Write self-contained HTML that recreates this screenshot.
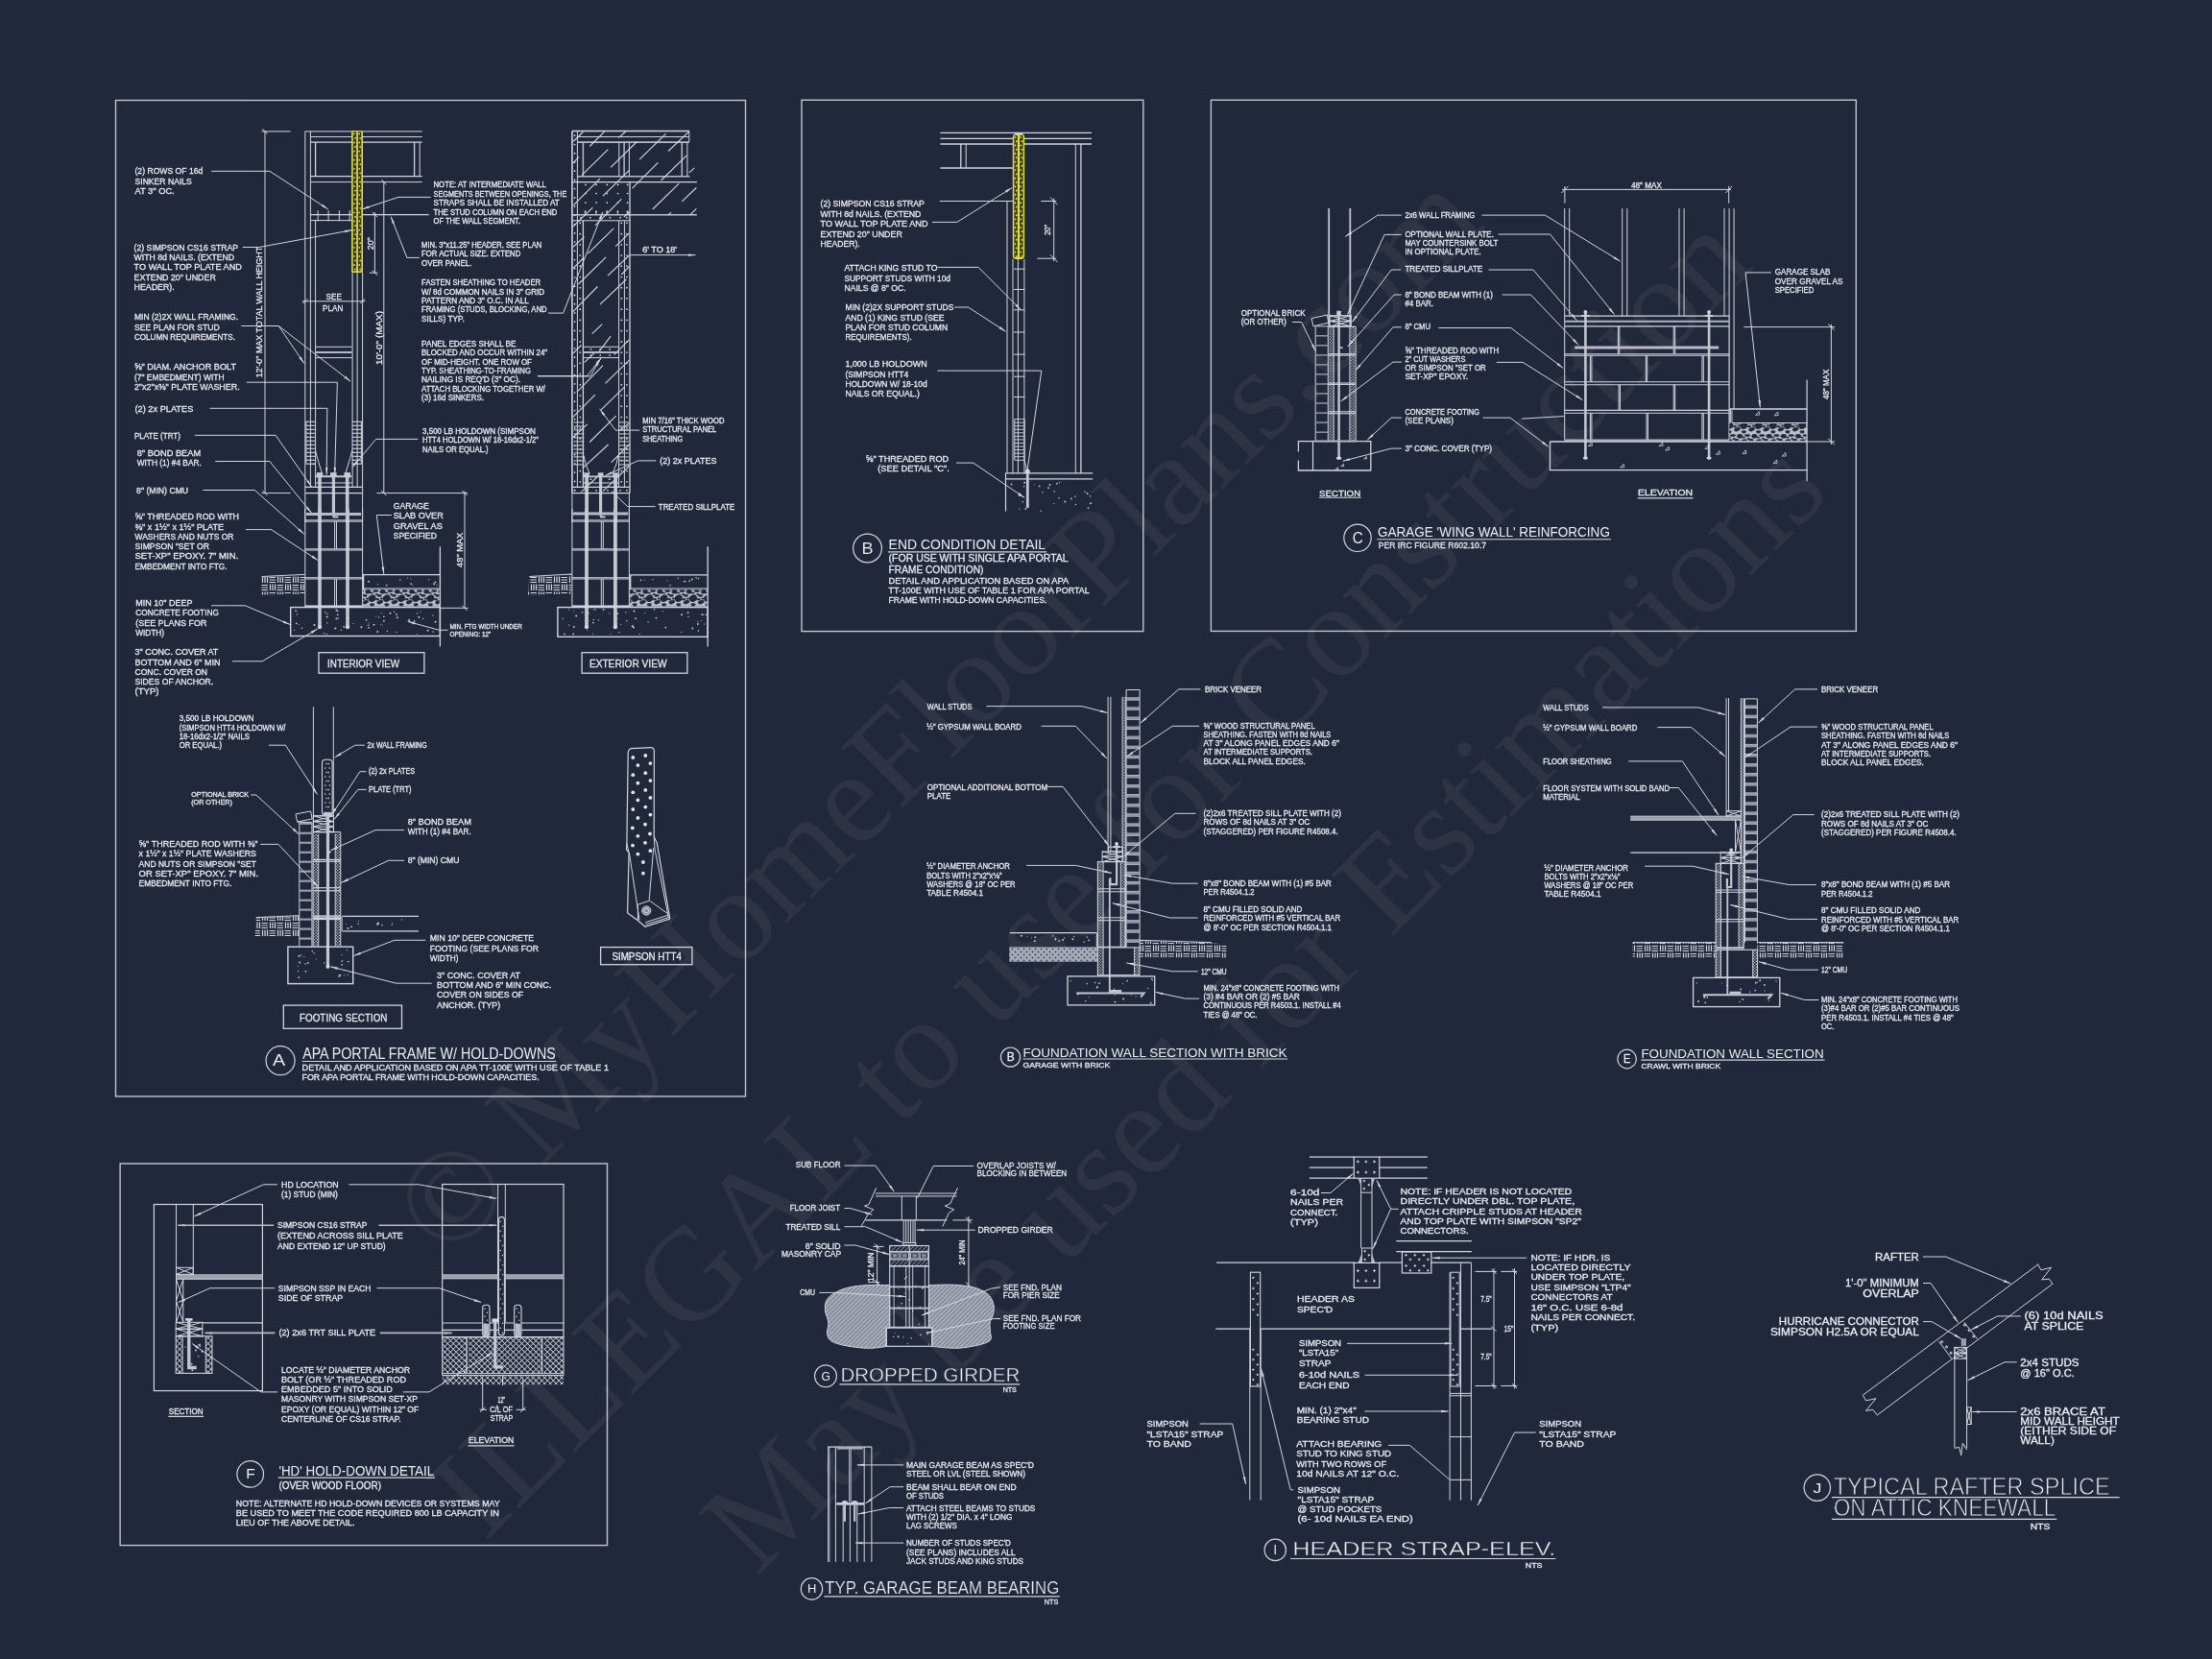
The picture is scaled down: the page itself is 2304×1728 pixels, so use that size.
<!DOCTYPE html>
<html><head><meta charset="utf-8"><title>Details</title>
<style>
html,body{margin:0;padding:0;background:#23293c;}
body{width:2304px;height:1728px;overflow:hidden;}
svg{display:block;position:absolute;left:0;top:0;opacity:0.999;will-change:transform;}
text{font-family:"Liberation Sans",sans-serif;stroke:#eceef4;stroke-width:0.28px;}
.wm text{stroke:none;}
.wm text{font-family:"Liberation Serif",serif;}
</style></head><body>
<svg width="2304" height="1728" viewBox="0 0 2304 1728">
<defs>
<pattern id="earth" width="3.2" height="3.2" patternUnits="userSpaceOnUse" patternTransform="rotate(45)"><line x1="0" y1="0" x2="0" y2="3.2" stroke="#d4d7e0" stroke-width="1.2"/></pattern>
<pattern id="xh" width="4.2" height="4.2" patternUnits="userSpaceOnUse" patternTransform="rotate(45)"><path d="M0 0H4.2M0 0V4.2" stroke="#d0d3dc" stroke-width="1.5"/></pattern>
<pattern id="cmu" width="3" height="3" patternUnits="userSpaceOnUse"><circle cx="0.8" cy="0.8" r="0.7" fill="#d0d3dc"/><circle cx="2.3" cy="2.3" r="0.7" fill="#d0d3dc"/></pattern>
<pattern id="gravel" width="15.2" height="18" patternUnits="userSpaceOnUse"><rect width="15.2" height="18" fill="#bcc0ca"/><g fill="#23283d"><ellipse cx="7.6" cy="11.2" rx="4.2" ry="3.6" transform="rotate(-25 7.6 11.2)"/><ellipse cx="3.4" cy="4.2" rx="3.0" ry="2.3"/><ellipse cx="11.3" cy="3.6" rx="3.0" ry="1.3"/><ellipse cx="0" cy="8.4" rx="2.6" ry="1.4"/><ellipse cx="15.2" cy="8.4" rx="2.6" ry="1.4"/><ellipse cx="0.6" cy="15.2" rx="3.4" ry="2.0" transform="rotate(-20 0.6 15.2)"/><ellipse cx="15.8" cy="15.2" rx="3.4" ry="2.0" transform="rotate(-20 15.8 15.2)"/><ellipse cx="13.4" cy="12.2" rx="1.7" ry="1.2"/><ellipse cx="2.2" cy="11.6" rx="1.5" ry="1.1"/><ellipse cx="12.4" cy="7.0" rx="1.6" ry="0.9"/><ellipse cx="7.6" cy="0.6" rx="2.2" ry="0.9"/><ellipse cx="7.6" cy="17.2" rx="2.6" ry="1.0"/><ellipse cx="7.4" cy="5.6" rx="1.8" ry="0.9"/></g></pattern>
<pattern id="gdots" width="6" height="6" patternUnits="userSpaceOnUse"><circle cx="1.5" cy="1.5" r="0.9" fill="#3a3f55"/><circle cx="4.5" cy="4.5" r="0.9" fill="#3a3f55"/></pattern>
<pattern id="bw" width="16" height="16" patternUnits="userSpaceOnUse"><path d="M0.5 1.5H7M0.5 4H7M0.5 6.5H7M9.5 0.5V7M12 0.5V7M14.5 0.5V7M1.5 8.5V15M4 8.5V15M6.5 8.5V15M8.5 9.5H15M8.5 12H15M8.5 14.5H15" stroke="#d6d9e2" stroke-width="1.2" fill="none"/></pattern>
</defs>
<rect width="2304" height="1728" fill="#23293c"/>
<g opacity="0.999">
<rect x="120.5" y="104.5" width="656" height="1037.5" stroke="#c3c6d0" stroke-width="1.4" fill="none"/>
<rect x="835" y="104.2" width="355.8" height="553.4" stroke="#c3c6d0" stroke-width="1.4" fill="none"/>
<rect x="1261.4" y="104.2" width="671.9" height="553.2" stroke="#c3c6d0" stroke-width="1.4" fill="none"/>
<rect x="125.1" y="1212" width="507.4" height="397.6" stroke="#c3c6d0" stroke-width="1.4" fill="none"/>
<g class="wm"><text x="465.6" y="1314.4" font-size="137.2" fill="rgba(255,255,255,0.054)" transform="rotate(-44.9 465.6 1314.4)">© MyHomeFloorPlans.com</text></g>
<g class="wm"><text x="505" y="1607.1" font-size="137.7" fill="rgba(255,255,255,0.054)" transform="rotate(-45.1 505 1607.1)">ILLEGAL to use for Construction</text></g>
<g class="wm"><text x="788.4" y="1642.4" font-size="138.2" fill="rgba(255,255,255,0.054)" transform="rotate(-45.2 788.4 1642.4)">May be used for Estimations</text></g>
<text x="140.5" y="181.4" font-size="9.4" fill="#eceef4" textLength="70.8" lengthAdjust="spacingAndGlyphs">(2) ROWS OF 16d</text>
<text x="140.5" y="191.8" font-size="9.4" fill="#eceef4" textLength="59.3" lengthAdjust="spacingAndGlyphs">SINKER NAILS</text>
<text x="140.5" y="202.3" font-size="9.4" fill="#eceef4" textLength="41.2" lengthAdjust="spacingAndGlyphs">AT 3" OC.</text>
<path d="M220.1 178.3 L280.9 178.3 L341.7 217.9" stroke="#d4d7e0" stroke-width="1" fill="none"/>
<path d="M341.7 217.9 L334.8 214.8 L336.1 212.7 Z" fill="#d4d7e0" stroke="none"/>
<text x="139.6" y="260.6" font-size="9.4" fill="#eceef4" textLength="108.5" lengthAdjust="spacingAndGlyphs">(2) SIMPSON CS16 STRAP</text>
<text x="139.6" y="271" font-size="9.4" fill="#eceef4" textLength="104.5" lengthAdjust="spacingAndGlyphs">WITH 8d NAILS. (EXTEND</text>
<text x="139.6" y="281.4" font-size="9.4" fill="#eceef4" textLength="112.3" lengthAdjust="spacingAndGlyphs">TO WALL TOP PLATE AND</text>
<text x="139.6" y="291.8" font-size="9.4" fill="#eceef4" textLength="85.2" lengthAdjust="spacingAndGlyphs">EXTEND 20" UNDER</text>
<text x="139.6" y="302.2" font-size="9.4" fill="#eceef4" textLength="42.1" lengthAdjust="spacingAndGlyphs">HEADER).</text>
<path d="M252.8 257.5 L270 257.5 L366.7 239.7" stroke="#d4d7e0" stroke-width="1" fill="none"/>
<path d="M366.7 239.7 L359.5 242.3 L359.1 239.8 Z" fill="#d4d7e0" stroke="none"/>
<text x="139.9" y="333.3" font-size="9.4" fill="#eceef4" textLength="108.2" lengthAdjust="spacingAndGlyphs">MIN (2)2X WALL FRAMING.</text>
<text x="139.9" y="343.7" font-size="9.4" fill="#eceef4" textLength="88.9" lengthAdjust="spacingAndGlyphs">SEE PLAN FOR STUD</text>
<text x="139.9" y="354.1" font-size="9.4" fill="#eceef4" textLength="105.1" lengthAdjust="spacingAndGlyphs">COLUMN REQUIREMENTS.</text>
<path d="M251.3 339.5 L290.3 339.5" stroke="#d4d7e0" stroke-width="1" fill="none"/>
<path d="M290.3 339.5 L316.8 378.5" stroke="#d4d7e0" stroke-width="1" fill="none"/>
<path d="M316.8 378.5 L311.5 373 L313.6 371.6 Z" fill="#d4d7e0" stroke="none"/>
<path d="M290.3 339.5 L365.1 397.2" stroke="#d4d7e0" stroke-width="1" fill="none"/>
<path d="M365.1 397.2 L358.4 393.6 L360 391.7 Z" fill="#d4d7e0" stroke="none"/>
<text x="139.9" y="385.4" font-size="9.4" fill="#eceef4" textLength="106.1" lengthAdjust="spacingAndGlyphs">⅝" DIAM. ANCHOR BOLT</text>
<text x="139.9" y="395.7" font-size="9.4" fill="#eceef4" textLength="93.6" lengthAdjust="spacingAndGlyphs">(7" EMBEDMENT) WITH</text>
<text x="139.9" y="406" font-size="9.4" fill="#eceef4" textLength="109.8" lengthAdjust="spacingAndGlyphs">2"x2"x⅜" PLATE WASHER.</text>
<path d="M256.9 398.2 L351.4 398.2 L348.6 494.6" stroke="#d4d7e0" stroke-width="1" fill="none"/>
<path d="M348.6 494.6 L347.6 487 L350.1 487.1 Z" fill="#d4d7e0" stroke="none"/>
<text x="140.5" y="429.1" font-size="9.4" fill="#eceef4" textLength="60.8" lengthAdjust="spacingAndGlyphs">(2) 2x PLATES</text>
<path d="M218.5 425.3 L340.8 425.3 L340.2 494.6" stroke="#d4d7e0" stroke-width="1" fill="none"/>
<path d="M340.2 494.6 L339 487 L341.5 487.1 Z" fill="#d4d7e0" stroke="none"/>
<text x="139.9" y="456.5" font-size="9.4" fill="#eceef4" textLength="48" lengthAdjust="spacingAndGlyphs">PLATE (TRT)</text>
<path d="M202.9 453.4 L287.1 453.4 L324.6 507" stroke="#d4d7e0" stroke-width="1" fill="none"/>
<path d="M324.6 507 L319.3 501.6 L321.3 500.2 Z" fill="#d4d7e0" stroke="none"/>
<text x="142.7" y="474.6" font-size="9.4" fill="#eceef4" textLength="66.4" lengthAdjust="spacingAndGlyphs">8" BOND BEAM</text>
<text x="142.7" y="485.2" font-size="9.4" fill="#eceef4" textLength="67.1" lengthAdjust="spacingAndGlyphs">WITH (1) #4 BAR.</text>
<path d="M224.1 480.5 L280.9 480.5 L324.6 534.5" stroke="#d4d7e0" stroke-width="1" fill="none"/>
<path d="M324.6 534.5 L318.9 529.4 L320.8 527.9 Z" fill="#d4d7e0" stroke="none"/>
<text x="142.1" y="514.2" font-size="9.4" fill="#eceef4" textLength="54" lengthAdjust="spacingAndGlyphs">8" (MIN) CMU</text>
<path d="M211.4 510.5 L265.3 510.5 L316.8 556.3" stroke="#d4d7e0" stroke-width="1" fill="none"/>
<path d="M316.8 556.3 L310.3 552.3 L312 550.4 Z" fill="#d4d7e0" stroke="none"/>
<text x="140.5" y="541.3" font-size="9.4" fill="#eceef4" textLength="108.5" lengthAdjust="spacingAndGlyphs">⅝" THREADED ROD WITH</text>
<text x="140.5" y="551.6" font-size="9.4" fill="#eceef4" textLength="92.6" lengthAdjust="spacingAndGlyphs">⅜" x 1½" x 1½" PLATE</text>
<text x="140.5" y="561.8" font-size="9.4" fill="#eceef4" textLength="102.9" lengthAdjust="spacingAndGlyphs">WASHERS AND NUTS OR</text>
<text x="140.5" y="572" font-size="9.4" fill="#eceef4" textLength="77.4" lengthAdjust="spacingAndGlyphs">SIMPSON "SET OR</text>
<text x="140.5" y="582.3" font-size="9.4" fill="#eceef4" textLength="107.6" lengthAdjust="spacingAndGlyphs">SET-XP" EPOXY.  7" MIN.</text>
<text x="140.5" y="592.5" font-size="9.4" fill="#eceef4" textLength="96.1" lengthAdjust="spacingAndGlyphs">EMBEDMENT INTO FTG.</text>
<path d="M256 551.6 L282.5 551.6 L331.4 583.8" stroke="#d4d7e0" stroke-width="1" fill="none"/>
<path d="M331.4 583.8 L324.5 580.7 L325.9 578.6 Z" fill="#d4d7e0" stroke="none"/>
<text x="141.2" y="630.8" font-size="9.4" fill="#eceef4" textLength="59.3" lengthAdjust="spacingAndGlyphs">MIN 10" DEEP</text>
<text x="141.2" y="641.2" font-size="9.4" fill="#eceef4" textLength="86.7" lengthAdjust="spacingAndGlyphs">CONCRETE FOOTING</text>
<text x="141.2" y="651.6" font-size="9.4" fill="#eceef4" textLength="74.2" lengthAdjust="spacingAndGlyphs">(SEE PLANS FOR</text>
<text x="141.2" y="662" font-size="9.4" fill="#eceef4" textLength="29.9" lengthAdjust="spacingAndGlyphs">WIDTH)</text>
<path d="M220.1 630.8 L255.3 630.8 L302.1 650.5" stroke="#d4d7e0" stroke-width="1" fill="none"/>
<path d="M302.1 650.5 L294.7 648.7 L295.7 646.4 Z" fill="#d4d7e0" stroke="none"/>
<text x="140.5" y="682.3" font-size="9.4" fill="#eceef4" textLength="86.7" lengthAdjust="spacingAndGlyphs">3" CONC. COVER AT</text>
<text x="140.5" y="692.6" font-size="9.4" fill="#eceef4" textLength="88.9" lengthAdjust="spacingAndGlyphs">BOTTOM AND 6" MIN</text>
<text x="140.5" y="702.9" font-size="9.4" fill="#eceef4" textLength="75.5" lengthAdjust="spacingAndGlyphs">CONC. COVER ON</text>
<text x="140.5" y="713.2" font-size="9.4" fill="#eceef4" textLength="81.7" lengthAdjust="spacingAndGlyphs">SIDES OF ANCHOR.</text>
<text x="140.5" y="723.4" font-size="9.4" fill="#eceef4" textLength="25" lengthAdjust="spacingAndGlyphs">(TYP)</text>
<path d="M241.9 688.8 L273.1 688.8 L330.8 655.1" stroke="#d4d7e0" stroke-width="1" fill="none"/>
<path d="M330.8 655.1 L325 660 L323.7 657.8 Z" fill="#d4d7e0" stroke="none"/>
<text x="272.8" y="393.2" font-size="9.8" fill="#eceef4" textLength="136.3" lengthAdjust="spacingAndGlyphs" transform="rotate(-90 272.8 393.2)">12'-0" MAX TOTAL WALL HEIGHT</text>
<text x="398.2" y="380.1" font-size="9.8" fill="#eceef4" textLength="56.1" lengthAdjust="spacingAndGlyphs" transform="rotate(-90 398.2 380.1)">10'-0" (MAX)</text>
<text x="388.8" y="260.3" font-size="9.4" fill="#eceef4" textLength="13.1" lengthAdjust="spacingAndGlyphs" transform="rotate(-90 388.8 260.3)">20"</text>
<text x="482.4" y="590.9" font-size="9.8" fill="#eceef4" textLength="36.2" lengthAdjust="spacingAndGlyphs" transform="rotate(-90 482.4 590.9)">48" MAX</text>
<text x="339.6" y="311.5" font-size="9.6" fill="#eceef4" textLength="16.2" lengthAdjust="spacingAndGlyphs">SEE</text>
<text x="336.1" y="323.9" font-size="9.6" fill="#eceef4" textLength="21.2" lengthAdjust="spacingAndGlyphs">PLAN</text>
<text x="451.5" y="195.4" font-size="8.2" fill="#eceef4" textLength="117.3" lengthAdjust="spacingAndGlyphs">NOTE: AT INTERMEDIATE WALL</text>
<text x="451.5" y="204.8" font-size="8.2" fill="#eceef4" textLength="138.8" lengthAdjust="spacingAndGlyphs">SEGMENTS BETWEEN OPENINGS, THE</text>
<text x="451.5" y="214.1" font-size="8.2" fill="#eceef4" textLength="131.3" lengthAdjust="spacingAndGlyphs">STRAPS SHALL BE INSTALLED AT</text>
<text x="451.5" y="223.5" font-size="8.2" fill="#eceef4" textLength="128.8" lengthAdjust="spacingAndGlyphs">THE STUD COLUMN ON EACH END</text>
<text x="451.5" y="232.9" font-size="8.2" fill="#eceef4" textLength="90.5" lengthAdjust="spacingAndGlyphs">OF THE WALL SEGMENT.</text>
<path d="M448.7 205.4 L415 205.4 L377 217.9" stroke="#d4d7e0" stroke-width="1" fill="none"/>
<path d="M377 217.9 L383.7 214.4 L384.5 216.7 Z" fill="#d4d7e0" stroke="none"/>
<text x="439.1" y="257.8" font-size="8.2" fill="#eceef4" textLength="125.1" lengthAdjust="spacingAndGlyphs">MIN. 3"x11.25" HEADER. SEE PLAN</text>
<text x="439.1" y="267.2" font-size="8.2" fill="#eceef4" textLength="103.2" lengthAdjust="spacingAndGlyphs">FOR ACTUAL SIZE. EXTEND</text>
<text x="439.1" y="276.5" font-size="8.2" fill="#eceef4" textLength="52.4" lengthAdjust="spacingAndGlyphs">OVER PANEL.</text>
<path d="M436.9 268.4 L423.8 268.4 L407.2 225.7" stroke="#d4d7e0" stroke-width="1" fill="none"/>
<path d="M407.2 225.7 L411.1 232.2 L408.8 233.1 Z" fill="#d4d7e0" stroke="none"/>
<text x="439.1" y="297.1" font-size="8.2" fill="#eceef4" textLength="124.1" lengthAdjust="spacingAndGlyphs">FASTEN SHEATHING TO HEADER</text>
<text x="439.1" y="306.5" font-size="8.2" fill="#eceef4" textLength="127.9" lengthAdjust="spacingAndGlyphs">W/ 8d COMMON NAILS IN 3" GRID</text>
<text x="439.1" y="315.8" font-size="8.2" fill="#eceef4" textLength="111.7" lengthAdjust="spacingAndGlyphs">PATTERN AND 3" O.C. IN ALL</text>
<text x="439.1" y="325.2" font-size="8.2" fill="#eceef4" textLength="130.4" lengthAdjust="spacingAndGlyphs">FRAMING (STUDS, BLOCKING, AND</text>
<text x="439.1" y="334.5" font-size="8.2" fill="#eceef4" textLength="44.6" lengthAdjust="spacingAndGlyphs">SILLS) TYP.</text>
<path d="M571 326.1 L586.6 326.1 L627.8 221" stroke="#d4d7e0" stroke-width="1" fill="none"/>
<path d="M627.8 221 L626.2 228.4 L623.9 227.5 Z" fill="#d4d7e0" stroke="none"/>
<text x="439.1" y="360.7" font-size="8.2" fill="#eceef4" textLength="98.3" lengthAdjust="spacingAndGlyphs">PANEL EDGES SHALL BE</text>
<text x="439.1" y="370.1" font-size="8.2" fill="#eceef4" textLength="131" lengthAdjust="spacingAndGlyphs">BLOCKED AND OCCUR WITHIN 24"</text>
<text x="439.1" y="379.5" font-size="8.2" fill="#eceef4" textLength="114.8" lengthAdjust="spacingAndGlyphs">OF MID-HEIGHT.  ONE ROW OF</text>
<text x="439.1" y="388.8" font-size="8.2" fill="#eceef4" textLength="113.8" lengthAdjust="spacingAndGlyphs">TYP. SHEATHING-TO-FRAMING</text>
<text x="439.1" y="398.2" font-size="8.2" fill="#eceef4" textLength="102.9" lengthAdjust="spacingAndGlyphs">NAILING IS REQ'D (3" OC).</text>
<text x="439.1" y="407.5" font-size="8.2" fill="#eceef4" textLength="128.8" lengthAdjust="spacingAndGlyphs">ATTACH BLOCKING TOGETHER W/</text>
<text x="439.1" y="416.9" font-size="8.2" fill="#eceef4" textLength="64.9" lengthAdjust="spacingAndGlyphs">(3) 16d SINKERS.</text>
<path d="M560.1 391.6 L611.5 391.6 L626.5 372.3" stroke="#d4d7e0" stroke-width="1" fill="none"/>
<path d="M626.5 372.3 L622.9 379 L620.9 377.4 Z" fill="#d4d7e0" stroke="none"/>
<text x="440" y="451.8" font-size="8.2" fill="#eceef4" textLength="117.9" lengthAdjust="spacingAndGlyphs">3,500 LB HOLDOWN (SIMPSON</text>
<text x="440" y="461.2" font-size="8.2" fill="#eceef4" textLength="121" lengthAdjust="spacingAndGlyphs">HTT4 HOLDOWN W/ 18-16dx2-1/2"</text>
<text x="440" y="470.5" font-size="8.2" fill="#eceef4" textLength="68.6" lengthAdjust="spacingAndGlyphs">NAILS OR EQUAL.)</text>
<path d="M435.3 457.4 L391.6 457.4 L367 486.8" stroke="#d4d7e0" stroke-width="1" fill="none"/>
<path d="M367 486.8 L370.9 480.2 L372.8 481.8 Z" fill="#d4d7e0" stroke="none"/>
<text x="409.7" y="529.8" font-size="9.4" fill="#eceef4" textLength="37.1" lengthAdjust="spacingAndGlyphs">GARAGE</text>
<text x="409.7" y="540.2" font-size="9.4" fill="#eceef4" textLength="52.1" lengthAdjust="spacingAndGlyphs">SLAB OVER</text>
<text x="409.7" y="550.6" font-size="9.4" fill="#eceef4" textLength="51.2" lengthAdjust="spacingAndGlyphs">GRAVEL AS</text>
<text x="409.7" y="561" font-size="9.4" fill="#eceef4" textLength="45.2" lengthAdjust="spacingAndGlyphs">SPECIFIED</text>
<text x="669.2" y="263.1" font-size="8.2" fill="#eceef4" textLength="35.9" lengthAdjust="spacingAndGlyphs">6' TO 18'</text>
<path d="M655.8 265.6 L724.5 265.6" stroke="#d4d7e0" stroke-width="1" fill="none"/>
<path d="M724.5 265.6 L717 266.9 L717 264.4 Z" fill="#d4d7e0" stroke="none"/>
<text x="669.2" y="440.9" font-size="8.2" fill="#eceef4" textLength="85.2" lengthAdjust="spacingAndGlyphs">MIN 7/16" THICK WOOD</text>
<text x="669.2" y="450.3" font-size="8.2" fill="#eceef4" textLength="77" lengthAdjust="spacingAndGlyphs">STRUCTURAL PANEL</text>
<text x="669.2" y="459.6" font-size="8.2" fill="#eceef4" textLength="42.1" lengthAdjust="spacingAndGlyphs">SHEATHING</text>
<path d="M666.1 448.1 L641.2 448.1 L624.6 425.9" stroke="#d4d7e0" stroke-width="1" fill="none"/>
<path d="M624.6 425.9 L630.1 431.2 L628.1 432.7 Z" fill="#d4d7e0" stroke="none"/>
<text x="687.3" y="483" font-size="9.4" fill="#eceef4" textLength="59.3" lengthAdjust="spacingAndGlyphs">(2) 2x PLATES</text>
<path d="M683.3 479.9 L664.6 479.9 L630.3 495.5" stroke="#d4d7e0" stroke-width="1" fill="none"/>
<path d="M630.3 495.5 L636.6 491.2 L637.6 493.5 Z" fill="#d4d7e0" stroke="none"/>
<text x="685.8" y="531.4" font-size="8.2" fill="#eceef4" textLength="79.5" lengthAdjust="spacingAndGlyphs">TREATED SILLPLATE</text>
<path d="M682.7 527.6 L653.6 527.6 L637.1 511.7" stroke="#d4d7e0" stroke-width="1" fill="none"/>
<path d="M637.1 511.7 L643.4 516 L641.7 517.8 Z" fill="#d4d7e0" stroke="none"/>
<path d="M317.8 136.9 L439.7 136.9" stroke="#d4d7e0" stroke-width="1" fill="none"/>
<path d="M323.4 142.5 L439.7 142.5" stroke="#d4d7e0" stroke-width="1" fill="none"/>
<path d="M323.4 148.1 L439.7 148.1" stroke="#d4d7e0" stroke-width="1.3" fill="none"/>
<path d="M323.4 183.7 L439.7 183.7" stroke="#d4d7e0" stroke-width="1.3" fill="none"/>
<path d="M323.4 189.6 L439.7 189.6" stroke="#d4d7e0" stroke-width="1" fill="none"/>
<path d="M328.6 148.1 L328.6 183.7" stroke="#d4d7e0" stroke-width="1.3" fill="none"/>
<path d="M431.6 148.1 L431.6 183.7" stroke="#d4d7e0" stroke-width="1.3" fill="none"/>
<path d="M437.2 148.1 L437.2 183.7" stroke="#d4d7e0" stroke-width="1" fill="none"/>
<path d="M317.8 136.9 L317.8 513.6" stroke="#d4d7e0" stroke-width="1" fill="none"/>
<path d="M323.4 136.9 L323.4 507.3" stroke="#d4d7e0" stroke-width="1" fill="none"/>
<path d="M328.6 229.6 L328.6 507.3" stroke="#d4d7e0" stroke-width="1" fill="none"/>
<path d="M367.1 284.1 L367.1 507.3" stroke="#d4d7e0" stroke-width="1" fill="none"/>
<path d="M372.1 284.1 L372.1 507.3" stroke="#d4d7e0" stroke-width="1" fill="none"/>
<path d="M377.6 284.1 L377.6 513.6" stroke="#d4d7e0" stroke-width="1" fill="none"/>
<path d="M323.4 223.6 L446.6 223.6" stroke="#d4d7e0" stroke-width="1.3" fill="none"/>
<path d="M323.4 229.6 L366.1 229.6" stroke="#d4d7e0" stroke-width="1" fill="none"/>
<path d="M331.1 219.2 L331.1 230.4" stroke="#d4d7e0" stroke-width="1" fill="none"/>
<path d="M342.1 219.2 L342.1 230.4" stroke="#d4d7e0" stroke-width="1" fill="none"/>
<path d="M353.4 219.2 L353.4 230.4" stroke="#d4d7e0" stroke-width="1" fill="none"/>
<path d="M364.2 219.2 L364.2 230.4" stroke="#d4d7e0" stroke-width="1" fill="none"/>
<rect x="366.1" y="136.2" width="11.9" height="147.9" rx="1.5" fill="#e4e448"/>
<rect x="367.7" y="137.2" width="3.5" height="145.2" fill="#26280f" opacity="0.9"/>
<rect x="372.9" y="137.2" width="3.5" height="145.2" fill="#26280f" opacity="0.9"/>
<g fill="#e4e448"><circle cx="369" cy="139.4" r="0.9"/><circle cx="374.2" cy="139.4" r="0.9"/><circle cx="370" cy="143.9" r="0.9"/><circle cx="375.2" cy="143.9" r="0.9"/><circle cx="369" cy="148.5" r="0.9"/><circle cx="374.2" cy="148.5" r="0.9"/><circle cx="370" cy="153" r="0.9"/><circle cx="375.2" cy="153" r="0.9"/><circle cx="369" cy="157.6" r="0.9"/><circle cx="374.2" cy="157.6" r="0.9"/><circle cx="370" cy="162.1" r="0.9"/><circle cx="375.2" cy="162.1" r="0.9"/><circle cx="369" cy="166.7" r="0.9"/><circle cx="374.2" cy="166.7" r="0.9"/><circle cx="370" cy="171.2" r="0.9"/><circle cx="375.2" cy="171.2" r="0.9"/><circle cx="369" cy="175.8" r="0.9"/><circle cx="374.2" cy="175.8" r="0.9"/><circle cx="370" cy="180.3" r="0.9"/><circle cx="375.2" cy="180.3" r="0.9"/><circle cx="369" cy="184.9" r="0.9"/><circle cx="374.2" cy="184.9" r="0.9"/><circle cx="370" cy="189.5" r="0.9"/><circle cx="375.2" cy="189.5" r="0.9"/><circle cx="369" cy="194" r="0.9"/><circle cx="374.2" cy="194" r="0.9"/><circle cx="370" cy="198.6" r="0.9"/><circle cx="375.2" cy="198.6" r="0.9"/><circle cx="369" cy="203.1" r="0.9"/><circle cx="374.2" cy="203.1" r="0.9"/><circle cx="370" cy="207.7" r="0.9"/><circle cx="375.2" cy="207.7" r="0.9"/><circle cx="369" cy="212.2" r="0.9"/><circle cx="374.2" cy="212.2" r="0.9"/><circle cx="370" cy="216.8" r="0.9"/><circle cx="375.2" cy="216.8" r="0.9"/><circle cx="369" cy="221.3" r="0.9"/><circle cx="374.2" cy="221.3" r="0.9"/><circle cx="370" cy="225.9" r="0.9"/><circle cx="375.2" cy="225.9" r="0.9"/><circle cx="369" cy="230.4" r="0.9"/><circle cx="374.2" cy="230.4" r="0.9"/><circle cx="370" cy="235" r="0.9"/><circle cx="375.2" cy="235" r="0.9"/><circle cx="369" cy="239.6" r="0.9"/><circle cx="374.2" cy="239.6" r="0.9"/><circle cx="370" cy="244.1" r="0.9"/><circle cx="375.2" cy="244.1" r="0.9"/><circle cx="369" cy="248.7" r="0.9"/><circle cx="374.2" cy="248.7" r="0.9"/><circle cx="370" cy="253.2" r="0.9"/><circle cx="375.2" cy="253.2" r="0.9"/><circle cx="369" cy="257.8" r="0.9"/><circle cx="374.2" cy="257.8" r="0.9"/><circle cx="370" cy="262.3" r="0.9"/><circle cx="375.2" cy="262.3" r="0.9"/><circle cx="369" cy="266.9" r="0.9"/><circle cx="374.2" cy="266.9" r="0.9"/><circle cx="370" cy="271.4" r="0.9"/><circle cx="375.2" cy="271.4" r="0.9"/><circle cx="369" cy="276" r="0.9"/><circle cx="374.2" cy="276" r="0.9"/><circle cx="370" cy="280.5" r="0.9"/><circle cx="375.2" cy="280.5" r="0.9"/></g>
<path d="M276 136.2 L276 513.6" stroke="#d4d7e0" stroke-width="1" fill="none"/>
<path d="M272.5 136.9 L302.7 136.9" stroke="#d4d7e0" stroke-width="1" fill="none"/>
<path d="M273.3 134.2 L278.6 139.5" stroke="#d4d7e0" stroke-width="1" fill="none"/>
<path d="M272.5 513.6 L302.7 513.6" stroke="#d4d7e0" stroke-width="1" fill="none"/>
<path d="M273.3 510.9 L278.6 516.2" stroke="#d4d7e0" stroke-width="1" fill="none"/>
<path d="M390.4 221.1 L390.4 284.7" stroke="#d4d7e0" stroke-width="1" fill="none"/>
<path d="M387.8 220.9 L393.1 226.2" stroke="#d4d7e0" stroke-width="1" fill="none"/>
<path d="M387.8 281.5 L393.1 286.8" stroke="#d4d7e0" stroke-width="1" fill="none"/>
<path d="M384.8 284.1 L393.5 284.1" stroke="#d4d7e0" stroke-width="1" fill="none"/>
<path d="M399.8 188.6 L399.8 513.6" stroke="#d4d7e0" stroke-width="1" fill="none"/>
<path d="M397.1 187 L402.4 192.3" stroke="#d4d7e0" stroke-width="1" fill="none"/>
<path d="M392.3 513.6 L487.1 513.6" stroke="#d4d7e0" stroke-width="1" fill="none"/>
<path d="M397.1 510.9 L402.4 516.2" stroke="#d4d7e0" stroke-width="1" fill="none"/>
<path d="M481.4 510.9 L486.6 516.2" stroke="#d4d7e0" stroke-width="1" fill="none"/>
<path d="M484 511.7 L484 633.6" stroke="#d4d7e0" stroke-width="1" fill="none"/>
<path d="M458.4 633.3 L487.7 633.3" stroke="#d4d7e0" stroke-width="1" fill="none"/>
<path d="M481.4 630.7 L486.6 636" stroke="#d4d7e0" stroke-width="1" fill="none"/>
<path d="M314.9 313.8 L380.4 313.8" stroke="#d4d7e0" stroke-width="1" fill="none"/>
<path d="M315.3 316.3 L320.3 311.3" stroke="#d4d7e0" stroke-width="1" fill="none"/>
<path d="M375.1 316.3 L380 311.3" stroke="#d4d7e0" stroke-width="1" fill="none"/>
<path d="M328.6 361.3 L366.7 361.3" stroke="#d4d7e0" stroke-width="1" fill="none"/>
<path d="M328.6 366.9 L366.7 366.9" stroke="#b9bcc8" stroke-width="2" fill="none"/>
<path d="M328.6 372.6 L366.7 372.6" stroke="#d4d7e0" stroke-width="1" fill="none"/>
<path d="M318.9 439.3 L328.6 439.3" stroke="#d4d7e0" stroke-width="1.1" fill="none"/>
<path d="M318.9 443.3 L328.6 443.3" stroke="#d4d7e0" stroke-width="1.1" fill="none"/>
<path d="M318.9 447.3 L328.6 447.3" stroke="#d4d7e0" stroke-width="1.1" fill="none"/>
<path d="M318.9 451.3 L328.6 451.3" stroke="#d4d7e0" stroke-width="1.1" fill="none"/>
<path d="M318.9 455.3 L328.6 455.3" stroke="#d4d7e0" stroke-width="1.1" fill="none"/>
<path d="M318.9 459.3 L328.6 459.3" stroke="#d4d7e0" stroke-width="1.1" fill="none"/>
<path d="M318.9 463.3 L328.6 463.3" stroke="#d4d7e0" stroke-width="1.1" fill="none"/>
<path d="M318.9 467.3 L328.6 467.3" stroke="#d4d7e0" stroke-width="1.1" fill="none"/>
<path d="M318.9 471.3 L328.6 471.3" stroke="#d4d7e0" stroke-width="1.1" fill="none"/>
<path d="M318.9 475.3 L328.6 475.3" stroke="#d4d7e0" stroke-width="1.1" fill="none"/>
<path d="M318.9 479.3 L328.6 479.3" stroke="#d4d7e0" stroke-width="1.1" fill="none"/>
<path d="M318.9 483.2 L328.6 483.2" stroke="#d4d7e0" stroke-width="1.1" fill="none"/>
<path d="M366.7 439.3 L376.4 439.3" stroke="#d4d7e0" stroke-width="1.1" fill="none"/>
<path d="M366.7 443.3 L376.4 443.3" stroke="#d4d7e0" stroke-width="1.1" fill="none"/>
<path d="M366.7 447.3 L376.4 447.3" stroke="#d4d7e0" stroke-width="1.1" fill="none"/>
<path d="M366.7 451.3 L376.4 451.3" stroke="#d4d7e0" stroke-width="1.1" fill="none"/>
<path d="M366.7 455.3 L376.4 455.3" stroke="#d4d7e0" stroke-width="1.1" fill="none"/>
<path d="M366.7 459.3 L376.4 459.3" stroke="#d4d7e0" stroke-width="1.1" fill="none"/>
<path d="M366.7 463.3 L376.4 463.3" stroke="#d4d7e0" stroke-width="1.1" fill="none"/>
<path d="M366.7 467.3 L376.4 467.3" stroke="#d4d7e0" stroke-width="1.1" fill="none"/>
<path d="M366.7 471.3 L376.4 471.3" stroke="#d4d7e0" stroke-width="1.1" fill="none"/>
<path d="M366.7 475.3 L376.4 475.3" stroke="#d4d7e0" stroke-width="1.1" fill="none"/>
<path d="M366.7 479.3 L376.4 479.3" stroke="#d4d7e0" stroke-width="1.1" fill="none"/>
<path d="M366.7 483.2 L376.4 483.2" stroke="#d4d7e0" stroke-width="1.1" fill="none"/>
<path d="M318.9 438.7 L318.9 483.2" stroke="#d4d7e0" stroke-width="1" fill="none"/>
<path d="M376.4 438.7 L376.4 483.2" stroke="#d4d7e0" stroke-width="1" fill="none"/>
<path d="M328.6 469.3 L330.5 476.8 L335.5 493.6" stroke="#d4d7e0" stroke-width="1" fill="none"/>
<path d="M366.7 469.3 L364.8 476.8 L359.8 493.6" stroke="#d4d7e0" stroke-width="1" fill="none"/>
<path d="M324.9 483.2 L328.6 483.2" stroke="#d4d7e0" stroke-width="1" fill="none"/>
<path d="M366.7 483.2 L370.4 483.2" stroke="#d4d7e0" stroke-width="1" fill="none"/>
<path d="M333 494.5 L333 544.1" stroke="#c4c7d1" stroke-width="3.6" fill="none"/>
<path d="M361.7 494.5 L361.7 544.1" stroke="#c4c7d1" stroke-width="3.6" fill="none"/>
<path d="M347.4 494.5 L347.4 536.7" stroke="#c4c7d1" stroke-width="3.2" fill="none"/>
<path d="M347.4 536.7 L347.6 538.5 L352.4 538.5" stroke="#c4c7d1" stroke-width="2.2" fill="none"/>
<path d="M328.6 496.3 L366.1 496.3" stroke="#c9ccd6" stroke-width="2" fill="none"/>
<rect x="330.3" y="492.7" width="5.5" height="3.4" stroke="#c9ccd6" stroke-width="1" fill="#c9ccd6"/>
<rect x="344.6" y="492.7" width="5.5" height="3.4" stroke="#c9ccd6" stroke-width="1" fill="#c9ccd6"/>
<rect x="359" y="492.7" width="5.5" height="3.4" stroke="#c9ccd6" stroke-width="1" fill="#c9ccd6"/>
<path d="M328.6 503 L366.7 503" stroke="#d4d7e0" stroke-width="1" fill="none"/>
<path d="M317.8 507.3 L377.6 507.3" stroke="#d4d7e0" stroke-width="1.2" fill="none"/>
<path d="M317.8 513.6 L377.6 513.6" stroke="#d4d7e0" stroke-width="1.2" fill="none"/>
<path d="M317.8 513.6 L317.8 544.1" stroke="#d4d7e0" stroke-width="1" fill="none"/>
<path d="M377.6 513.6 L377.6 544.1" stroke="#d4d7e0" stroke-width="1" fill="none"/>
<path d="M319 535.4 L376.1 535.4" stroke="#b9bcc8" stroke-width="3" fill="none"/>
<path d="M317.8 530 L317.8 631.7" stroke="#d4d7e0" stroke-width="1" fill="none"/>
<path d="M377.6 530 L377.6 631.7" stroke="#d4d7e0" stroke-width="1" fill="none"/>
<path d="M333 530 L333 652.9" stroke="#c4c7d1" stroke-width="3.6" fill="none"/>
<circle cx="333" cy="653.2" r="2.1" stroke="#d4d7e0" stroke-width="0" fill="#d6d8e0"/>
<path d="M362 530 L362 652.9" stroke="#c4c7d1" stroke-width="3.6" fill="none"/>
<circle cx="362" cy="653.2" r="2.1" stroke="#d4d7e0" stroke-width="0" fill="#d6d8e0"/>
<path d="M317.8 541.9 L377.6 541.9" stroke="#d4d7e0" stroke-width="1" fill="none"/>
<path d="M317.8 543.1 L377.6 543.1" stroke="#d4d7e0" stroke-width="1" fill="none"/>
<path d="M317.8 571.8 L377.6 571.8" stroke="#d4d7e0" stroke-width="1" fill="none"/>
<path d="M317.8 573 L377.6 573" stroke="#d4d7e0" stroke-width="1" fill="none"/>
<path d="M317.8 601.7 L377.6 601.7" stroke="#d4d7e0" stroke-width="1" fill="none"/>
<path d="M317.8 603 L377.6 603" stroke="#d4d7e0" stroke-width="1" fill="none"/>
<path d="M317.8 631.3 L377.6 631.3" stroke="#d4d7e0" stroke-width="1.6" fill="none"/>
<path d="M348.6 543.1 L348.6 571.8" stroke="#d4d7e0" stroke-width="1" fill="none"/>
<path d="M350.5 543.1 L350.5 571.8" stroke="#d4d7e0" stroke-width="1" fill="none"/>
<path d="M348.6 603 L348.6 631.1" stroke="#d4d7e0" stroke-width="1" fill="none"/>
<path d="M350.5 603 L350.5 631.1" stroke="#d4d7e0" stroke-width="1" fill="none"/>
<rect x="302.7" y="632.6" width="155.7" height="29.9" stroke="#d4d7e0" stroke-width="1.4" fill="none"/>
<g fill="#d4d7e0" opacity="0.9"><circle cx="340.8" cy="648.7" r="0.7"/><circle cx="396.3" cy="650.8" r="0.5"/><circle cx="306.7" cy="656.3" r="0.6"/><circle cx="340.2" cy="660.4" r="0.7"/><circle cx="431.6" cy="646.9" r="0.8"/><circle cx="327.5" cy="651" r="1"/><circle cx="384.1" cy="653.8" r="0.9"/><circle cx="314.4" cy="654.2" r="0.8"/><circle cx="350.4" cy="635.4" r="1"/><circle cx="376.4" cy="653.2" r="1"/><circle cx="413" cy="658.5" r="0.7"/><circle cx="426.2" cy="646.1" r="1"/><circle cx="438" cy="637.1" r="0.6"/><circle cx="337.6" cy="659.6" r="0.7"/><circle cx="399.8" cy="642.4" r="0.8"/><circle cx="363.2" cy="643.7" r="0.8"/><circle cx="393.3" cy="658" r="0.9"/><circle cx="445.6" cy="656.8" r="1"/><circle cx="406.5" cy="638.8" r="1"/><circle cx="451.1" cy="658" r="0.8"/><circle cx="413" cy="640" r="0.9"/><circle cx="391.7" cy="642" r="0.5"/><circle cx="434.3" cy="660.3" r="0.5"/><circle cx="426.2" cy="645.2" r="0.6"/><circle cx="349.3" cy="654.5" r="1"/><circle cx="311.4" cy="650.5" r="0.5"/><circle cx="413.7" cy="643.2" r="1"/><circle cx="453.5" cy="647.7" r="1"/><circle cx="351.7" cy="636.6" r="0.8"/><circle cx="309.5" cy="639.7" r="0.7"/><circle cx="397.3" cy="638.6" r="0.5"/><circle cx="436.4" cy="642.7" r="1"/><circle cx="440.7" cy="644.4" r="0.7"/><circle cx="383.6" cy="651.3" r="0.8"/><circle cx="389.5" cy="650.7" r="1"/><circle cx="381.6" cy="645.8" r="0.9"/><circle cx="340.7" cy="642.4" r="1"/><circle cx="383.8" cy="648.8" r="0.5"/><circle cx="367.7" cy="649.6" r="0.5"/><circle cx="398.1" cy="651" r="0.5"/><circle cx="399.9" cy="646.7" r="0.9"/><circle cx="358.2" cy="652.9" r="0.9"/><circle cx="308.1" cy="636.1" r="0.9"/><circle cx="450.9" cy="641.1" r="0.7"/><circle cx="394.6" cy="642.9" r="0.7"/><circle cx="352.1" cy="644.1" r="0.8"/><circle cx="350.3" cy="644.4" r="0.9"/><circle cx="308.8" cy="649.3" r="0.9"/><circle cx="351.7" cy="640.3" r="0.9"/><circle cx="340.9" cy="639.4" r="0.7"/><circle cx="410.6" cy="637.2" r="0.7"/><circle cx="355.3" cy="656.2" r="0.7"/><circle cx="434.5" cy="639" r="0.7"/><circle cx="403.4" cy="657.5" r="0.7"/><circle cx="338.8" cy="637.7" r="0.8"/></g>
<path d="M378.6 631.7 L378.6 598.6 L458.4 598.6" stroke="#d4d7e0" stroke-width="1.3" fill="none"/>
<path d="M378.6 613 L458.4 613" stroke="#d4d7e0" stroke-width="1" fill="none"/>
<g fill="#d4d7e0" opacity="0.9"><circle cx="428.3" cy="608.2" r="0.9"/><circle cx="452.1" cy="608.2" r="1"/><circle cx="384" cy="605.8" r="1"/><circle cx="430.2" cy="609.5" r="0.5"/><circle cx="416.8" cy="604" r="0.8"/><circle cx="424.6" cy="602" r="0.6"/><circle cx="402.7" cy="609.6" r="0.9"/><circle cx="393.7" cy="608.6" r="0.6"/><circle cx="427.9" cy="603" r="0.5"/><circle cx="446.8" cy="603.7" r="0.6"/><circle cx="455.1" cy="609.3" r="0.6"/><circle cx="453.5" cy="606.4" r="0.9"/></g>
<rect x="378.1" y="613.9" width="80.4" height="17.8" fill="url(#gravel)"/>
<path d="M458.4 569.3 L458.4 673.5" stroke="#d4d7e0" stroke-width="1.3" fill="none"/>
<path d="M272.5 600.5 L317.4 598.4 L317.4 618.8 L271.2 619.6 Z" fill="url(#bw)"/>
<path d="M272.5 600.5 L317.4 598.4" stroke="#d4d7e0" stroke-width="1" fill="none"/>
<rect x="332" y="679.7" width="109.9" height="21.5" stroke="#d4d7e0" stroke-width="1.3" fill="none"/>
<text x="341.1" y="694.7" font-size="11.6" fill="#eceef4" textLength="74.9" lengthAdjust="spacingAndGlyphs">INTERIOR VIEW</text>
<path d="M407.9 536.5 L392.3 536.5 L399.8 598" stroke="#d4d7e0" stroke-width="1" fill="none"/>
<path d="M399.8 598 L397.6 590.7 L400.1 590.4 Z" fill="#d4d7e0" stroke="none"/>
<text x="468.4" y="654.8" font-size="7.2" fill="#eceef4" textLength="75.5" lengthAdjust="spacingAndGlyphs">MIN. FTG WIDTH UNDER</text>
<text x="468.4" y="662.9" font-size="7.2" fill="#eceef4" textLength="43" lengthAdjust="spacingAndGlyphs">OPENING: 12"</text>
<path d="M466.5 656.3 L457.2 656.3 L424.7 647.3" stroke="#d4d7e0" stroke-width="1" fill="none"/>
<path d="M424.7 647.3 L432.3 648.1 L431.6 650.5 Z" fill="#d4d7e0" stroke="none"/>
<path d="M595.9 136.5 L717.8 136.5" stroke="#d4d7e0" stroke-width="1.3" fill="none"/>
<path d="M601.8 142.5 L717.8 142.5" stroke="#d4d7e0" stroke-width="1" fill="none"/>
<path d="M601.8 148.1 L717.8 148.1" stroke="#b9bcc8" stroke-width="1.6" fill="none"/>
<path d="M601.8 183.7 L718.4 183.7" stroke="#b9bcc8" stroke-width="1.6" fill="none"/>
<path d="M595.9 189.6 L725.9 189.6" stroke="#d4d7e0" stroke-width="1.2" fill="none"/>
<path d="M607.4 148.1 L607.4 183.7" stroke="#b9bcc8" stroke-width="1.5" fill="none"/>
<path d="M644.8 148.1 L644.8 183.7" stroke="#d4d7e0" stroke-width="1" fill="none"/>
<path d="M650.1 148.1 L650.1 183.7" stroke="#b9bcc8" stroke-width="1.5" fill="none"/>
<path d="M655.4 148.1 L655.4 183.7" stroke="#d4d7e0" stroke-width="1" fill="none"/>
<path d="M710.3 148.1 L710.3 183.7" stroke="#b9bcc8" stroke-width="1.5" fill="none"/>
<path d="M715.9 148.1 L715.9 183.7" stroke="#d4d7e0" stroke-width="1" fill="none"/>
<path d="M717.8 136.5 L717.8 148.1" stroke="#d4d7e0" stroke-width="1" fill="none"/>
<path d="M595.9 223.8 L725.9 223.8" stroke="#c0c3ce" stroke-width="1.6" fill="none"/>
<path d="M595.9 229.8 L656 229.8" stroke="#d4d7e0" stroke-width="1" fill="none"/>
<path d="M656 189.6 L656 513.6" stroke="#d4d7e0" stroke-width="1.3" fill="none"/>
<path d="M595.9 136.5 L595.9 513.6" stroke="#d4d7e0" stroke-width="1.6" fill="none"/>
<path d="M601.4 136.5 L601.4 507.3" stroke="#d4d7e0" stroke-width="1" fill="none"/>
<path d="M607.4 229.8 L607.4 507.3" stroke="#d4d7e0" stroke-width="1.3" fill="none"/>
<path d="M644.6 229.8 L644.6 507.3" stroke="#d4d7e0" stroke-width="1" fill="none"/>
<path d="M650.4 229.8 L650.4 507.3" stroke="#d4d7e0" stroke-width="1" fill="none"/>
<g fill="#e4e6ec"><circle cx="598.6" cy="141.2" r="0.85"/><circle cx="598.6" cy="150.5" r="0.85"/><circle cx="598.6" cy="159.7" r="0.85"/><circle cx="598.6" cy="168.9" r="0.85"/><circle cx="598.6" cy="178.2" r="0.85"/><circle cx="598.6" cy="187.4" r="0.85"/><circle cx="598.6" cy="196.6" r="0.85"/><circle cx="598.6" cy="205.9" r="0.85"/><circle cx="598.6" cy="215.1" r="0.85"/><circle cx="598.6" cy="224.3" r="0.85"/><circle cx="598.6" cy="233.6" r="0.85"/><circle cx="598.6" cy="242.8" r="0.85"/><circle cx="598.6" cy="252" r="0.85"/><circle cx="598.6" cy="261.3" r="0.85"/><circle cx="598.6" cy="270.5" r="0.85"/><circle cx="598.6" cy="279.7" r="0.85"/><circle cx="598.6" cy="289" r="0.85"/><circle cx="598.6" cy="298.2" r="0.85"/><circle cx="598.6" cy="307.4" r="0.85"/><circle cx="598.6" cy="316.7" r="0.85"/><circle cx="598.6" cy="325.9" r="0.85"/><circle cx="598.6" cy="335.1" r="0.85"/><circle cx="598.6" cy="344.4" r="0.85"/><circle cx="598.6" cy="353.6" r="0.85"/><circle cx="598.6" cy="362.8" r="0.85"/><circle cx="598.6" cy="372.1" r="0.85"/><circle cx="598.6" cy="381.3" r="0.85"/><circle cx="598.6" cy="390.5" r="0.85"/><circle cx="598.6" cy="399.8" r="0.85"/><circle cx="598.6" cy="409" r="0.85"/><circle cx="598.6" cy="418.2" r="0.85"/><circle cx="598.6" cy="427.5" r="0.85"/><circle cx="598.6" cy="436.7" r="0.85"/><circle cx="598.6" cy="445.9" r="0.85"/><circle cx="598.6" cy="455.2" r="0.85"/><circle cx="598.6" cy="464.4" r="0.85"/><circle cx="598.6" cy="473.6" r="0.85"/><circle cx="598.6" cy="482.9" r="0.85"/><circle cx="598.6" cy="492.1" r="0.85"/><circle cx="598.6" cy="501.4" r="0.85"/><circle cx="598.6" cy="510.6" r="0.85"/><circle cx="604.3" cy="232.3" r="0.85"/><circle cx="647.3" cy="232.3" r="0.85"/><circle cx="652.9" cy="232.3" r="0.85"/><circle cx="604.3" cy="243.6" r="0.85"/><circle cx="647.3" cy="243.6" r="0.85"/><circle cx="652.9" cy="243.6" r="0.85"/><circle cx="604.3" cy="254.8" r="0.85"/><circle cx="647.3" cy="254.8" r="0.85"/><circle cx="652.9" cy="254.8" r="0.85"/><circle cx="604.3" cy="266" r="0.85"/><circle cx="647.3" cy="266" r="0.85"/><circle cx="652.9" cy="266" r="0.85"/><circle cx="604.3" cy="277.2" r="0.85"/><circle cx="647.3" cy="277.2" r="0.85"/><circle cx="652.9" cy="277.2" r="0.85"/><circle cx="604.3" cy="288.5" r="0.85"/><circle cx="647.3" cy="288.5" r="0.85"/><circle cx="652.9" cy="288.5" r="0.85"/><circle cx="604.3" cy="299.7" r="0.85"/><circle cx="647.3" cy="299.7" r="0.85"/><circle cx="652.9" cy="299.7" r="0.85"/><circle cx="604.3" cy="310.9" r="0.85"/><circle cx="647.3" cy="310.9" r="0.85"/><circle cx="652.9" cy="310.9" r="0.85"/><circle cx="604.3" cy="322.2" r="0.85"/><circle cx="647.3" cy="322.2" r="0.85"/><circle cx="652.9" cy="322.2" r="0.85"/><circle cx="604.3" cy="333.4" r="0.85"/><circle cx="647.3" cy="333.4" r="0.85"/><circle cx="652.9" cy="333.4" r="0.85"/><circle cx="604.3" cy="344.6" r="0.85"/><circle cx="647.3" cy="344.6" r="0.85"/><circle cx="652.9" cy="344.6" r="0.85"/><circle cx="604.3" cy="355.9" r="0.85"/><circle cx="647.3" cy="355.9" r="0.85"/><circle cx="652.9" cy="355.9" r="0.85"/><circle cx="604.3" cy="367.1" r="0.85"/><circle cx="647.3" cy="367.1" r="0.85"/><circle cx="652.9" cy="367.1" r="0.85"/><circle cx="604.3" cy="378.3" r="0.85"/><circle cx="647.3" cy="378.3" r="0.85"/><circle cx="652.9" cy="378.3" r="0.85"/><circle cx="604.3" cy="389.5" r="0.85"/><circle cx="647.3" cy="389.5" r="0.85"/><circle cx="652.9" cy="389.5" r="0.85"/><circle cx="604.3" cy="400.8" r="0.85"/><circle cx="647.3" cy="400.8" r="0.85"/><circle cx="652.9" cy="400.8" r="0.85"/><circle cx="604.3" cy="412" r="0.85"/><circle cx="647.3" cy="412" r="0.85"/><circle cx="652.9" cy="412" r="0.85"/><circle cx="604.3" cy="423.2" r="0.85"/><circle cx="647.3" cy="423.2" r="0.85"/><circle cx="652.9" cy="423.2" r="0.85"/><circle cx="604.3" cy="434.5" r="0.85"/><circle cx="647.3" cy="434.5" r="0.85"/><circle cx="652.9" cy="434.5" r="0.85"/><circle cx="604.3" cy="445.7" r="0.85"/><circle cx="647.3" cy="445.7" r="0.85"/><circle cx="652.9" cy="445.7" r="0.85"/><circle cx="604.3" cy="456.9" r="0.85"/><circle cx="647.3" cy="456.9" r="0.85"/><circle cx="652.9" cy="456.9" r="0.85"/><circle cx="604.3" cy="468.2" r="0.85"/><circle cx="647.3" cy="468.2" r="0.85"/><circle cx="652.9" cy="468.2" r="0.85"/><circle cx="604.3" cy="479.4" r="0.85"/><circle cx="647.3" cy="479.4" r="0.85"/><circle cx="652.9" cy="479.4" r="0.85"/><circle cx="604.3" cy="490.6" r="0.85"/><circle cx="647.3" cy="490.6" r="0.85"/><circle cx="652.9" cy="490.6" r="0.85"/><circle cx="604.3" cy="501.8" r="0.85"/><circle cx="647.3" cy="501.8" r="0.85"/><circle cx="652.9" cy="501.8" r="0.85"/><circle cx="609.9" cy="192.4" r="0.85"/><circle cx="621.1" cy="192.4" r="0.85"/><circle cx="632.3" cy="192.4" r="0.85"/><circle cx="643.6" cy="192.4" r="0.85"/><circle cx="653.6" cy="192.4" r="0.85"/><circle cx="609.9" cy="201.5" r="0.85"/><circle cx="621.1" cy="201.5" r="0.85"/><circle cx="632.3" cy="201.5" r="0.85"/><circle cx="643.6" cy="201.5" r="0.85"/><circle cx="653.6" cy="201.5" r="0.85"/><circle cx="609.9" cy="211.1" r="0.85"/><circle cx="621.1" cy="211.1" r="0.85"/><circle cx="632.3" cy="211.1" r="0.85"/><circle cx="643.6" cy="211.1" r="0.85"/><circle cx="653.6" cy="211.1" r="0.85"/><circle cx="609.9" cy="220.5" r="0.85"/><circle cx="621.1" cy="220.5" r="0.85"/><circle cx="632.3" cy="220.5" r="0.85"/><circle cx="643.6" cy="220.5" r="0.85"/><circle cx="653.6" cy="220.5" r="0.85"/><circle cx="604.9" cy="226.7" r="0.85"/><circle cx="614.9" cy="226.7" r="0.85"/><circle cx="625.5" cy="226.7" r="0.85"/><circle cx="635.5" cy="226.7" r="0.85"/><circle cx="646.1" cy="226.7" r="0.85"/><circle cx="652.9" cy="226.7" r="0.85"/><circle cx="615.5" cy="363.8" r="0.85"/><circle cx="615.5" cy="370.1" r="0.85"/><circle cx="625.2" cy="363.8" r="0.85"/><circle cx="625.2" cy="370.1" r="0.85"/><circle cx="635.1" cy="363.8" r="0.85"/><circle cx="635.1" cy="370.1" r="0.85"/><circle cx="598.6" cy="510.8" r="0.85"/><circle cx="609.9" cy="510.8" r="0.85"/><circle cx="621.1" cy="510.8" r="0.85"/><circle cx="633" cy="510.8" r="0.85"/><circle cx="646.1" cy="510.8" r="0.85"/><circle cx="652.9" cy="510.8" r="0.85"/><circle cx="615.5" cy="499.2" r="0.85"/><circle cx="634.8" cy="499.2" r="0.85"/></g>
<path d="M609.3 219.2 L609.3 223" stroke="#d4d7e0" stroke-width="1" fill="none"/>
<path d="M620.9 219.2 L620.9 223" stroke="#d4d7e0" stroke-width="1" fill="none"/>
<path d="M632.1 219.2 L632.1 223" stroke="#d4d7e0" stroke-width="1" fill="none"/>
<path d="M643.3 219.2 L643.3 223" stroke="#d4d7e0" stroke-width="1" fill="none"/>
<path d="M653.3 219.2 L653.3 223" stroke="#d4d7e0" stroke-width="1" fill="none"/>
<path d="M614.2 152.5 L629.8 136.9" stroke="#d4d7e0" stroke-width="1.1" fill="none"/>
<path d="M606.1 182.4 L633.3 155.6" stroke="#d4d7e0" stroke-width="1.1" fill="none"/>
<path d="M636.1 174.3 L663.5 147.5" stroke="#d4d7e0" stroke-width="1.1" fill="none"/>
<path d="M644.2 143.7 L652.3 136.5" stroke="#d4d7e0" stroke-width="1.1" fill="none"/>
<path d="M666 166.2 L693.5 139.4" stroke="#d4d7e0" stroke-width="1.1" fill="none"/>
<path d="M696 157.5 L717.8 136.9" stroke="#d4d7e0" stroke-width="1.1" fill="none"/>
<path d="M688.5 188 L715.3 161.8" stroke="#d4d7e0" stroke-width="1.1" fill="none"/>
<path d="M717.8 179.9 L723.4 174.9" stroke="#d4d7e0" stroke-width="1.1" fill="none"/>
<path d="M658.5 196.1 L685.4 169.3" stroke="#d4d7e0" stroke-width="1.1" fill="none"/>
<path d="M597.4 213.6 L624.9 186.2" stroke="#d4d7e0" stroke-width="1.1" fill="none"/>
<path d="M628 204.2 L655.4 177.4" stroke="#d4d7e0" stroke-width="1.1" fill="none"/>
<path d="M679.8 218 L707.2 191.1" stroke="#d4d7e0" stroke-width="1.1" fill="none"/>
<path d="M710.3 209.9 L725.3 195.5" stroke="#d4d7e0" stroke-width="1.1" fill="none"/>
<path d="M719.1 223.6 L725.3 217.3" stroke="#d4d7e0" stroke-width="1.1" fill="none"/>
<path d="M596.8 257.3 L608.6 246.7" stroke="#d4d7e0" stroke-width="1.1" fill="none"/>
<path d="M612.4 264.1 L639.2 237.9" stroke="#d4d7e0" stroke-width="1.1" fill="none"/>
<path d="M641.1 256.7 L655.4 242.9" stroke="#d4d7e0" stroke-width="1.1" fill="none"/>
<path d="M633 287.2 L655.4 266" stroke="#d4d7e0" stroke-width="1.1" fill="none"/>
<path d="M602.4 296 L631.1 267.9" stroke="#d4d7e0" stroke-width="1.1" fill="none"/>
<path d="M624.9 317.2 L652.3 291" stroke="#d4d7e0" stroke-width="1.1" fill="none"/>
<path d="M596.8 324.7 L622.4 298.5" stroke="#d4d7e0" stroke-width="1.1" fill="none"/>
<path d="M596.8 169.9 L603 163.4" stroke="#d4d7e0" stroke-width="1.1" fill="none"/>
<path d="M596.8 147.5 L607.4 137.5" stroke="#d4d7e0" stroke-width="1.1" fill="none"/>
<path d="M596.8 236.1 L617.4 216.1" stroke="#d4d7e0" stroke-width="1.1" fill="none"/>
<path d="M619.9 234.8 L647.3 207.4" stroke="#d4d7e0" stroke-width="1.1" fill="none"/>
<path d="M649.8 226.1 L656 220.5" stroke="#d4d7e0" stroke-width="1.1" fill="none"/>
<path d="M696 223.6 L699.1 221.1" stroke="#d4d7e0" stroke-width="1.1" fill="none"/>
<path d="M596.8 279.7 L608 268.5" stroke="#d4d7e0" stroke-width="1.1" fill="none"/>
<path d="M647.3 286 L656 277.2" stroke="#d4d7e0" stroke-width="1.1" fill="none"/>
<path d="M616.7 347.6 L627.3 337.6" stroke="#d4d7e0" stroke-width="1.1" fill="none"/>
<path d="M623 367.6 L636.1 350.1" stroke="#d4d7e0" stroke-width="1.1" fill="none"/>
<path d="M596.8 368.2 L605.5 359.5" stroke="#d4d7e0" stroke-width="1.1" fill="none"/>
<path d="M639.8 369.4 L655.4 353.8" stroke="#d4d7e0" stroke-width="1.1" fill="none"/>
<path d="M608.6 377.6 L619.9 366.9" stroke="#d4d7e0" stroke-width="1.1" fill="none"/>
<path d="M630.5 399.4 L655.4 375.1" stroke="#d4d7e0" stroke-width="1.1" fill="none"/>
<path d="M601.1 408.1 L628 380.7" stroke="#d4d7e0" stroke-width="1.1" fill="none"/>
<path d="M596.8 434.3 L619.9 411.2" stroke="#d4d7e0" stroke-width="1.1" fill="none"/>
<path d="M626.1 426.8 L650.4 403.1" stroke="#d4d7e0" stroke-width="1.1" fill="none"/>
<path d="M614.2 460.5 L641.7 433.1" stroke="#d4d7e0" stroke-width="1.1" fill="none"/>
<path d="M608 486.7 L633.6 463" stroke="#d4d7e0" stroke-width="1.1" fill="none"/>
<path d="M636.7 481.7 L655.4 463" stroke="#d4d7e0" stroke-width="1.1" fill="none"/>
<path d="M605.5 512.3 L626.1 493" stroke="#d4d7e0" stroke-width="1.1" fill="none"/>
<path d="M628 511.7 L655.4 485.5" stroke="#d4d7e0" stroke-width="1.1" fill="none"/>
<path d="M596.8 455.5 L611.7 441.8" stroke="#d4d7e0" stroke-width="1.1" fill="none"/>
<path d="M646.1 448.1 L655.4 440.6" stroke="#d4d7e0" stroke-width="1.1" fill="none"/>
<path d="M607.4 361.3 L644.6 361.3" stroke="#d4d7e0" stroke-width="1" fill="none"/>
<path d="M607.4 366.9 L644.6 366.9" stroke="#b9bcc8" stroke-width="2" fill="none"/>
<path d="M607.4 372.6 L644.6 372.6" stroke="#d4d7e0" stroke-width="1" fill="none"/>
<path d="M597.6 439.9 L608.4 439.9" stroke="#c4c7d1" stroke-width="1.1" fill="none"/>
<path d="M597.6 443.9 L608.4 443.9" stroke="#c4c7d1" stroke-width="1.1" fill="none"/>
<path d="M597.6 447.9 L608.4 447.9" stroke="#c4c7d1" stroke-width="1.1" fill="none"/>
<path d="M597.6 451.9 L608.4 451.9" stroke="#c4c7d1" stroke-width="1.1" fill="none"/>
<path d="M597.6 455.9 L608.4 455.9" stroke="#c4c7d1" stroke-width="1.1" fill="none"/>
<path d="M597.6 459.9 L608.4 459.9" stroke="#c4c7d1" stroke-width="1.1" fill="none"/>
<path d="M597.6 463.9 L608.4 463.9" stroke="#c4c7d1" stroke-width="1.1" fill="none"/>
<path d="M597.6 467.9 L608.4 467.9" stroke="#c4c7d1" stroke-width="1.1" fill="none"/>
<path d="M597.6 471.9 L608.4 471.9" stroke="#c4c7d1" stroke-width="1.1" fill="none"/>
<path d="M597.6 475.9 L608.4 475.9" stroke="#c4c7d1" stroke-width="1.1" fill="none"/>
<path d="M597.6 479.9 L608.4 479.9" stroke="#c4c7d1" stroke-width="1.1" fill="none"/>
<path d="M597.6 483.9 L608.4 483.9" stroke="#c4c7d1" stroke-width="1.1" fill="none"/>
<path d="M644.6 439.9 L654.8 439.9" stroke="#c4c7d1" stroke-width="1.1" fill="none"/>
<path d="M644.6 443.9 L654.8 443.9" stroke="#c4c7d1" stroke-width="1.1" fill="none"/>
<path d="M644.6 447.9 L654.8 447.9" stroke="#c4c7d1" stroke-width="1.1" fill="none"/>
<path d="M644.6 451.9 L654.8 451.9" stroke="#c4c7d1" stroke-width="1.1" fill="none"/>
<path d="M644.6 455.9 L654.8 455.9" stroke="#c4c7d1" stroke-width="1.1" fill="none"/>
<path d="M644.6 459.9 L654.8 459.9" stroke="#c4c7d1" stroke-width="1.1" fill="none"/>
<path d="M644.6 463.9 L654.8 463.9" stroke="#c4c7d1" stroke-width="1.1" fill="none"/>
<path d="M644.6 467.9 L654.8 467.9" stroke="#c4c7d1" stroke-width="1.1" fill="none"/>
<path d="M644.6 471.9 L654.8 471.9" stroke="#c4c7d1" stroke-width="1.1" fill="none"/>
<path d="M644.6 475.9 L654.8 475.9" stroke="#c4c7d1" stroke-width="1.1" fill="none"/>
<path d="M644.6 479.9 L654.8 479.9" stroke="#c4c7d1" stroke-width="1.1" fill="none"/>
<path d="M644.6 483.9 L654.8 483.9" stroke="#c4c7d1" stroke-width="1.1" fill="none"/>
<path d="M608 474.3 L609.9 483 L614.2 493.6" stroke="#d4d7e0" stroke-width="1" fill="none"/>
<path d="M643.8 474.3 L642.1 483 L638 493.6" stroke="#d4d7e0" stroke-width="1" fill="none"/>
<path d="M611.1 493.6 L611.1 544.1" stroke="#c4c7d1" stroke-width="3.8" fill="none"/>
<path d="M641.1 493.6 L641.1 544.1" stroke="#c4c7d1" stroke-width="3.8" fill="none"/>
<path d="M625.6 493.6 L625.6 536.7" stroke="#c4c7d1" stroke-width="3.2" fill="none"/>
<path d="M625.6 536.7 L626.1 538.5 L630.5 538.5" stroke="#c4c7d1" stroke-width="2.2" fill="none"/>
<rect x="608.6" y="492.7" width="5" height="3.4" stroke="#c9ccd6" stroke-width="0.5" fill="#c9ccd6"/>
<rect x="623.1" y="492.7" width="5" height="3.4" stroke="#c9ccd6" stroke-width="0.5" fill="#c9ccd6"/>
<rect x="638.6" y="492.7" width="5" height="3.4" stroke="#c9ccd6" stroke-width="0.5" fill="#c9ccd6"/>
<path d="M607.4 496.3 L644.6 496.3" stroke="#c9ccd6" stroke-width="1.8" fill="none"/>
<path d="M607.4 503 L644.6 503" stroke="#d4d7e0" stroke-width="1" fill="none"/>
<path d="M595.9 507.3 L656 507.3" stroke="#d4d7e0" stroke-width="1.2" fill="none"/>
<path d="M595.9 513.6 L656 513.6" stroke="#d4d7e0" stroke-width="1.2" fill="none"/>
<path d="M595.9 513.6 L595.9 544.1" stroke="#d4d7e0" stroke-width="1" fill="none"/>
<path d="M655.4 513.6 L655.4 544.1" stroke="#d4d7e0" stroke-width="1" fill="none"/>
<path d="M596.8 535 L654.2 535" stroke="#b9bcc8" stroke-width="3" fill="none"/>
<path d="M560 391.9 L614.9 391.9 L625.1 374.2" stroke="#d4d7e0" stroke-width="1" fill="none"/>
<path d="M625.1 374.2 L622.4 381.3 L620.3 380.1 Z" fill="#d4d7e0" stroke="none"/>
<path d="M595.9 530 L595.9 631.7" stroke="#d4d7e0" stroke-width="1" fill="none"/>
<path d="M655.4 530 L655.4 631.7" stroke="#d4d7e0" stroke-width="1" fill="none"/>
<path d="M611 530 L611 652.9" stroke="#c4c7d1" stroke-width="3.8" fill="none"/>
<circle cx="611" cy="653.2" r="2.1" stroke="#d4d7e0" stroke-width="0" fill="#d6d8e0"/>
<path d="M640.9 530 L640.9 652.9" stroke="#c4c7d1" stroke-width="3.8" fill="none"/>
<circle cx="640.9" cy="653.2" r="2.1" stroke="#d4d7e0" stroke-width="0" fill="#d6d8e0"/>
<path d="M595.9 541.9 L655.4 541.9" stroke="#d4d7e0" stroke-width="1" fill="none"/>
<path d="M595.9 543.1 L655.4 543.1" stroke="#d4d7e0" stroke-width="1" fill="none"/>
<path d="M595.9 571.8 L655.4 571.8" stroke="#d4d7e0" stroke-width="1" fill="none"/>
<path d="M595.9 573 L655.4 573" stroke="#d4d7e0" stroke-width="1" fill="none"/>
<path d="M595.9 601.7 L655.4 601.7" stroke="#d4d7e0" stroke-width="1" fill="none"/>
<path d="M595.9 603 L655.4 603" stroke="#d4d7e0" stroke-width="1" fill="none"/>
<path d="M595.9 631.3 L655.4 631.3" stroke="#d4d7e0" stroke-width="1.6" fill="none"/>
<path d="M626.3 543.1 L626.3 571.8" stroke="#d4d7e0" stroke-width="1" fill="none"/>
<path d="M628.3 543.1 L628.3 571.8" stroke="#d4d7e0" stroke-width="1" fill="none"/>
<path d="M626.3 603 L626.3 631.1" stroke="#d4d7e0" stroke-width="1" fill="none"/>
<path d="M628.3 603 L628.3 631.1" stroke="#d4d7e0" stroke-width="1" fill="none"/>
<rect x="580.9" y="632.6" width="156.2" height="30.7" stroke="#d4d7e0" stroke-width="1.4" fill="none"/>
<g fill="#d4d7e0" opacity="0.9"><circle cx="617.4" cy="660.3" r="0.6"/><circle cx="690.2" cy="636.8" r="0.6"/><circle cx="735" cy="640.2" r="0.8"/><circle cx="652.8" cy="646.7" r="0.8"/><circle cx="612.2" cy="656.7" r="0.5"/><circle cx="618.6" cy="635.1" r="0.6"/><circle cx="645" cy="658.7" r="0.7"/><circle cx="600.2" cy="641.5" r="1"/><circle cx="592.5" cy="651.1" r="0.7"/><circle cx="683.5" cy="643.6" r="0.9"/><circle cx="658.7" cy="651.9" r="1"/><circle cx="671.5" cy="638.4" r="0.5"/><circle cx="726.9" cy="647.6" r="0.6"/><circle cx="726.9" cy="650" r="0.9"/><circle cx="717" cy="642.2" r="0.7"/><circle cx="716.6" cy="638.2" r="0.9"/><circle cx="597.8" cy="653" r="0.9"/><circle cx="727.5" cy="657.1" r="0.8"/><circle cx="613" cy="638.6" r="0.8"/><circle cx="660.5" cy="636.5" r="1"/><circle cx="660.2" cy="653.3" r="0.6"/><circle cx="620.1" cy="634.9" r="0.7"/><circle cx="623.5" cy="645.9" r="0.7"/><circle cx="709.9" cy="658.4" r="0.6"/><circle cx="643.3" cy="639" r="0.9"/><circle cx="731.3" cy="640" r="0.9"/><circle cx="628.6" cy="634.9" r="0.9"/><circle cx="635" cy="639.1" r="0.7"/><circle cx="618.2" cy="645.5" r="0.7"/><circle cx="646.6" cy="650.3" r="0.6"/><circle cx="597.4" cy="636.8" r="0.5"/><circle cx="662.2" cy="644.2" r="0.9"/><circle cx="659.8" cy="653.5" r="1"/><circle cx="592.5" cy="635" r="0.6"/><circle cx="641.7" cy="649.9" r="0.9"/><circle cx="636.4" cy="660.3" r="0.5"/><circle cx="710.1" cy="640.2" r="1"/><circle cx="588" cy="660.3" r="0.9"/><circle cx="733.7" cy="650.1" r="0.6"/><circle cx="730.6" cy="646.4" r="0.5"/><circle cx="675.1" cy="647.8" r="0.7"/><circle cx="606.5" cy="637.8" r="0.8"/><circle cx="651.8" cy="637.9" r="0.7"/><circle cx="693.4" cy="653.7" r="0.7"/><circle cx="642.9" cy="644.2" r="0.6"/><circle cx="613" cy="646.5" r="0.5"/><circle cx="693.3" cy="653.5" r="0.8"/><circle cx="586.4" cy="644.3" r="0.7"/><circle cx="597.1" cy="660.4" r="0.9"/><circle cx="659.4" cy="653.4" r="0.6"/><circle cx="617.9" cy="648.6" r="0.9"/><circle cx="681.5" cy="634.7" r="0.8"/><circle cx="721.3" cy="654.4" r="1"/><circle cx="732.4" cy="640.5" r="0.6"/><circle cx="666.2" cy="660.6" r="0.7"/></g>
<path d="M656.7 631.7 L656.7 598.9 L737.2 598.9" stroke="#d4d7e0" stroke-width="1.3" fill="none"/>
<path d="M656.7 613 L737.2 613" stroke="#d4d7e0" stroke-width="1" fill="none"/>
<g fill="#d4d7e0" opacity="0.9"><circle cx="694.8" cy="605" r="0.6"/><circle cx="725.1" cy="601.9" r="0.8"/><circle cx="727.5" cy="602.6" r="0.8"/><circle cx="706.3" cy="602.2" r="0.7"/><circle cx="712.8" cy="605.7" r="0.9"/><circle cx="671.7" cy="603.9" r="0.5"/><circle cx="698" cy="609.7" r="0.8"/><circle cx="718.2" cy="605.1" r="0.9"/><circle cx="667.6" cy="604.3" r="0.9"/><circle cx="714.5" cy="605.5" r="0.5"/><circle cx="680" cy="603.7" r="0.6"/><circle cx="720.8" cy="603.6" r="1"/></g>
<rect x="656" y="614.2" width="81.1" height="17.5" fill="url(#gravel)"/>
<path d="M737.2 569.3 L737.2 673.5" stroke="#d4d7e0" stroke-width="1.3" fill="none"/>
<path d="M551.2 600.5 L595.2 598 L595.2 618.6 L550 619.6 Z" fill="url(#bw)"/>
<path d="M551.2 600.5 L595.2 598" stroke="#d4d7e0" stroke-width="1" fill="none"/>
<rect x="606.1" y="679.7" width="109.8" height="21.5" stroke="#d4d7e0" stroke-width="1.3" fill="none"/>
<text x="613.9" y="694.7" font-size="11.6" fill="#eceef4" textLength="80.6" lengthAdjust="spacingAndGlyphs">EXTERIOR VIEW</text>
<path d="M326.4 736.3 L326.4 866.7" stroke="#d4d7e0" stroke-width="1" fill="none"/>
<path d="M347.3 736.3 L347.3 849.8" stroke="#d4d7e0" stroke-width="1" fill="none"/>
<rect x="335.5" y="791.2" width="10.6" height="58" rx="3.5" fill="none" stroke="#d4d7e0" stroke-width="1.1"/>
<g fill="#e4e6ec"><circle cx="340.1" cy="795.6" r="0.75"/><circle cx="342.3" cy="795.6" r="0.75"/><circle cx="338.8" cy="800.1" r="0.75"/><circle cx="343.3" cy="800.1" r="0.75"/><circle cx="340.1" cy="804.5" r="0.75"/><circle cx="342.3" cy="804.5" r="0.75"/><circle cx="338.8" cy="809" r="0.75"/><circle cx="343.3" cy="809" r="0.75"/><circle cx="340.1" cy="813.5" r="0.75"/><circle cx="342.3" cy="813.5" r="0.75"/><circle cx="338.8" cy="818" r="0.75"/><circle cx="343.3" cy="818" r="0.75"/><circle cx="340.1" cy="822.5" r="0.75"/><circle cx="342.3" cy="822.5" r="0.75"/><circle cx="338.8" cy="827" r="0.75"/><circle cx="343.3" cy="827" r="0.75"/><circle cx="340.1" cy="831.5" r="0.75"/><circle cx="342.3" cy="831.5" r="0.75"/><circle cx="338.8" cy="836" r="0.75"/><circle cx="343.3" cy="836" r="0.75"/><circle cx="340.1" cy="840.5" r="0.75"/><circle cx="342.3" cy="840.5" r="0.75"/></g>
<rect x="326.4" y="849.8" width="21" height="16.8" stroke="#d4d7e0" stroke-width="1.1" fill="none"/>
<path d="M326.4 849.8 L347.3 849.8" stroke="#d4d7e0" stroke-width="1" fill="none"/>
<path d="M326.4 849.8 L347.3 855.5" stroke="#d4d7e0" stroke-width="1" fill="none"/>
<path d="M326.4 855.5 L347.3 849.8" stroke="#d4d7e0" stroke-width="1" fill="none"/>
<path d="M326.4 855.5 L347.3 855.5" stroke="#d4d7e0" stroke-width="1" fill="none"/>
<path d="M326.4 855.5 L347.3 861.1" stroke="#d4d7e0" stroke-width="1" fill="none"/>
<path d="M326.4 861.1 L347.3 855.5" stroke="#d4d7e0" stroke-width="1" fill="none"/>
<path d="M326.4 861.1 L347.3 861.1" stroke="#d4d7e0" stroke-width="1" fill="none"/>
<path d="M326.4 861.1 L347.3 866.7" stroke="#d4d7e0" stroke-width="1" fill="none"/>
<path d="M326.4 866.7 L347.3 861.1" stroke="#d4d7e0" stroke-width="1" fill="none"/>
<rect x="337.3" y="846.1" width="7.5" height="3.7" stroke="#c9ccd6" stroke-width="0.5" fill="#c9ccd6"/>
<path d="M326.1 866.7 L326.1 985.5" stroke="#d4d7e0" stroke-width="1" fill="none"/>
<path d="M331.7 868.6 L331.7 985.5" stroke="#d4d7e0" stroke-width="1" fill="none"/>
<path d="M349.2 868.6 L349.2 985.5" stroke="#d4d7e0" stroke-width="1" fill="none"/>
<path d="M354.8 866.7 L354.8 985.5" stroke="#d4d7e0" stroke-width="1" fill="none"/>
<path d="M326.1 866.7 L354.8 866.7" stroke="#d4d7e0" stroke-width="1.2" fill="none"/>
<rect x="326.4" y="868.6" width="5.2" height="117" fill="url(#cmu)"/>
<rect x="349.5" y="868.6" width="5.2" height="117" fill="url(#cmu)"/>
<path d="M326.4 895.4 L354.8 895.4" stroke="#d4d7e0" stroke-width="1.2" fill="none"/>
<path d="M326.4 897.3 L354.8 897.3" stroke="#d4d7e0" stroke-width="1.2" fill="none"/>
<path d="M326.4 924.7 L354.8 924.7" stroke="#d4d7e0" stroke-width="1.2" fill="none"/>
<path d="M326.4 927.8 L354.8 927.8" stroke="#d4d7e0" stroke-width="1.2" fill="none"/>
<path d="M326.4 954 L354.8 954" stroke="#d4d7e0" stroke-width="1.2" fill="none"/>
<path d="M326.4 956.5 L354.8 956.5" stroke="#d4d7e0" stroke-width="1.2" fill="none"/>
<path d="M326.4 955 L354.8 955" stroke="#d4d7e0" stroke-width="1.2" fill="none"/>
<path d="M326.4 957.5 L354.8 957.5" stroke="#d4d7e0" stroke-width="1.2" fill="none"/>
<path d="M341.5 847.3 L341.5 1006.1" stroke="#c4c7d1" stroke-width="3.2" fill="none"/>
<circle cx="341.5" cy="1006.8" r="2.1" stroke="#d4d7e0" stroke-width="0" fill="#d6d8e0"/>
<circle cx="343.6" cy="887.5" r="1.1" stroke="#d4d7e0" stroke-width="0" fill="#e4e6ec"/>
<path d="M311.8 856.7 L311.8 985.5" stroke="#d4d7e0" stroke-width="1" fill="none"/>
<path d="M324.9 856.7 L324.9 985.5" stroke="#d4d7e0" stroke-width="1" fill="none"/>
<rect x="312" y="856.7" width="12.9" height="2.2" stroke="none" stroke-width="0" fill="#9a9eac"/>
<rect x="312" y="866.7" width="12.9" height="2.2" stroke="none" stroke-width="0" fill="#9a9eac"/>
<rect x="312" y="876.7" width="12.9" height="2.2" stroke="none" stroke-width="0" fill="#9a9eac"/>
<rect x="312" y="886.7" width="12.9" height="2.2" stroke="none" stroke-width="0" fill="#9a9eac"/>
<rect x="312" y="896.6" width="12.9" height="2.2" stroke="none" stroke-width="0" fill="#9a9eac"/>
<rect x="312" y="906.6" width="12.9" height="2.2" stroke="none" stroke-width="0" fill="#9a9eac"/>
<rect x="312" y="916.6" width="12.9" height="2.2" stroke="none" stroke-width="0" fill="#9a9eac"/>
<rect x="312" y="926.6" width="12.9" height="2.2" stroke="none" stroke-width="0" fill="#9a9eac"/>
<rect x="312" y="936.6" width="12.9" height="2.2" stroke="none" stroke-width="0" fill="#9a9eac"/>
<rect x="312" y="946.5" width="12.9" height="2.2" stroke="none" stroke-width="0" fill="#9a9eac"/>
<rect x="312" y="956.5" width="12.9" height="2.2" stroke="none" stroke-width="0" fill="#9a9eac"/>
<rect x="312" y="966.5" width="12.9" height="2.2" stroke="none" stroke-width="0" fill="#9a9eac"/>
<rect x="312" y="976.5" width="12.9" height="2.2" stroke="none" stroke-width="0" fill="#9a9eac"/>
<path d="M308 848 L323.6 844.9 L325.1 853 L309.6 856.1Z" stroke="#d4d7e0" stroke-width="1" fill="none"/>
<path d="M309.6 856.1 L324.9 856.7" stroke="#d4d7e0" stroke-width="1" fill="none"/>
<path d="M356.7 954.3 L435.9 954.3" stroke="#d4d7e0" stroke-width="1.3" fill="none"/>
<path d="M356.7 969.9 L435.9 969.9" stroke="#d4d7e0" stroke-width="1.2" fill="none"/>
<path d="M356.1 954.3 L356.1 969.9" stroke="#d4d7e0" stroke-width="1" fill="none"/>
<g fill="#d4d7e0" opacity="0.9"><circle cx="393.1" cy="962.8" r="1"/><circle cx="394.1" cy="962.2" r="0.8"/><circle cx="373.1" cy="962.3" r="0.8"/><circle cx="418.5" cy="957.9" r="0.6"/><circle cx="366.1" cy="965.4" r="0.9"/><circle cx="362.4" cy="967.1" r="1"/><circle cx="408.1" cy="963.3" r="0.6"/><circle cx="360.4" cy="962.4" r="0.5"/><circle cx="373.5" cy="959.5" r="0.5"/><circle cx="393.9" cy="961.5" r="1"/><circle cx="398" cy="963.6" r="0.8"/><circle cx="408.7" cy="961.7" r="0.6"/></g>
<path d="M266.8 955.6 L311.8 954 L311.8 974.9 L265.6 975.6 Z" fill="url(#bw)"/>
<path d="M266.8 955.6 L287.4 954.7 L311.8 953.7" stroke="#d4d7e0" stroke-width="1" fill="none"/>
<rect x="299.9" y="986.2" width="67.8" height="38.4" stroke="#d4d7e0" stroke-width="1.4" fill="none"/>
<g fill="#d4d7e0" opacity="0.9"><circle cx="318.4" cy="1011.8" r="0.9"/><circle cx="356.1" cy="994.6" r="0.6"/><circle cx="311.3" cy="995.9" r="0.9"/><circle cx="310.2" cy="1006.5" r="0.6"/><circle cx="320.7" cy="1003" r="0.9"/><circle cx="340.7" cy="988.7" r="0.6"/><circle cx="311.3" cy="1018.2" r="0.9"/><circle cx="353.3" cy="1016.6" r="0.9"/><circle cx="362.4" cy="1015.5" r="0.6"/><circle cx="356.1" cy="1004.9" r="0.9"/><circle cx="337.9" cy="1003" r="0.7"/><circle cx="329.3" cy="999" r="0.5"/><circle cx="354.2" cy="1015.7" r="1"/><circle cx="346" cy="1007.3" r="0.9"/><circle cx="310.5" cy="1011.5" r="0.7"/><circle cx="313.2" cy="995.1" r="0.8"/><circle cx="318.1" cy="1004" r="0.8"/><circle cx="327.1" cy="992.7" r="0.8"/><circle cx="316.9" cy="996.3" r="0.6"/><circle cx="325.3" cy="990.7" r="0.8"/><circle cx="362.7" cy="1001.6" r="0.9"/><circle cx="361.4" cy="989.7" r="0.6"/><circle cx="353.3" cy="1017" r="0.8"/><circle cx="312.1" cy="1002.4" r="1"/><circle cx="358.4" cy="1015.8" r="0.6"/><circle cx="356.3" cy="1001.1" r="0.9"/></g>
<text x="382.6" y="778.7" font-size="8.2" fill="#eceef4" textLength="62" lengthAdjust="spacingAndGlyphs">2x WALL FRAMING</text>
<path d="M379.8 776.2 L369.8 776.2 L348.6 788.9" stroke="#d4d7e0" stroke-width="1" fill="none"/>
<path d="M348.6 788.9 L354.4 784 L355.7 786.2 Z" fill="#d4d7e0" stroke="none"/>
<text x="384.1" y="806.2" font-size="8.2" fill="#eceef4" textLength="48" lengthAdjust="spacingAndGlyphs">(2) 2x PLATES</text>
<path d="M381.6 803.7 L374.8 803.7 L345.5 848.8" stroke="#d4d7e0" stroke-width="1" fill="none"/>
<path d="M345.5 848.8 L348.5 841.9 L350.6 843.2 Z" fill="#d4d7e0" stroke="none"/>
<text x="384.1" y="824.9" font-size="8.2" fill="#eceef4" textLength="44.3" lengthAdjust="spacingAndGlyphs">PLATE (TRT)</text>
<path d="M381.6 822.4 L372.9 822.4 L348.2 853.3" stroke="#d4d7e0" stroke-width="1" fill="none"/>
<path d="M348.2 853.3 L351.9 846.7 L353.9 848.3 Z" fill="#d4d7e0" stroke="none"/>
<text x="424.7" y="858.6" font-size="9.4" fill="#eceef4" textLength="66.1" lengthAdjust="spacingAndGlyphs">8" BOND BEAM</text>
<text x="424.7" y="868.8" font-size="9.4" fill="#eceef4" textLength="66.1" lengthAdjust="spacingAndGlyphs">WITH (1) #4 BAR.</text>
<path d="M421 864.6 L391 864.6 L344.5 885.8" stroke="#d4d7e0" stroke-width="1" fill="none"/>
<path d="M344.5 885.8 L350.8 881.5 L351.8 883.8 Z" fill="#d4d7e0" stroke="none"/>
<text x="424.7" y="898.5" font-size="9.4" fill="#eceef4" textLength="53.7" lengthAdjust="spacingAndGlyphs">8" (MIN) CMU</text>
<path d="M421 896.3 L404.7 896.3 L355.4 919.5" stroke="#d4d7e0" stroke-width="1" fill="none"/>
<path d="M355.4 919.5 L361.7 915.1 L362.8 917.4 Z" fill="#d4d7e0" stroke="none"/>
<path d="M279.9 776.2 L297.4 776.2 L330.5 827.4" stroke="#d4d7e0" stroke-width="1" fill="none"/>
<path d="M330.5 827.4 L325.4 821.8 L327.5 820.4 Z" fill="#d4d7e0" stroke="none"/>
<path d="M261.2 828 L266.8 828 L311.1 868.8" stroke="#d4d7e0" stroke-width="1" fill="none"/>
<path d="M311.1 868.8 L304.8 864.6 L306.5 862.8 Z" fill="#d4d7e0" stroke="none"/>
<path d="M271.2 879.4 L289.9 879.4 L331.7 924.1" stroke="#d4d7e0" stroke-width="1" fill="none"/>
<path d="M331.7 924.1 L325.7 919.5 L327.5 917.8 Z" fill="#d4d7e0" stroke="none"/>
<path d="M443.4 979.3 L411 979.3 L368.5 995.5" stroke="#d4d7e0" stroke-width="1" fill="none"/>
<path d="M368.5 995.5 L375.1 991.7 L376 994 Z" fill="#d4d7e0" stroke="none"/>
<path d="M449.7 1024.2 L412.8 1024.2 L344.5 1006.9" stroke="#d4d7e0" stroke-width="1" fill="none"/>
<path d="M344.5 1006.9 L352 1007.5 L351.4 1009.9 Z" fill="#d4d7e0" stroke="none"/>
<text x="186.7" y="751.2" font-size="8.2" fill="#eceef4" textLength="77.7" lengthAdjust="spacingAndGlyphs">3,500 LB HOLDOWN</text>
<text x="186.7" y="760.5" font-size="8.2" fill="#eceef4" textLength="110.7" lengthAdjust="spacingAndGlyphs">(SIMPSON HTT4 HOLDOWN W/</text>
<text x="186.7" y="769.9" font-size="8.2" fill="#eceef4" textLength="73.3" lengthAdjust="spacingAndGlyphs">18-16dx2-1/2" NAILS</text>
<text x="186.7" y="779.3" font-size="8.2" fill="#eceef4" textLength="44.3" lengthAdjust="spacingAndGlyphs">OR EQUAL.)</text>
<text x="199.2" y="829.8" font-size="7.4" fill="#eceef4" textLength="59.9" lengthAdjust="spacingAndGlyphs">OPTIONAL BRICK</text>
<text x="199.2" y="838.2" font-size="7.4" fill="#eceef4" textLength="42.7" lengthAdjust="spacingAndGlyphs">(OR OTHER)</text>
<text x="144.6" y="882.2" font-size="9.4" fill="#eceef4" textLength="123.8" lengthAdjust="spacingAndGlyphs">⅝" THREADED ROD WITH ⅜"</text>
<text x="144.6" y="892.3" font-size="9.4" fill="#eceef4" textLength="122.3" lengthAdjust="spacingAndGlyphs">x 1½" x 1½" PLATE WASHERS</text>
<text x="144.6" y="902.5" font-size="9.4" fill="#eceef4" textLength="122.3" lengthAdjust="spacingAndGlyphs">AND NUTS OR SIMPSON "SET</text>
<text x="144.6" y="912.6" font-size="9.4" fill="#eceef4" textLength="124.5" lengthAdjust="spacingAndGlyphs">OR SET-XP" EPOXY.  7" MIN.</text>
<text x="144.6" y="922.7" font-size="9.4" fill="#eceef4" textLength="96.7" lengthAdjust="spacingAndGlyphs">EMBEDMENT INTO FTG.</text>
<text x="447.8" y="980.4" font-size="9.4" fill="#eceef4" textLength="108.2" lengthAdjust="spacingAndGlyphs">MIN 10" DEEP CONCRETE</text>
<text x="447.8" y="990.7" font-size="9.4" fill="#eceef4" textLength="113.2" lengthAdjust="spacingAndGlyphs">FOOTING (SEE PLANS FOR</text>
<text x="447.8" y="1001" font-size="9.4" fill="#eceef4" textLength="29.6" lengthAdjust="spacingAndGlyphs">WIDTH)</text>
<text x="455" y="1018.5" font-size="9.4" fill="#eceef4" textLength="87" lengthAdjust="spacingAndGlyphs">3" CONC. COVER AT</text>
<text x="455" y="1028.9" font-size="9.4" fill="#eceef4" textLength="119.2" lengthAdjust="spacingAndGlyphs">BOTTOM AND 6" MIN CONC.</text>
<text x="455" y="1039.3" font-size="9.4" fill="#eceef4" textLength="90.1" lengthAdjust="spacingAndGlyphs">COVER ON SIDES OF</text>
<text x="455" y="1049.7" font-size="9.4" fill="#eceef4" textLength="66.1" lengthAdjust="spacingAndGlyphs">ANCHOR. (TYP)</text>
<rect x="295.3" y="1047.1" width="123.2" height="24.2" stroke="#d4d7e0" stroke-width="1.3" fill="none"/>
<text x="312" y="1063.5" font-size="11.6" fill="#eceef4" textLength="91.5" lengthAdjust="spacingAndGlyphs">FOOTING SECTION</text>
<circle cx="292.1" cy="1104.7" r="15" stroke="#d4d7e0" stroke-width="1.2" fill="none"/>
<text x="283.9" y="1110" font-size="16" fill="#eceef4" textLength="13.1" lengthAdjust="spacingAndGlyphs" style="stroke:none">A</text>
<text x="315.2" y="1103" font-size="15.6" fill="#eceef4" textLength="263.6" lengthAdjust="spacingAndGlyphs" style="stroke:none">APA PORTAL FRAME W/ HOLD-DOWNS</text>
<path d="M314.6 1105.5 L579.4 1105.5" stroke="#d4d7e0" stroke-width="1.1" fill="none"/>
<text x="314.6" y="1114.6" font-size="8.8" fill="#eceef4" textLength="319.4" lengthAdjust="spacingAndGlyphs">DETAIL AND APPLICATION BASED ON APA TT-100E WITH USE OF TABLE 1</text>
<text x="314.6" y="1124.9" font-size="8.8" fill="#eceef4" textLength="247" lengthAdjust="spacingAndGlyphs">FOR APA PORTAL FRAME WITH HOLD-DOWN CAPACITIES.</text>
<path d="M654.2 783.6 L655.1 781.1 L657.3 779.7 L678.7 778.6 L680.9 779.9 L681.4 782.8 L681.2 871.4 L684.3 878.1 L697.3 954 L697.6 957.1 L672 965.3 L664.4 958.8 L653.6 951 L655.1 888.2 L652.5 884.9 L652.9 878.1 L654.2 783.6" stroke="#d4d7e0" stroke-width="1.2" fill="none"/>
<path d="M655.4 888.2 L666 958.2" stroke="#d4d7e0" stroke-width="1" fill="none"/>
<path d="M682.1 884.9 L696.4 955.7" stroke="#d4d7e0" stroke-width="1" fill="none"/>
<path d="M680.7 883.2 L676.2 937.5" stroke="#d4d7e0" stroke-width="1" fill="none"/>
<path d="M664.4 942.2 L676.5 938 L696.4 952.3" stroke="#d4d7e0" stroke-width="1" fill="none"/>
<path d="M664.4 942.2 L664.4 958.8" stroke="#d4d7e0" stroke-width="1" fill="none"/>
<path d="M672 960.8 L696.4 953.2" stroke="#d4d7e0" stroke-width="1" fill="none"/>
<path d="M672.5 963 L697.1 955.4" stroke="#d4d7e0" stroke-width="1" fill="none"/>
<path d="M652.9 878.1 L655.1 888.2" stroke="#d4d7e0" stroke-width="1" fill="none"/>
<path d="M681.2 871.4 L682.1 884.9" stroke="#d4d7e0" stroke-width="1" fill="none"/>
<circle cx="673.3" cy="948.6" r="4.6" stroke="#d4d7e0" stroke-width="1" fill="#8a8e9c"/>
<circle cx="673.3" cy="948.6" r="2.4" stroke="#d4d7e0" stroke-width="1" fill="none"/>
<g fill="#e4e6ec"><circle cx="659.3" cy="789" r="1.9"/><circle cx="672.3" cy="787" r="1.9"/><circle cx="664.4" cy="797.1" r="1.9"/><circle cx="677.4" cy="795.1" r="1.9"/><circle cx="659.3" cy="807.2" r="1.9"/><circle cx="672.3" cy="805.2" r="1.9"/><circle cx="664.4" cy="815.7" r="1.9"/><circle cx="677.4" cy="813.1" r="1.9"/><circle cx="659.3" cy="825.3" r="1.9"/><circle cx="672.3" cy="822.9" r="1.9"/><circle cx="664.4" cy="833.4" r="1.9"/><circle cx="677.4" cy="830.9" r="1.9"/><circle cx="659.3" cy="843" r="1.9"/><circle cx="672.3" cy="840.6" r="1.9"/><circle cx="664.4" cy="852" r="1.9"/><circle cx="677.4" cy="848.6" r="1.9"/><circle cx="658.8" cy="862.4" r="1.9"/><circle cx="672" cy="858.7" r="1.9"/><circle cx="664.4" cy="870.8" r="1.9"/><circle cx="677" cy="868.5" r="1.9"/><circle cx="659" cy="880.6" r="1.9"/><circle cx="672" cy="877.8" r="1.9"/><circle cx="664.4" cy="889.6" r="1.9"/><circle cx="677.4" cy="886.2" r="1.9"/><circle cx="669.9" cy="898" r="1.9"/><circle cx="669.9" cy="909.7" r="1.9"/></g>
<rect x="625.6" y="986.6" width="95.3" height="18.1" stroke="#d4d7e0" stroke-width="1.3" fill="none"/>
<text x="637.4" y="999.6" font-size="10.3" fill="#eceef4" textLength="72.5" lengthAdjust="spacingAndGlyphs">SIMPSON HTT4</text>
<path d="M979.4 138.4 L1137 138.4" stroke="#d4d7e0" stroke-width="1.1" fill="none"/>
<path d="M979.4 144.4 L1137 144.4" stroke="#d4d7e0" stroke-width="1.1" fill="none"/>
<path d="M979.4 149.9 L1137 149.9" stroke="#d4d7e0" stroke-width="1.5" fill="none"/>
<path d="M1000.8 149.9 L1000.8 174.7" stroke="#d4d7e0" stroke-width="1.3" fill="none"/>
<path d="M1006.2 149.9 L1006.2 174.7" stroke="#d4d7e0" stroke-width="1" fill="none"/>
<path d="M979.4 174.9 L1055 174.9" stroke="#d4d7e0" stroke-width="1.5" fill="none"/>
<path d="M1120.3 149.9 L1120.3 492.8" stroke="#d4d7e0" stroke-width="1" fill="none"/>
<path d="M1125.9 149.9 L1125.9 492.8" stroke="#d4d7e0" stroke-width="1.3" fill="none"/>
<rect x="1054.8" y="138.9" width="12.3" height="131" rx="4" fill="#e4e448"/>
<rect x="1056.3" y="140.9" width="3.6" height="127" fill="#26280f" opacity="0.88"/>
<rect x="1062" y="140.9" width="3.6" height="127" fill="#26280f" opacity="0.88"/>
<g fill="#e4e448"><circle cx="1057.5" cy="142.9" r="0.95"/><circle cx="1063.2" cy="142.9" r="0.95"/><circle cx="1058.7" cy="147.2" r="0.95"/><circle cx="1064.4" cy="147.2" r="0.95"/><circle cx="1057.5" cy="151.5" r="0.95"/><circle cx="1063.2" cy="151.5" r="0.95"/><circle cx="1058.7" cy="155.7" r="0.95"/><circle cx="1064.4" cy="155.7" r="0.95"/><circle cx="1057.5" cy="160" r="0.95"/><circle cx="1063.2" cy="160" r="0.95"/><circle cx="1058.7" cy="164.3" r="0.95"/><circle cx="1064.4" cy="164.3" r="0.95"/><circle cx="1057.5" cy="168.6" r="0.95"/><circle cx="1063.2" cy="168.6" r="0.95"/><circle cx="1058.7" cy="172.8" r="0.95"/><circle cx="1064.4" cy="172.8" r="0.95"/><circle cx="1057.5" cy="177.1" r="0.95"/><circle cx="1063.2" cy="177.1" r="0.95"/><circle cx="1058.7" cy="181.4" r="0.95"/><circle cx="1064.4" cy="181.4" r="0.95"/><circle cx="1057.5" cy="185.7" r="0.95"/><circle cx="1063.2" cy="185.7" r="0.95"/><circle cx="1058.7" cy="189.9" r="0.95"/><circle cx="1064.4" cy="189.9" r="0.95"/><circle cx="1057.5" cy="194.2" r="0.95"/><circle cx="1063.2" cy="194.2" r="0.95"/><circle cx="1058.7" cy="198.5" r="0.95"/><circle cx="1064.4" cy="198.5" r="0.95"/><circle cx="1057.5" cy="202.8" r="0.95"/><circle cx="1063.2" cy="202.8" r="0.95"/><circle cx="1058.7" cy="207" r="0.95"/><circle cx="1064.4" cy="207" r="0.95"/><circle cx="1057.5" cy="211.3" r="0.95"/><circle cx="1063.2" cy="211.3" r="0.95"/><circle cx="1058.7" cy="215.6" r="0.95"/><circle cx="1064.4" cy="215.6" r="0.95"/><circle cx="1057.5" cy="219.9" r="0.95"/><circle cx="1063.2" cy="219.9" r="0.95"/><circle cx="1058.7" cy="224.2" r="0.95"/><circle cx="1064.4" cy="224.2" r="0.95"/><circle cx="1057.5" cy="228.4" r="0.95"/><circle cx="1063.2" cy="228.4" r="0.95"/><circle cx="1058.7" cy="232.7" r="0.95"/><circle cx="1064.4" cy="232.7" r="0.95"/><circle cx="1057.5" cy="237" r="0.95"/><circle cx="1063.2" cy="237" r="0.95"/><circle cx="1058.7" cy="241.3" r="0.95"/><circle cx="1064.4" cy="241.3" r="0.95"/><circle cx="1057.5" cy="245.5" r="0.95"/><circle cx="1063.2" cy="245.5" r="0.95"/><circle cx="1058.7" cy="249.8" r="0.95"/><circle cx="1064.4" cy="249.8" r="0.95"/><circle cx="1057.5" cy="254.1" r="0.95"/><circle cx="1063.2" cy="254.1" r="0.95"/><circle cx="1058.7" cy="258.4" r="0.95"/><circle cx="1064.4" cy="258.4" r="0.95"/><circle cx="1057.5" cy="262.6" r="0.95"/><circle cx="1063.2" cy="262.6" r="0.95"/><circle cx="1058.7" cy="266.9" r="0.95"/><circle cx="1064.4" cy="266.9" r="0.95"/></g>
<path d="M1055 269.7 L1055 492.8" stroke="#d4d7e0" stroke-width="1" fill="none"/>
<path d="M1060.4 269.7 L1060.4 492.8" stroke="#d4d7e0" stroke-width="1" fill="none"/>
<path d="M1066.9 269.7 L1066.9 492.8" stroke="#d4d7e0" stroke-width="1" fill="none"/>
<path d="M978.9 209.5 L1055 209.5" stroke="#d4d7e0" stroke-width="1" fill="none"/>
<path d="M1049 209.5 L1049 492.8" stroke="#d4d7e0" stroke-width="1" fill="none"/>
<path d="M1056 280.2 L1067.4 280.2" stroke="#d4d7e0" stroke-width="1" fill="none"/>
<path d="M1056 301.5 L1067.4 301.5" stroke="#d4d7e0" stroke-width="1" fill="none"/>
<path d="M1056 322.8 L1067.4 322.8" stroke="#d4d7e0" stroke-width="1" fill="none"/>
<path d="M1056 346 L1067.4 346" stroke="#d4d7e0" stroke-width="1" fill="none"/>
<path d="M1056 369.1 L1067.4 369.1" stroke="#d4d7e0" stroke-width="1" fill="none"/>
<path d="M1056 392.2 L1067.4 392.2" stroke="#d4d7e0" stroke-width="1" fill="none"/>
<path d="M1056 413.5 L1067.4 413.5" stroke="#d4d7e0" stroke-width="1" fill="none"/>
<path d="M1056.8 436.6 L1067.1 436.6" stroke="#d4d7e0" stroke-width="0.9" fill="none"/>
<path d="M1056.8 440.2 L1067.1 440.2" stroke="#d4d7e0" stroke-width="0.9" fill="none"/>
<path d="M1056.8 443.7 L1067.1 443.7" stroke="#d4d7e0" stroke-width="0.9" fill="none"/>
<path d="M1056.8 447.3 L1067.1 447.3" stroke="#d4d7e0" stroke-width="0.9" fill="none"/>
<path d="M1056.8 450.8 L1067.1 450.8" stroke="#d4d7e0" stroke-width="0.9" fill="none"/>
<path d="M1056.8 454.4 L1067.1 454.4" stroke="#d4d7e0" stroke-width="0.9" fill="none"/>
<path d="M1056.8 457.9 L1067.1 457.9" stroke="#d4d7e0" stroke-width="0.9" fill="none"/>
<path d="M1056.8 461.5 L1067.1 461.5" stroke="#d4d7e0" stroke-width="0.9" fill="none"/>
<path d="M1056.8 465 L1067.1 465" stroke="#d4d7e0" stroke-width="0.9" fill="none"/>
<path d="M1056.8 468.6 L1067.1 468.6" stroke="#d4d7e0" stroke-width="0.9" fill="none"/>
<path d="M1056.8 472.2 L1067.1 472.2" stroke="#d4d7e0" stroke-width="0.9" fill="none"/>
<path d="M1056.8 475.7 L1067.1 475.7" stroke="#d4d7e0" stroke-width="0.9" fill="none"/>
<path d="M1056.8 479.3 L1067.1 479.3" stroke="#d4d7e0" stroke-width="0.9" fill="none"/>
<path d="M1056.8 436.6 L1056.8 479.3" stroke="#d4d7e0" stroke-width="1" fill="none"/>
<path d="M1067.1 436.6 L1067.1 479.3" stroke="#d4d7e0" stroke-width="1" fill="none"/>
<path d="M1067.1 479.3 L1069.6 489.9" stroke="#d4d7e0" stroke-width="1" fill="none"/>
<path d="M1097.7 206.6 L1097.7 272.2" stroke="#d4d7e0" stroke-width="1" fill="none"/>
<path d="M1084.3 209.5 L1100.2 209.5" stroke="#d4d7e0" stroke-width="1" fill="none"/>
<path d="M1080.3 269.2 L1100.2 269.2" stroke="#d4d7e0" stroke-width="1" fill="none"/>
<path d="M1093.9 205.7 L1101.6 213.4" stroke="#d4d7e0" stroke-width="1" fill="none"/>
<path d="M1093.9 265.3 L1101.6 273.1" stroke="#d4d7e0" stroke-width="1" fill="none"/>
<text x="1094.5" y="244.8" font-size="8.5" fill="#eceef4" textLength="10.9" lengthAdjust="spacingAndGlyphs" transform="rotate(-90 1094.5 244.8)">20"</text>
<path d="M1047.5 492.8 L1138.2 492.8" stroke="#d4d7e0" stroke-width="1.3" fill="none"/>
<path d="M1047.5 498.8 L1138.2 498.8" stroke="#d4d7e0" stroke-width="1.2" fill="none"/>
<path d="M1047.5 492.8 L1047.5 532.6" stroke="#d4d7e0" stroke-width="1.2" fill="none"/>
<g fill="#d4d7e0" opacity="0.9"><circle cx="1065.3" cy="522.8" r="0.8"/><circle cx="1092" cy="508.2" r="0.9"/><circle cx="1119.9" cy="517.3" r="0.8"/><circle cx="1071.3" cy="501.6" r="0.7"/><circle cx="1101" cy="503.7" r="0.9"/><circle cx="1071" cy="508.7" r="0.5"/><circle cx="1136" cy="524.3" r="1"/><circle cx="1103.6" cy="502.6" r="0.7"/><circle cx="1093.5" cy="505.1" r="1"/><circle cx="1082.6" cy="506.3" r="0.9"/><circle cx="1061.9" cy="530.1" r="0.7"/><circle cx="1098.1" cy="512.1" r="0.8"/><circle cx="1067.2" cy="502.7" r="1"/><circle cx="1071.2" cy="525.6" r="0.6"/><circle cx="1133.5" cy="529.1" r="0.9"/><circle cx="1116" cy="519.4" r="0.9"/><circle cx="1061.7" cy="516.2" r="0.9"/><circle cx="1068.4" cy="530" r="1"/><circle cx="1086.1" cy="512.8" r="0.7"/><circle cx="1084" cy="532.2" r="0.7"/><circle cx="1053.6" cy="504.4" r="0.9"/><circle cx="1135.6" cy="516.8" r="0.8"/><circle cx="1098" cy="524.6" r="0.6"/><circle cx="1103" cy="518.7" r="0.8"/><circle cx="1066.6" cy="506.8" r="0.7"/><circle cx="1130" cy="512.2" r="0.8"/><circle cx="1077.3" cy="504.7" r="0.5"/><circle cx="1120.4" cy="525.5" r="0.7"/><circle cx="1109.3" cy="522.4" r="1"/><circle cx="1132.6" cy="514.1" r="1"/></g>
<path d="M1070.3 491 L1070.3 529" stroke="#c4c7d1" stroke-width="2.8" fill="none"/>
<circle cx="1070.3" cy="491" r="2.5" stroke="#d4d7e0" stroke-width="0" fill="#d6d8e0"/>
<path d="M970.9 231.4 L996.8 231.4 L1054 195.6" stroke="#d4d7e0" stroke-width="1" fill="none"/>
<path d="M1054 195.6 L1048.3 200.7 L1047 198.5 Z" fill="#d4d7e0" stroke="none"/>
<path d="M976.4 278.4 L1019.1 278.4 L1063.5 322.8" stroke="#d4d7e0" stroke-width="1" fill="none"/>
<path d="M1063.5 322.8 L1057.3 318.4 L1059.1 316.7 Z" fill="#d4d7e0" stroke="none"/>
<path d="M994.2 320 L1008.4 320 L1047.5 345.2" stroke="#d4d7e0" stroke-width="1" fill="none"/>
<path d="M1047.5 345.2 L1040.5 342.2 L1041.9 340.1 Z" fill="#d4d7e0" stroke="none"/>
<path d="M976.4 386.1 L1084.8 386.1 L1069.9 491" stroke="#d4d7e0" stroke-width="1" fill="none"/>
<path d="M996 482.1 L1013.7 482.1 L1067.1 518.4" stroke="#d4d7e0" stroke-width="1" fill="none"/>
<path d="M1067.1 518.4 L1060.2 515.2 L1061.6 513.1 Z" fill="#d4d7e0" stroke="none"/>
<text x="854.5" y="215.1" font-size="9.4" fill="#eceef4" textLength="108.4" lengthAdjust="spacingAndGlyphs">(2) SIMPSON CS16 STRAP</text>
<text x="854.5" y="225.6" font-size="9.4" fill="#eceef4" textLength="104.9" lengthAdjust="spacingAndGlyphs">WITH 8d NAILS. (EXTEND</text>
<text x="854.5" y="236.1" font-size="9.4" fill="#eceef4" textLength="112" lengthAdjust="spacingAndGlyphs">TO WALL TOP PLATE AND</text>
<text x="854.5" y="246.6" font-size="9.4" fill="#eceef4" textLength="85.3" lengthAdjust="spacingAndGlyphs">EXTEND 20" UNDER</text>
<text x="854.5" y="257.1" font-size="9.4" fill="#eceef4" textLength="41.2" lengthAdjust="spacingAndGlyphs">HEADER).</text>
<text x="879.4" y="282.3" font-size="9.4" fill="#eceef4" textLength="97" lengthAdjust="spacingAndGlyphs">ATTACH KING STUD TO</text>
<text x="879.4" y="292.6" font-size="9.4" fill="#eceef4" textLength="110.6" lengthAdjust="spacingAndGlyphs">SUPPORT STUDS WITH 10d</text>
<text x="879.4" y="302.9" font-size="9.4" fill="#eceef4" textLength="64.3" lengthAdjust="spacingAndGlyphs">NAILS @ 8" OC.</text>
<text x="880.4" y="323.2" font-size="9.4" fill="#eceef4" textLength="113" lengthAdjust="spacingAndGlyphs">MIN (2)2X SUPPORT STUDS</text>
<text x="880.4" y="333.5" font-size="9.4" fill="#eceef4" textLength="103.1" lengthAdjust="spacingAndGlyphs">AND (1) KING STUD (SEE</text>
<text x="880.4" y="343.8" font-size="9.4" fill="#eceef4" textLength="106.6" lengthAdjust="spacingAndGlyphs">PLAN FOR STUD COLUMN</text>
<text x="880.4" y="354.1" font-size="9.4" fill="#eceef4" textLength="69.3" lengthAdjust="spacingAndGlyphs">REQUIREMENTS).</text>
<text x="880.4" y="382.2" font-size="9.4" fill="#eceef4" textLength="85.3" lengthAdjust="spacingAndGlyphs">1,000 LB HOLDOWN</text>
<text x="880.4" y="392.5" font-size="9.4" fill="#eceef4" textLength="65.8" lengthAdjust="spacingAndGlyphs">(SIMPSON HTT4</text>
<text x="880.4" y="402.8" font-size="9.4" fill="#eceef4" textLength="85.3" lengthAdjust="spacingAndGlyphs">HOLDOWN W/ 18-10d</text>
<text x="880.4" y="413.1" font-size="9.4" fill="#eceef4" textLength="77.5" lengthAdjust="spacingAndGlyphs">NAILS OR EQUAL.)</text>
<text x="901.8" y="481" font-size="9.4" fill="#eceef4" textLength="86.4" lengthAdjust="spacingAndGlyphs">⅝" THREADED ROD</text>
<text x="914.2" y="491" font-size="9.4" fill="#eceef4" textLength="74.7" lengthAdjust="spacingAndGlyphs">(SEE DETAIL "C".</text>
<circle cx="903.5" cy="571" r="14.9" stroke="#d4d7e0" stroke-width="1.2" fill="none"/>
<text x="897.5" y="577" font-size="17" fill="#eceef4" textLength="12.1" lengthAdjust="spacingAndGlyphs" style="stroke:#23293c;stroke-width:0.1px">B</text>
<text x="925.6" y="572.4" font-size="15.5" fill="#eceef4" textLength="163.5" lengthAdjust="spacingAndGlyphs" style="stroke:none">END CONDITION DETAIL</text>
<path d="M924.9 574.9 L1090.2 574.9" stroke="#d4d7e0" stroke-width="1.1" fill="none"/>
<text x="925.6" y="585.2" font-size="11.2" fill="#eceef4" textLength="187" lengthAdjust="spacingAndGlyphs">(FOR USE WITH SINGLE APA PORTAL</text>
<text x="925.6" y="596.9" font-size="11.2" fill="#eceef4" textLength="98.8" lengthAdjust="spacingAndGlyphs">FRAME CONDITION)</text>
<text x="925.6" y="607.6" font-size="9.4" fill="#eceef4" textLength="187.7" lengthAdjust="spacingAndGlyphs">DETAIL AND APPLICATION BASED ON APA</text>
<text x="925.6" y="617.9" font-size="9.4" fill="#eceef4" textLength="209" lengthAdjust="spacingAndGlyphs">TT-100E WITH USE OF TABLE 1 FOR APA PORTAL</text>
<text x="925.6" y="628.2" font-size="9.4" fill="#eceef4" textLength="164.6" lengthAdjust="spacingAndGlyphs">FRAME WITH HOLD-DOWN CAPACITIES.</text>
<path d="M1384.2 217 L1384.2 339.8" stroke="#c4c7d1" stroke-width="1.8" fill="none"/>
<path d="M1406.3 217 L1406.3 339.8" stroke="#c4c7d1" stroke-width="1.8" fill="none"/>
<rect x="1385.1" y="328.9" width="22.2" height="10.8" stroke="#d4d7e0" stroke-width="1" fill="none"/>
<path d="M1385.1 328.9 L1407.3 328.9" stroke="#d4d7e0" stroke-width="1" fill="none"/>
<path d="M1385.1 328.9 L1407.3 334.4" stroke="#d4d7e0" stroke-width="1" fill="none"/>
<path d="M1385.1 334.4 L1407.3 328.9" stroke="#d4d7e0" stroke-width="1" fill="none"/>
<path d="M1385.1 334.4 L1407.3 334.4" stroke="#d4d7e0" stroke-width="1" fill="none"/>
<path d="M1385.1 334.4 L1407.3 339.8" stroke="#d4d7e0" stroke-width="1" fill="none"/>
<path d="M1385.1 339.8 L1407.3 334.4" stroke="#d4d7e0" stroke-width="1" fill="none"/>
<path d="M1394.6 324.4 L1394.6 476.9" stroke="#c4c7d1" stroke-width="2.4" fill="none"/>
<ellipse cx="1394.6" cy="477.3" rx="2.8" ry="1.8" fill="#d6d8e0"/>
<rect x="1392.3" y="323.7" width="4.5" height="5.2" stroke="none" stroke-width="0" fill="#c9ccd6"/>
<path d="M1366.1 331.6 L1382.4 328 L1383.7 336.2 L1367.9 339.8Z" stroke="#d4d7e0" stroke-width="1" fill="none"/>
<path d="M1370.2 339.8 L1370.2 459.2" stroke="#d4d7e0" stroke-width="1" fill="none"/>
<path d="M1383.3 339.8 L1383.3 459.2" stroke="#d4d7e0" stroke-width="1" fill="none"/>
<rect x="1370.4" y="339.1" width="12.9" height="1.4" stroke="none" stroke-width="0" fill="#9a9eac"/>
<rect x="1370.4" y="349.1" width="12.9" height="1.4" stroke="none" stroke-width="0" fill="#9a9eac"/>
<rect x="1370.4" y="359.1" width="12.9" height="1.4" stroke="none" stroke-width="0" fill="#9a9eac"/>
<rect x="1370.4" y="369.2" width="12.9" height="1.4" stroke="none" stroke-width="0" fill="#9a9eac"/>
<rect x="1370.4" y="379.2" width="12.9" height="1.4" stroke="none" stroke-width="0" fill="#9a9eac"/>
<rect x="1370.4" y="389.2" width="12.9" height="1.4" stroke="none" stroke-width="0" fill="#9a9eac"/>
<rect x="1370.4" y="399.3" width="12.9" height="1.4" stroke="none" stroke-width="0" fill="#9a9eac"/>
<rect x="1370.4" y="409.3" width="12.9" height="1.4" stroke="none" stroke-width="0" fill="#9a9eac"/>
<rect x="1370.4" y="419.3" width="12.9" height="1.4" stroke="none" stroke-width="0" fill="#9a9eac"/>
<rect x="1370.4" y="429.4" width="12.9" height="1.4" stroke="none" stroke-width="0" fill="#9a9eac"/>
<rect x="1370.4" y="439.4" width="12.9" height="1.4" stroke="none" stroke-width="0" fill="#9a9eac"/>
<rect x="1370.4" y="449.5" width="12.9" height="1.4" stroke="none" stroke-width="0" fill="#9a9eac"/>
<path d="M1383.3 340.2 L1412.2 340.2" stroke="#d4d7e0" stroke-width="1.2" fill="none"/>
<path d="M1412.2 340.2 L1412.2 459.2" stroke="#d4d7e0" stroke-width="1" fill="none"/>
<path d="M1389.2 340.2 L1389.2 459.2" stroke="#d4d7e0" stroke-width="1" fill="none"/>
<path d="M1405.9 340.2 L1405.9 459.2" stroke="#d4d7e0" stroke-width="1" fill="none"/>
<rect x="1383.7" y="340.7" width="5.1" height="118.5" fill="url(#cmu)"/>
<rect x="1406.5" y="340.7" width="5.1" height="118.5" fill="url(#cmu)"/>
<path d="M1383.7 368.7 L1411.8 368.7" stroke="#d4d7e0" stroke-width="1.1" fill="none"/>
<path d="M1383.7 370.1 L1411.8 370.1" stroke="#d4d7e0" stroke-width="1.1" fill="none"/>
<path d="M1383.7 399 L1411.8 399" stroke="#d4d7e0" stroke-width="1.1" fill="none"/>
<path d="M1383.7 400.4 L1411.8 400.4" stroke="#d4d7e0" stroke-width="1.1" fill="none"/>
<path d="M1383.7 428.8 L1411.8 428.8" stroke="#d4d7e0" stroke-width="1.1" fill="none"/>
<path d="M1383.7 430.7 L1411.8 430.7" stroke="#d4d7e0" stroke-width="1.1" fill="none"/>
<rect x="1395.9" y="361.5" width="2.7" height="1.4" stroke="none" stroke-width="0" fill="#e4e6ec"/>
<path d="M1352.4 470.5 L1352.4 459.7 L1427.8 459.7 L1427.8 490 L1352.4 490 L1352.4 479.6" stroke="#d4d7e0" stroke-width="1.3" fill="none"/>
<path d="M1367.5 459.7 L1367.5 490" stroke="#d4d7e0" stroke-width="1.2" fill="none"/>
<path d="M1370.2 459.4 L1412.2 459.4" stroke="#aeb2be" stroke-width="2" fill="none"/>
<path d="M1420.7 477.9 L1423.6 477.9 L1423.3 475.6Z" stroke="#d4d7e0" stroke-width="0.8" fill="none"/>
<path d="M1396.8 485.6 L1399.7 485.6 L1399.3 483.3Z" stroke="#d4d7e0" stroke-width="0.8" fill="none"/>
<path d="M1390.9 489.2 L1393.8 489.2 L1393.4 486.9Z" stroke="#d4d7e0" stroke-width="0.8" fill="none"/>
<text x="1374" y="516.6" font-size="9.6" fill="#eceef4" textLength="43.2" lengthAdjust="spacingAndGlyphs">SECTION</text>
<path d="M1373.8 518.3 L1417.6 518.3" stroke="#d4d7e0" stroke-width="1.1" fill="none"/>
<path d="M1629.7 217 L1629.7 329.1" stroke="#d4d7e0" stroke-width="1" fill="none"/>
<path d="M1634.7 217 L1634.7 329.1" stroke="#d4d7e0" stroke-width="1" fill="none"/>
<path d="M1689.7 217 L1689.7 329.1" stroke="#d4d7e0" stroke-width="1" fill="none"/>
<path d="M1694.8 217 L1694.8 329.1" stroke="#d4d7e0" stroke-width="1" fill="none"/>
<path d="M1749 217 L1749 329.1" stroke="#d4d7e0" stroke-width="1" fill="none"/>
<path d="M1754.1 217 L1754.1 329.1" stroke="#d4d7e0" stroke-width="1" fill="none"/>
<path d="M1796 217 L1796 329.1" stroke="#d4d7e0" stroke-width="1" fill="none"/>
<path d="M1801.1 217 L1801.1 329.1" stroke="#d4d7e0" stroke-width="1" fill="none"/>
<path d="M1806.1 217 L1806.1 426" stroke="#d4d7e0" stroke-width="1" fill="none"/>
<path d="M1629.7 329.1 L1629.7 458.5" stroke="#d4d7e0" stroke-width="1" fill="none"/>
<path d="M1801.1 329.1 L1801.1 458.5" stroke="#d4d7e0" stroke-width="1.2" fill="none"/>
<path d="M1629.7 329.1 L1801.1 329.1" stroke="#d4d7e0" stroke-width="1.2" fill="none"/>
<path d="M1629.7 334.8 L1801.1 334.8" stroke="#aeb2be" stroke-width="2" fill="none"/>
<path d="M1629.7 339.9 L1801.1 339.9" stroke="#d4d7e0" stroke-width="1.2" fill="none"/>
<path d="M1629.7 368.8 L1801.1 368.8" stroke="#d4d7e0" stroke-width="1.1" fill="none"/>
<path d="M1629.7 370.3 L1801.1 370.3" stroke="#d4d7e0" stroke-width="1.1" fill="none"/>
<path d="M1629.7 397.8 L1801.1 397.8" stroke="#d4d7e0" stroke-width="1.1" fill="none"/>
<path d="M1629.7 400.7 L1801.1 400.7" stroke="#d4d7e0" stroke-width="1.1" fill="none"/>
<path d="M1629.7 427.4 L1801.1 427.4" stroke="#d4d7e0" stroke-width="1.1" fill="none"/>
<path d="M1629.7 430.3 L1801.1 430.3" stroke="#d4d7e0" stroke-width="1.1" fill="none"/>
<path d="M1629.7 458.5 L1801.1 458.5" stroke="#aeb2be" stroke-width="2.2" fill="none"/>
<path d="M1685.4 339.9 L1685.4 368.8" stroke="#d4d7e0" stroke-width="1" fill="none"/>
<path d="M1686.8 339.9 L1686.8 368.8" stroke="#d4d7e0" stroke-width="1" fill="none"/>
<path d="M1743.2 339.9 L1743.2 368.8" stroke="#d4d7e0" stroke-width="1" fill="none"/>
<path d="M1744.7 339.9 L1744.7 368.8" stroke="#d4d7e0" stroke-width="1" fill="none"/>
<path d="M1656.4 370.3 L1656.4 397.8" stroke="#d4d7e0" stroke-width="1" fill="none"/>
<path d="M1657.9 370.3 L1657.9 397.8" stroke="#d4d7e0" stroke-width="1" fill="none"/>
<path d="M1714.3 370.3 L1714.3 397.8" stroke="#d4d7e0" stroke-width="1" fill="none"/>
<path d="M1715.7 370.3 L1715.7 397.8" stroke="#d4d7e0" stroke-width="1" fill="none"/>
<path d="M1772.9 370.3 L1772.9 397.8" stroke="#d4d7e0" stroke-width="1" fill="none"/>
<path d="M1774.3 370.3 L1774.3 397.8" stroke="#d4d7e0" stroke-width="1" fill="none"/>
<path d="M1686.1 400.7 L1686.1 427.4" stroke="#d4d7e0" stroke-width="1" fill="none"/>
<path d="M1687.5 400.7 L1687.5 427.4" stroke="#d4d7e0" stroke-width="1" fill="none"/>
<path d="M1743.2 400.7 L1743.2 427.4" stroke="#d4d7e0" stroke-width="1" fill="none"/>
<path d="M1744.7 400.7 L1744.7 427.4" stroke="#d4d7e0" stroke-width="1" fill="none"/>
<path d="M1656.4 430.3 L1656.4 457.8" stroke="#d4d7e0" stroke-width="1" fill="none"/>
<path d="M1657.9 430.3 L1657.9 457.8" stroke="#d4d7e0" stroke-width="1" fill="none"/>
<path d="M1715 430.3 L1715 457.8" stroke="#d4d7e0" stroke-width="1" fill="none"/>
<path d="M1716.5 430.3 L1716.5 457.8" stroke="#d4d7e0" stroke-width="1" fill="none"/>
<path d="M1772.9 430.3 L1772.9 457.8" stroke="#d4d7e0" stroke-width="1" fill="none"/>
<path d="M1774.3 430.3 L1774.3 457.8" stroke="#d4d7e0" stroke-width="1" fill="none"/>
<path d="M1640.2 361.9 L1790.2 361.9" stroke="#b9bcc8" stroke-width="3" fill="none"/>
<path d="M1651.4 324.7 L1651.4 476.6" stroke="#c4c7d1" stroke-width="2.6" fill="none"/>
<ellipse cx="1651.4" cy="477.1" rx="2.6" ry="1.6" fill="#d6d8e0"/>
<circle cx="1651.4" cy="325" r="1.9" stroke="#d4d7e0" stroke-width="0" fill="#d6d8e0"/>
<path d="M1647 328.8 L1655.7 328.8" stroke="#d6d8e0" stroke-width="1.6" fill="none"/>
<path d="M1780.1 324.7 L1780.1 476.6" stroke="#c4c7d1" stroke-width="2.6" fill="none"/>
<ellipse cx="1780.1" cy="477.1" rx="2.6" ry="1.6" fill="#d6d8e0"/>
<circle cx="1780.1" cy="325" r="1.9" stroke="#d4d7e0" stroke-width="0" fill="#d6d8e0"/>
<path d="M1775.8 328.8 L1784.4 328.8" stroke="#d6d8e0" stroke-width="1.6" fill="none"/>
<path d="M1802.2 440.5 L1802.2 426 L1882.1 426" stroke="#d4d7e0" stroke-width="1.3" fill="none"/>
<path d="M1804 427.4 L1804 440.5 L1882.1 440.5" stroke="#d4d7e0" stroke-width="1" fill="none"/>
<rect x="1801.4" y="441.3" width="80.7" height="17.9" fill="url(#gravel)"/>
<path d="M1614.5 460 L1882.1 460" stroke="#d4d7e0" stroke-width="1.3" fill="none"/>
<path d="M1614.5 460 L1614.5 489.6 L1882.1 489.6" stroke="#d4d7e0" stroke-width="1.3" fill="none"/>
<path d="M1882.1 395.6 L1882.1 501.2" stroke="#d4d7e0" stroke-width="1.2" fill="none"/>
<path d="M1828.7 432.4 L1832.8 432.1 L1832.2 428.6Z" stroke="#d4d7e0" stroke-width="0.8" fill="none"/>
<path d="M1848.2 432.8 L1852.3 432.5 L1851.7 429Z" stroke="#d4d7e0" stroke-width="0.8" fill="none"/>
<path d="M1728.2 464.6 L1732.2 464.3 L1731.6 460.8Z" stroke="#d4d7e0" stroke-width="0.8" fill="none"/>
<path d="M1734.7 469 L1738.7 468.7 L1738.2 465.2Z" stroke="#d4d7e0" stroke-width="0.8" fill="none"/>
<path d="M1787.5 473.3 L1791.5 473 L1791 469.5Z" stroke="#d4d7e0" stroke-width="0.8" fill="none"/>
<path d="M1815 472.6 L1819 472.3 L1818.4 468.8Z" stroke="#d4d7e0" stroke-width="0.8" fill="none"/>
<path d="M1856.2 475.2 L1860.3 474.9 L1859.7 471.4Z" stroke="#d4d7e0" stroke-width="0.8" fill="none"/>
<path d="M1847.1 482.7 L1851.1 482.4 L1850.6 478.9Z" stroke="#d4d7e0" stroke-width="0.8" fill="none"/>
<path d="M1687.7 487 L1691.7 486.7 L1691.1 483.3Z" stroke="#d4d7e0" stroke-width="0.8" fill="none"/>
<path d="M1775.9 467.5 L1780 467.2 L1779.4 463.7Z" stroke="#d4d7e0" stroke-width="0.8" fill="none"/>
<path d="M1654.4 464.6 L1658.4 464.3 L1657.9 460.8Z" stroke="#d4d7e0" stroke-width="0.8" fill="none"/>
<path d="M1907.4 337.7 L1907.4 462.9" stroke="#d4d7e0" stroke-width="1" fill="none"/>
<path d="M1816.3 340.6 L1911 340.6" stroke="#d4d7e0" stroke-width="1" fill="none"/>
<path d="M1882.1 460 L1911 460" stroke="#d4d7e0" stroke-width="1" fill="none"/>
<path d="M1904.1 337.4 L1910.7 343.9" stroke="#d4d7e0" stroke-width="1" fill="none"/>
<path d="M1904.1 456.7 L1910.7 463.3" stroke="#d4d7e0" stroke-width="1" fill="none"/>
<text x="1905.5" y="415.9" font-size="8.6" fill="#eceef4" textLength="31.1" lengthAdjust="spacingAndGlyphs" transform="rotate(-90 1905.5 415.9)">48" MAX</text>
<path d="M1627.1 197.4 L1803.2 197.4" stroke="#d4d7e0" stroke-width="1" fill="none"/>
<path d="M1629.9 193.9 L1629.9 211.7" stroke="#d4d7e0" stroke-width="1" fill="none"/>
<path d="M1800.7 193.9 L1800.7 211.7" stroke="#d4d7e0" stroke-width="1" fill="none"/>
<path d="M1626.4 201 L1633.5 193.9" stroke="#d4d7e0" stroke-width="1" fill="none"/>
<path d="M1797.2 201 L1804.2 193.9" stroke="#d4d7e0" stroke-width="1" fill="none"/>
<text x="1699" y="195.7" font-size="8.6" fill="#eceef4" textLength="32" lengthAdjust="spacingAndGlyphs">48" MAX</text>
<text x="1706" y="516.4" font-size="9.6" fill="#eceef4" textLength="57.1" lengthAdjust="spacingAndGlyphs">ELEVATION</text>
<path d="M1705.8 518.9 L1763.6 518.9" stroke="#d4d7e0" stroke-width="1.1" fill="none"/>
<text x="1463.4" y="226.6" font-size="8.6" fill="#eceef4" textLength="72.9" lengthAdjust="spacingAndGlyphs">2x6 WALL FRAMING</text>
<path d="M1459.9 224.1 L1435 224.1 L1401.2 246.5" stroke="#d4d7e0" stroke-width="1" fill="none"/>
<path d="M1401.2 246.5 L1406.8 241.3 L1408.1 243.4 Z" fill="#d4d7e0" stroke="none"/>
<path d="M1543.5 224.1 L1609.3 224.1 L1687.6 272.1" stroke="#d4d7e0" stroke-width="1" fill="none"/>
<path d="M1687.6 272.1 L1680.5 269.3 L1681.8 267.2 Z" fill="#d4d7e0" stroke="none"/>
<text x="1463.4" y="246.9" font-size="8.6" fill="#eceef4" textLength="92.5" lengthAdjust="spacingAndGlyphs">OPTIONAL WALL PLATE.</text>
<text x="1463.4" y="256.1" font-size="8.6" fill="#eceef4" textLength="96.8" lengthAdjust="spacingAndGlyphs">MAY COUNTERSINK BOLT</text>
<text x="1463.4" y="265.4" font-size="8.6" fill="#eceef4" textLength="79.3" lengthAdjust="spacingAndGlyphs">IN OPTIONAL PLATE.</text>
<path d="M1459.9 244.4 L1442.1 244.4 L1403.7 327.6" stroke="#d4d7e0" stroke-width="1" fill="none"/>
<path d="M1403.7 327.6 L1405.7 320.3 L1408 321.4 Z" fill="#d4d7e0" stroke="none"/>
<path d="M1560.6 244 L1614.6 244 L1681.5 327.6" stroke="#d4d7e0" stroke-width="1" fill="none"/>
<path d="M1681.5 327.6 L1675.9 322.6 L1677.8 321 Z" fill="#d4d7e0" stroke="none"/>
<text x="1463.4" y="283.2" font-size="8.6" fill="#eceef4" textLength="80.8" lengthAdjust="spacingAndGlyphs">TREATED SILLPLATE</text>
<path d="M1459.2 281 L1449.2 281 L1408.3 335.5" stroke="#d4d7e0" stroke-width="1" fill="none"/>
<path d="M1408.3 335.5 L1411.8 328.7 L1413.8 330.2 Z" fill="#d4d7e0" stroke="none"/>
<path d="M1550.6 281 L1596.9 281 L1642.4 333.7" stroke="#d4d7e0" stroke-width="1" fill="none"/>
<path d="M1642.4 333.7 L1636.5 328.8 L1638.4 327.2 Z" fill="#d4d7e0" stroke="none"/>
<text x="1463.4" y="309.9" font-size="8.6" fill="#eceef4" textLength="91.4" lengthAdjust="spacingAndGlyphs">8" BOND BEAM WITH (1)</text>
<text x="1463.4" y="319.1" font-size="8.6" fill="#eceef4" textLength="29.5" lengthAdjust="spacingAndGlyphs">#4 BAR.</text>
<path d="M1459.9 307 L1452.1 307 L1403.7 361.1" stroke="#d4d7e0" stroke-width="1" fill="none"/>
<path d="M1403.7 361.1 L1407.8 354.7 L1409.6 356.3 Z" fill="#d4d7e0" stroke="none"/>
<path d="M1564.8 307 L1594.4 307 L1644.2 359.3" stroke="#d4d7e0" stroke-width="1" fill="none"/>
<path d="M1644.2 359.3 L1638.1 354.7 L1639.9 353 Z" fill="#d4d7e0" stroke="none"/>
<text x="1463.4" y="343.3" font-size="8.6" fill="#eceef4" textLength="26.7" lengthAdjust="spacingAndGlyphs">8" CMU</text>
<path d="M1459.9 340.8 L1451 340.8 L1411.9 386" stroke="#d4d7e0" stroke-width="1" fill="none"/>
<path d="M1411.9 386 L1415.8 379.5 L1417.7 381.1 Z" fill="#d4d7e0" stroke="none"/>
<path d="M1498.3 341.5 L1573.7 341.5 L1628.2 383.5" stroke="#d4d7e0" stroke-width="1" fill="none"/>
<path d="M1628.2 383.5 L1621.5 379.9 L1623 377.9 Z" fill="#d4d7e0" stroke="none"/>
<text x="1463.4" y="367.5" font-size="8.6" fill="#eceef4" textLength="97.8" lengthAdjust="spacingAndGlyphs">⅝" THREADED ROD WITH</text>
<text x="1463.4" y="376.6" font-size="8.6" fill="#eceef4" textLength="63" lengthAdjust="spacingAndGlyphs">2" CUT WASHERS</text>
<text x="1463.4" y="385.8" font-size="8.6" fill="#eceef4" textLength="84.3" lengthAdjust="spacingAndGlyphs">OR SIMPSON "SET OR</text>
<text x="1463.4" y="394.9" font-size="8.6" fill="#eceef4" textLength="65.8" lengthAdjust="spacingAndGlyphs">SET-XP" EPOXY.</text>
<path d="M1459.9 377.1 L1451 377.1 L1396.6 418" stroke="#d4d7e0" stroke-width="1" fill="none"/>
<path d="M1396.6 418 L1401.8 412.5 L1403.3 414.5 Z" fill="#d4d7e0" stroke="none"/>
<path d="M1558.8 377.4 L1586.2 377.4 L1648.4 416.6" stroke="#d4d7e0" stroke-width="1" fill="none"/>
<path d="M1648.4 416.6 L1641.4 413.6 L1642.8 411.5 Z" fill="#d4d7e0" stroke="none"/>
<text x="1463.4" y="431.5" font-size="8.6" fill="#eceef4" textLength="77.6" lengthAdjust="spacingAndGlyphs">CONCRETE FOOTING</text>
<text x="1463.4" y="440.8" font-size="8.6" fill="#eceef4" textLength="50.5" lengthAdjust="spacingAndGlyphs">(SEE PLANS)</text>
<path d="M1459.9 435.1 L1449.2 435.1 L1424.3 458.2" stroke="#d4d7e0" stroke-width="1" fill="none"/>
<path d="M1424.3 458.2 L1429 452.2 L1430.7 454 Z" fill="#d4d7e0" stroke="none"/>
<path d="M1544.6 435.1 L1573 435.1 L1612.9 465.3" stroke="#d4d7e0" stroke-width="1" fill="none"/>
<path d="M1612.9 465.3 L1606.1 461.8 L1607.6 459.8 Z" fill="#d4d7e0" stroke="none"/>
<path d="M1585.1 436.1 L1628.9 433.6" stroke="#d4d7e0" stroke-width="1" fill="none"/>
<text x="1463.4" y="469.6" font-size="8.6" fill="#eceef4" textLength="90.7" lengthAdjust="spacingAndGlyphs">3" CONC. COVER (TYP)</text>
<path d="M1459.9 467.1 L1449.2 467.1 L1398.7 480.3" stroke="#d4d7e0" stroke-width="1" fill="none"/>
<path d="M1398.7 480.3 L1405.6 477.2 L1406.3 479.6 Z" fill="#d4d7e0" stroke="none"/>
<text x="1292.7" y="329.1" font-size="8.6" fill="#eceef4" textLength="66.9" lengthAdjust="spacingAndGlyphs">OPTIONAL BRICK</text>
<text x="1292.7" y="338.3" font-size="8.6" fill="#eceef4" textLength="47.3" lengthAdjust="spacingAndGlyphs">(OR OTHER)</text>
<path d="M1346.1 335.5 L1355.7 335.5 L1370.2 365.7" stroke="#d4d7e0" stroke-width="1" fill="none"/>
<path d="M1370.2 365.7 L1365.9 359.5 L1368.1 358.4 Z" fill="#d4d7e0" stroke="none"/>
<text x="1848.7" y="286.4" font-size="8.6" fill="#eceef4" textLength="57.6" lengthAdjust="spacingAndGlyphs">GARAGE SLAB</text>
<text x="1848.7" y="295.6" font-size="8.6" fill="#eceef4" textLength="70.8" lengthAdjust="spacingAndGlyphs">OVER GRAVEL AS</text>
<text x="1848.7" y="304.9" font-size="8.6" fill="#eceef4" textLength="40.6" lengthAdjust="spacingAndGlyphs">SPECIFIED</text>
<path d="M1844.8 283.9 L1818.1 283.9 L1833.4 424.4" stroke="#d4d7e0" stroke-width="1" fill="none"/>
<path d="M1833.4 424.4 L1831.4 417.1 L1833.9 416.8 Z" fill="#d4d7e0" stroke="none"/>
<circle cx="1414" cy="560.3" r="14.2" stroke="#d4d7e0" stroke-width="1.2" fill="none"/>
<text x="1408.7" y="565.6" font-size="16" fill="#eceef4" textLength="11" lengthAdjust="spacingAndGlyphs" style="stroke:none">C</text>
<text x="1435" y="558.9" font-size="14.6" fill="#eceef4" textLength="241.9" lengthAdjust="spacingAndGlyphs" style="stroke:none">GARAGE 'WING WALL' REINFORCING</text>
<path d="M1434.3 561.7 L1678 561.7" stroke="#d4d7e0" stroke-width="1.1" fill="none"/>
<text x="1435.7" y="571" font-size="9.8" fill="#eceef4" textLength="112.4" lengthAdjust="spacingAndGlyphs">PER IRC FIGURE R602.10.7</text>
<path d="M1154.1 725.8 L1154.1 887" stroke="#d4d7e0" stroke-width="1" fill="none"/>
<path d="M1156.9 725.8 L1156.9 887" stroke="#d4d7e0" stroke-width="1" fill="none"/>
<path d="M1169.1 725.8 L1169.1 897.6" stroke="#d4d7e0" stroke-width="1" fill="none"/>
<path d="M1172.2 725.8 L1172.2 986.4" stroke="#d4d7e0" stroke-width="1" fill="none"/>
<rect x="1169.3" y="726.2" width="2.7" height="171.4" fill="url(#cmu)" opacity="0.8"/>
<path d="M1173.1 718.5 L1173.1 986.4" stroke="#d4d7e0" stroke-width="1" fill="none"/>
<path d="M1187.1 718.5 L1187.1 986.4" stroke="#d4d7e0" stroke-width="1" fill="none"/>
<path d="M1173.1 718.5 L1187.1 718.5" stroke="#d4d7e0" stroke-width="1" fill="none"/>
<rect x="1173.5" y="727.1" width="13.3" height="1.8" stroke="none" stroke-width="0" fill="#9095a4"/>
<path d="M1173.1 726.8 L1187.1 726.8" stroke="#d4d7e0" stroke-width="0.8" fill="none"/>
<path d="M1173.1 729.2 L1187.1 729.2" stroke="#d4d7e0" stroke-width="0.8" fill="none"/>
<rect x="1173.5" y="737.2" width="13.3" height="1.8" stroke="none" stroke-width="0" fill="#9095a4"/>
<path d="M1173.1 736.9 L1187.1 736.9" stroke="#d4d7e0" stroke-width="0.8" fill="none"/>
<path d="M1173.1 739.3 L1187.1 739.3" stroke="#d4d7e0" stroke-width="0.8" fill="none"/>
<rect x="1173.5" y="747.3" width="13.3" height="1.8" stroke="none" stroke-width="0" fill="#9095a4"/>
<path d="M1173.1 747 L1187.1 747" stroke="#d4d7e0" stroke-width="0.8" fill="none"/>
<path d="M1173.1 749.4 L1187.1 749.4" stroke="#d4d7e0" stroke-width="0.8" fill="none"/>
<rect x="1173.5" y="757.4" width="13.3" height="1.8" stroke="none" stroke-width="0" fill="#9095a4"/>
<path d="M1173.1 757.1 L1187.1 757.1" stroke="#d4d7e0" stroke-width="0.8" fill="none"/>
<path d="M1173.1 759.5 L1187.1 759.5" stroke="#d4d7e0" stroke-width="0.8" fill="none"/>
<rect x="1173.5" y="767.4" width="13.3" height="1.8" stroke="none" stroke-width="0" fill="#9095a4"/>
<path d="M1173.1 767.1 L1187.1 767.1" stroke="#d4d7e0" stroke-width="0.8" fill="none"/>
<path d="M1173.1 769.6 L1187.1 769.6" stroke="#d4d7e0" stroke-width="0.8" fill="none"/>
<rect x="1173.5" y="777.5" width="13.3" height="1.8" stroke="none" stroke-width="0" fill="#9095a4"/>
<path d="M1173.1 777.2 L1187.1 777.2" stroke="#d4d7e0" stroke-width="0.8" fill="none"/>
<path d="M1173.1 779.6 L1187.1 779.6" stroke="#d4d7e0" stroke-width="0.8" fill="none"/>
<rect x="1173.5" y="787.6" width="13.3" height="1.8" stroke="none" stroke-width="0" fill="#9095a4"/>
<path d="M1173.1 787.3 L1187.1 787.3" stroke="#d4d7e0" stroke-width="0.8" fill="none"/>
<path d="M1173.1 789.7 L1187.1 789.7" stroke="#d4d7e0" stroke-width="0.8" fill="none"/>
<rect x="1173.5" y="797.7" width="13.3" height="1.8" stroke="none" stroke-width="0" fill="#9095a4"/>
<path d="M1173.1 797.4 L1187.1 797.4" stroke="#d4d7e0" stroke-width="0.8" fill="none"/>
<path d="M1173.1 799.8 L1187.1 799.8" stroke="#d4d7e0" stroke-width="0.8" fill="none"/>
<rect x="1173.5" y="807.8" width="13.3" height="1.8" stroke="none" stroke-width="0" fill="#9095a4"/>
<path d="M1173.1 807.5 L1187.1 807.5" stroke="#d4d7e0" stroke-width="0.8" fill="none"/>
<path d="M1173.1 809.9 L1187.1 809.9" stroke="#d4d7e0" stroke-width="0.8" fill="none"/>
<rect x="1173.5" y="817.9" width="13.3" height="1.8" stroke="none" stroke-width="0" fill="#9095a4"/>
<path d="M1173.1 817.6 L1187.1 817.6" stroke="#d4d7e0" stroke-width="0.8" fill="none"/>
<path d="M1173.1 820 L1187.1 820" stroke="#d4d7e0" stroke-width="0.8" fill="none"/>
<rect x="1173.5" y="827.9" width="13.3" height="1.8" stroke="none" stroke-width="0" fill="#9095a4"/>
<path d="M1173.1 827.6 L1187.1 827.6" stroke="#d4d7e0" stroke-width="0.8" fill="none"/>
<path d="M1173.1 830.1 L1187.1 830.1" stroke="#d4d7e0" stroke-width="0.8" fill="none"/>
<rect x="1173.5" y="838" width="13.3" height="1.8" stroke="none" stroke-width="0" fill="#9095a4"/>
<path d="M1173.1 837.7 L1187.1 837.7" stroke="#d4d7e0" stroke-width="0.8" fill="none"/>
<path d="M1173.1 840.1 L1187.1 840.1" stroke="#d4d7e0" stroke-width="0.8" fill="none"/>
<rect x="1173.5" y="848.1" width="13.3" height="1.8" stroke="none" stroke-width="0" fill="#9095a4"/>
<path d="M1173.1 847.8 L1187.1 847.8" stroke="#d4d7e0" stroke-width="0.8" fill="none"/>
<path d="M1173.1 850.2 L1187.1 850.2" stroke="#d4d7e0" stroke-width="0.8" fill="none"/>
<rect x="1173.5" y="858.2" width="13.3" height="1.8" stroke="none" stroke-width="0" fill="#9095a4"/>
<path d="M1173.1 857.9 L1187.1 857.9" stroke="#d4d7e0" stroke-width="0.8" fill="none"/>
<path d="M1173.1 860.3 L1187.1 860.3" stroke="#d4d7e0" stroke-width="0.8" fill="none"/>
<rect x="1173.5" y="868.3" width="13.3" height="1.8" stroke="none" stroke-width="0" fill="#9095a4"/>
<path d="M1173.1 868 L1187.1 868" stroke="#d4d7e0" stroke-width="0.8" fill="none"/>
<path d="M1173.1 870.4 L1187.1 870.4" stroke="#d4d7e0" stroke-width="0.8" fill="none"/>
<rect x="1173.5" y="878.3" width="13.3" height="1.8" stroke="none" stroke-width="0" fill="#9095a4"/>
<path d="M1173.1 878 L1187.1 878" stroke="#d4d7e0" stroke-width="0.8" fill="none"/>
<path d="M1173.1 880.5 L1187.1 880.5" stroke="#d4d7e0" stroke-width="0.8" fill="none"/>
<rect x="1173.5" y="888.4" width="13.3" height="1.8" stroke="none" stroke-width="0" fill="#9095a4"/>
<path d="M1173.1 888.1 L1187.1 888.1" stroke="#d4d7e0" stroke-width="0.8" fill="none"/>
<path d="M1173.1 890.5 L1187.1 890.5" stroke="#d4d7e0" stroke-width="0.8" fill="none"/>
<rect x="1173.5" y="898.5" width="13.3" height="1.8" stroke="none" stroke-width="0" fill="#9095a4"/>
<path d="M1173.1 898.2 L1187.1 898.2" stroke="#d4d7e0" stroke-width="0.8" fill="none"/>
<path d="M1173.1 900.6 L1187.1 900.6" stroke="#d4d7e0" stroke-width="0.8" fill="none"/>
<rect x="1173.5" y="908.6" width="13.3" height="1.8" stroke="none" stroke-width="0" fill="#9095a4"/>
<path d="M1173.1 908.3 L1187.1 908.3" stroke="#d4d7e0" stroke-width="0.8" fill="none"/>
<path d="M1173.1 910.7 L1187.1 910.7" stroke="#d4d7e0" stroke-width="0.8" fill="none"/>
<rect x="1173.5" y="918.7" width="13.3" height="1.8" stroke="none" stroke-width="0" fill="#9095a4"/>
<path d="M1173.1 918.4 L1187.1 918.4" stroke="#d4d7e0" stroke-width="0.8" fill="none"/>
<path d="M1173.1 920.8 L1187.1 920.8" stroke="#d4d7e0" stroke-width="0.8" fill="none"/>
<rect x="1173.5" y="928.7" width="13.3" height="1.8" stroke="none" stroke-width="0" fill="#9095a4"/>
<path d="M1173.1 928.4 L1187.1 928.4" stroke="#d4d7e0" stroke-width="0.8" fill="none"/>
<path d="M1173.1 930.9 L1187.1 930.9" stroke="#d4d7e0" stroke-width="0.8" fill="none"/>
<rect x="1173.5" y="938.8" width="13.3" height="1.8" stroke="none" stroke-width="0" fill="#9095a4"/>
<path d="M1173.1 938.5 L1187.1 938.5" stroke="#d4d7e0" stroke-width="0.8" fill="none"/>
<path d="M1173.1 940.9 L1187.1 940.9" stroke="#d4d7e0" stroke-width="0.8" fill="none"/>
<rect x="1173.5" y="948.9" width="13.3" height="1.8" stroke="none" stroke-width="0" fill="#9095a4"/>
<path d="M1173.1 948.6 L1187.1 948.6" stroke="#d4d7e0" stroke-width="0.8" fill="none"/>
<path d="M1173.1 951 L1187.1 951" stroke="#d4d7e0" stroke-width="0.8" fill="none"/>
<rect x="1173.5" y="959" width="13.3" height="1.8" stroke="none" stroke-width="0" fill="#9095a4"/>
<path d="M1173.1 958.7 L1187.1 958.7" stroke="#d4d7e0" stroke-width="0.8" fill="none"/>
<path d="M1173.1 961.1 L1187.1 961.1" stroke="#d4d7e0" stroke-width="0.8" fill="none"/>
<rect x="1173.5" y="969.1" width="13.3" height="1.8" stroke="none" stroke-width="0" fill="#9095a4"/>
<path d="M1173.1 968.8 L1187.1 968.8" stroke="#d4d7e0" stroke-width="0.8" fill="none"/>
<path d="M1173.1 971.2 L1187.1 971.2" stroke="#d4d7e0" stroke-width="0.8" fill="none"/>
<rect x="1173.5" y="979.2" width="13.3" height="1.8" stroke="none" stroke-width="0" fill="#9095a4"/>
<path d="M1173.1 978.9 L1187.1 978.9" stroke="#d4d7e0" stroke-width="0.8" fill="none"/>
<path d="M1173.1 981.3 L1187.1 981.3" stroke="#d4d7e0" stroke-width="0.8" fill="none"/>
<rect x="1148.1" y="887" width="21.2" height="10.6" stroke="#d4d7e0" stroke-width="1" fill="none"/>
<path d="M1148.1 892.3 L1169.3 892.3" stroke="#d4d7e0" stroke-width="1" fill="none"/>
<path d="M1148.1 887 L1169.3 892.3" stroke="#d4d7e0" stroke-width="1" fill="none"/>
<path d="M1148.1 892.3 L1169.3 887" stroke="#d4d7e0" stroke-width="1" fill="none"/>
<path d="M1148.1 892.3 L1169.3 897.6" stroke="#d4d7e0" stroke-width="1" fill="none"/>
<path d="M1148.1 897.6 L1169.3 892.3" stroke="#d4d7e0" stroke-width="1" fill="none"/>
<rect x="1154.6" y="882.3" width="14.7" height="4.7" stroke="#d4d7e0" stroke-width="1" fill="none"/>
<path d="M1163.1 879.4 L1163.1 921.1 L1156.4 921.1 L1156.4 914.3" stroke="#c4c7d1" stroke-width="2.2" fill="none"/>
<circle cx="1163.1" cy="878.8" r="1.9" stroke="#d4d7e0" stroke-width="0" fill="#d6d8e0"/>
<path d="M1159.3 882.1 L1166.9 882.1" stroke="#d6d8e0" stroke-width="2" fill="none"/>
<rect x="1143.4" y="897.6" width="28.8" height="88.7" stroke="#d4d7e0" stroke-width="1.1" fill="none"/>
<rect x="1143.9" y="898.2" width="4.7" height="87.8" fill="url(#cmu)"/>
<rect x="1167.6" y="898.2" width="4.7" height="87.8" fill="url(#cmu)"/>
<path d="M1149.1 897.6 L1149.1 986.4" stroke="#d4d7e0" stroke-width="1" fill="none"/>
<path d="M1167.3 897.6 L1167.3 986.4" stroke="#d4d7e0" stroke-width="1" fill="none"/>
<path d="M1143.4 925.8 L1172.2 925.8" stroke="#d4d7e0" stroke-width="1" fill="none"/>
<path d="M1143.4 928.8 L1172.2 928.8" stroke="#d4d7e0" stroke-width="1" fill="none"/>
<path d="M1143.4 955.8 L1172.2 955.8" stroke="#d4d7e0" stroke-width="1" fill="none"/>
<path d="M1143.4 958.7 L1172.2 958.7" stroke="#d4d7e0" stroke-width="1" fill="none"/>
<path d="M1155.8 915.2 L1155.8 1034" stroke="#c4c7d1" stroke-width="1.8" fill="none"/>
<rect x="1143.4" y="986.9" width="43.5" height="28.8" stroke="#d4d7e0" stroke-width="1.1" fill="none"/>
<rect x="1143.9" y="987.4" width="4.9" height="28" fill="url(#cmu)"/>
<rect x="1181.9" y="987.4" width="4.9" height="28" fill="url(#cmu)"/>
<path d="M1149.1 986.9 L1149.1 1015.7" stroke="#d4d7e0" stroke-width="1" fill="none"/>
<path d="M1181.6 986.9 L1181.6 1015.7" stroke="#d4d7e0" stroke-width="1" fill="none"/>
<rect x="1112" y="1016.9" width="90.7" height="30" stroke="#d4d7e0" stroke-width="1.3" fill="none"/>
<g fill="#d4d7e0" opacity="0.9"><circle cx="1115.1" cy="1021.8" r="0.7"/><circle cx="1173.4" cy="1022.5" r="0.5"/><circle cx="1134.2" cy="1038.6" r="0.6"/><circle cx="1178.3" cy="1036.1" r="0.6"/><circle cx="1160.5" cy="1030.5" r="0.7"/><circle cx="1200.5" cy="1021.3" r="0.5"/><circle cx="1195.6" cy="1029.4" r="0.6"/><circle cx="1142.7" cy="1028.4" r="1"/><circle cx="1132.3" cy="1024.5" r="0.8"/><circle cx="1161.5" cy="1043.7" r="0.9"/><circle cx="1144.9" cy="1024.2" r="0.9"/><circle cx="1199.8" cy="1019.7" r="0.9"/><circle cx="1189.4" cy="1035.8" r="0.6"/><circle cx="1183.1" cy="1037.9" r="0.6"/><circle cx="1169.6" cy="1024.6" r="0.5"/><circle cx="1143.2" cy="1027.6" r="0.7"/><circle cx="1170.1" cy="1040.6" r="1"/><circle cx="1198.7" cy="1044.7" r="0.9"/><circle cx="1140.6" cy="1023.5" r="0.8"/><circle cx="1161.4" cy="1036.4" r="0.5"/><circle cx="1130.8" cy="1042.8" r="0.8"/><circle cx="1174.4" cy="1021.4" r="0.7"/></g>
<path d="M1122.9 1036.3 L1122.3 1034.5 L1191.6 1034.5 L1188.1 1038.7" stroke="#c4c7d1" stroke-width="2" fill="none"/>
<rect x="1156.4" y="1031" width="11.8" height="2.9" stroke="none" stroke-width="0" fill="#c4c7d1"/>
<path d="M1051.8 971.7 L1142.3 971.7" stroke="#d4d7e0" stroke-width="1.3" fill="none"/>
<path d="M1142.3 971.7 L1142.3 986.4" stroke="#d4d7e0" stroke-width="1" fill="none"/>
<g fill="#d4d7e0" opacity="0.9"><circle cx="1103.1" cy="980.1" r="0.9"/><circle cx="1077.7" cy="980.3" r="1"/><circle cx="1132.4" cy="976" r="0.8"/><circle cx="1107.1" cy="978.9" r="1"/><circle cx="1099.5" cy="978.4" r="1"/><circle cx="1108.7" cy="977" r="0.7"/><circle cx="1096.7" cy="974.7" r="0.8"/><circle cx="1117.4" cy="978.2" r="1"/><circle cx="1134" cy="979.4" r="0.9"/><circle cx="1063.9" cy="974.8" r="1"/><circle cx="1078.4" cy="976.2" r="1"/><circle cx="1118.6" cy="975.4" r="0.7"/><circle cx="1074.7" cy="976.8" r="0.5"/><circle cx="1099.1" cy="977.1" r="0.7"/><circle cx="1069.8" cy="975.3" r="0.5"/><circle cx="1129.2" cy="981.2" r="0.8"/></g>
<rect x="1051.2" y="986.4" width="92" height="15.3" fill="#a9adb9"/>
<rect x="1051.2" y="986.4" width="92" height="15.3" fill="url(#gdots)"/>
<path d="M1187.2 980.1 L1262.1 982.2 L1277.4 984 L1277.4 997.5 L1187.2 996.9 Z" fill="url(#bw)"/>
<path d="M1186.9 979.3 L1262.1 981.7" stroke="#d4d7e0" stroke-width="1" fill="none"/>
<text x="965.7" y="739.1" font-size="8.4" fill="#eceef4" textLength="46.7" lengthAdjust="spacingAndGlyphs">WALL STUDS</text>
<path d="M1027.5 735.6 L1127 735.6 L1153.5 742.5" stroke="#d4d7e0" stroke-width="1" fill="none"/>
<path d="M1153.5 742.5 L1146 741.8 L1146.6 739.4 Z" fill="#d4d7e0" stroke="none"/>
<text x="965.2" y="759.5" font-size="8.4" fill="#eceef4" textLength="98.7" lengthAdjust="spacingAndGlyphs">½" GYPSUM WALL BOARD</text>
<path d="M1084.6 756.3 L1120.4 756.3 L1153 790.3" stroke="#d4d7e0" stroke-width="1" fill="none"/>
<path d="M1153 790.3 L1146.9 785.7 L1148.7 784 Z" fill="#d4d7e0" stroke="none"/>
<text x="965.7" y="822.6" font-size="8.4" fill="#eceef4" textLength="125.5" lengthAdjust="spacingAndGlyphs">OPTIONAL ADDITIONAL BOTTOM</text>
<text x="965.7" y="831.9" font-size="8.4" fill="#eceef4" textLength="24.7" lengthAdjust="spacingAndGlyphs">PLATE</text>
<path d="M1090.7 819.4 L1107.1 819.4 L1155.4 881.5" stroke="#d4d7e0" stroke-width="1" fill="none"/>
<path d="M1155.4 881.5 L1149.8 876.4 L1151.8 874.8 Z" fill="#d4d7e0" stroke="none"/>
<text x="965.2" y="905.4" font-size="8.4" fill="#eceef4" textLength="86.7" lengthAdjust="spacingAndGlyphs">½" DIAMETER ANCHOR</text>
<text x="965.2" y="914.5" font-size="8.4" fill="#eceef4" textLength="78.2" lengthAdjust="spacingAndGlyphs">BOLTS WITH 2"x2"x⅛"</text>
<text x="965.2" y="923.6" font-size="8.4" fill="#eceef4" textLength="92.3" lengthAdjust="spacingAndGlyphs">WASHERS @ 18" OC PER</text>
<text x="965.2" y="932.7" font-size="8.4" fill="#eceef4" textLength="58.9" lengthAdjust="spacingAndGlyphs">TABLE R4504.1</text>
<path d="M1069.2 901.4 L1120.4 901.4 L1158 909.4" stroke="#d4d7e0" stroke-width="1" fill="none"/>
<path d="M1158 909.4 L1150.4 909 L1151 906.6 Z" fill="#d4d7e0" stroke="none"/>
<text x="1254.9" y="720.5" font-size="8.4" fill="#eceef4" textLength="59.2" lengthAdjust="spacingAndGlyphs">BRICK VENEER</text>
<path d="M1250.3 717.9 L1227.8 717.9 L1188 753.1" stroke="#d4d7e0" stroke-width="1" fill="none"/>
<path d="M1188 753.1 L1192.8 747.2 L1194.5 749.1 Z" fill="#d4d7e0" stroke="none"/>
<text x="1253.5" y="759" font-size="8.4" fill="#eceef4" textLength="116.2" lengthAdjust="spacingAndGlyphs">⅜" WOOD STRUCTURAL PANEL</text>
<text x="1253.5" y="768.1" font-size="8.4" fill="#eceef4" textLength="132.9" lengthAdjust="spacingAndGlyphs">SHEATHING. FASTEN WITH 8d NAILS</text>
<text x="1253.5" y="777.3" font-size="8.4" fill="#eceef4" textLength="141.4" lengthAdjust="spacingAndGlyphs">AT 3" ALONG PANEL EDGES AND 6"</text>
<text x="1253.5" y="786.4" font-size="8.4" fill="#eceef4" textLength="113.5" lengthAdjust="spacingAndGlyphs">AT INTERMEDIATE SUPPORTS.</text>
<text x="1253.5" y="795.6" font-size="8.4" fill="#eceef4" textLength="106.4" lengthAdjust="spacingAndGlyphs">BLOCK ALL PANEL EDGES.</text>
<path d="M1249 756.3 L1221.2 756.3 L1173.4 788.1" stroke="#d4d7e0" stroke-width="1" fill="none"/>
<path d="M1173.4 788.1 L1179 782.9 L1180.4 785 Z" fill="#d4d7e0" stroke="none"/>
<text x="1253.5" y="849.9" font-size="8.4" fill="#eceef4" textLength="143.5" lengthAdjust="spacingAndGlyphs">(2)2x6 TREATED SILL PLATE WITH (2)</text>
<text x="1253.5" y="859.2" font-size="8.4" fill="#eceef4" textLength="110.9" lengthAdjust="spacingAndGlyphs">ROWS OF 8d NAILS AT 3" OC</text>
<text x="1253.5" y="868.5" font-size="8.4" fill="#eceef4" textLength="140.1" lengthAdjust="spacingAndGlyphs">(STAGGERED) PER FIGURE R4508.4.</text>
<path d="M1245.6 847.3 L1223.8 847.3 L1170.2 892.1" stroke="#d4d7e0" stroke-width="1" fill="none"/>
<path d="M1170.2 892.1 L1175.2 886.4 L1176.8 888.3 Z" fill="#d4d7e0" stroke="none"/>
<text x="1253.5" y="922.9" font-size="8.4" fill="#eceef4" textLength="133.4" lengthAdjust="spacingAndGlyphs">8"x8" BOND BEAM WITH (1) #5 BAR</text>
<text x="1253.5" y="932.2" font-size="8.4" fill="#eceef4" textLength="53.1" lengthAdjust="spacingAndGlyphs">PER R4504.1.2</text>
<path d="M1247.7 920.2 L1221.2 920.2 L1170.8 911.5" stroke="#d4d7e0" stroke-width="1" fill="none"/>
<path d="M1170.8 911.5 L1178.4 911.5 L1177.9 914 Z" fill="#d4d7e0" stroke="none"/>
<text x="1253.5" y="949.9" font-size="8.4" fill="#eceef4" textLength="102.9" lengthAdjust="spacingAndGlyphs">8" CMU FILLED SOLID AND</text>
<text x="1253.5" y="959.2" font-size="8.4" fill="#eceef4" textLength="142.7" lengthAdjust="spacingAndGlyphs">REINFORCED WITH #5 VERTICAL BAR</text>
<text x="1253.5" y="968.5" font-size="8.4" fill="#eceef4" textLength="133.4" lengthAdjust="spacingAndGlyphs">@ 8'-0" OC PER SECTION R4504.1.1</text>
<path d="M1247.7 956 L1218.5 956 L1158.8 940.7" stroke="#d4d7e0" stroke-width="1" fill="none"/>
<path d="M1158.8 940.7 L1166.4 941.3 L1165.8 943.7 Z" fill="#d4d7e0" stroke="none"/>
<text x="1250.9" y="1014.9" font-size="8.4" fill="#eceef4" textLength="26.8" lengthAdjust="spacingAndGlyphs">12" CMU</text>
<path d="M1247.7 1011.8 L1221.2 1011.8 L1173.4 1003" stroke="#d4d7e0" stroke-width="1" fill="none"/>
<path d="M1173.4 1003 L1181 1003.1 L1180.6 1005.6 Z" fill="#d4d7e0" stroke="none"/>
<text x="1253.5" y="1031.6" font-size="8.4" fill="#eceef4" textLength="141.4" lengthAdjust="spacingAndGlyphs">MIN. 24"x8" CONCRETE FOOTING WITH</text>
<text x="1253.5" y="1040.9" font-size="8.4" fill="#eceef4" textLength="100.3" lengthAdjust="spacingAndGlyphs">(3) #4 BAR OR (2) #5 BAR</text>
<text x="1253.5" y="1050.2" font-size="8.4" fill="#eceef4" textLength="143.2" lengthAdjust="spacingAndGlyphs">CONTINUOUS PER R4503.1. INSTALL #4</text>
<text x="1253.5" y="1059.5" font-size="8.4" fill="#eceef4" textLength="56" lengthAdjust="spacingAndGlyphs">TIES @ 48" OC.</text>
<path d="M1249 1040.1 L1234.4 1040.1 L1203.9 1033.5" stroke="#d4d7e0" stroke-width="1" fill="none"/>
<path d="M1203.9 1033.5 L1211.5 1033.9 L1211 1036.3 Z" fill="#d4d7e0" stroke="none"/>
<circle cx="1052.5" cy="1101.1" r="10.1" stroke="#d4d7e0" stroke-width="1.2" fill="none"/>
<text x="1048.8" y="1104.9" font-size="12.5" fill="#eceef4" textLength="8" lengthAdjust="spacingAndGlyphs">B</text>
<text x="1065.5" y="1100.6" font-size="13.5" fill="#eceef4" textLength="275.1" lengthAdjust="spacingAndGlyphs" style="stroke:none">FOUNDATION WALL SECTION WITH BRICK</text>
<path d="M1065.5 1103 L1341.3 1103" stroke="#d4d7e0" stroke-width="1.1" fill="none"/>
<text x="1065.5" y="1111.8" font-size="7.9" fill="#eceef4" textLength="90.7" lengthAdjust="spacingAndGlyphs">GARAGE WITH BRICK</text>
<path d="M1798.1 727.1 L1798.1 844.7" stroke="#d4d7e0" stroke-width="1" fill="none"/>
<path d="M1800.5 727.1 L1800.5 844.7" stroke="#d4d7e0" stroke-width="1" fill="none"/>
<rect x="1798.1" y="844.7" width="15.3" height="5.3" stroke="#d4d7e0" stroke-width="1" fill="none"/>
<path d="M1798.1 844.7 L1813.4 850" stroke="#d4d7e0" stroke-width="1" fill="none"/>
<path d="M1798.1 850 L1813.4 844.7" stroke="#d4d7e0" stroke-width="1" fill="none"/>
<path d="M1813.4 727.1 L1813.4 899.3" stroke="#d4d7e0" stroke-width="1" fill="none"/>
<path d="M1816.3 727.1 L1816.3 899.3" stroke="#d4d7e0" stroke-width="1" fill="none"/>
<rect x="1813.6" y="727.1" width="2.6" height="172.2" fill="url(#cmu)" opacity="0.8"/>
<path d="M1817.5 727.9 L1817.5 981.6" stroke="#d4d7e0" stroke-width="1" fill="none"/>
<path d="M1830.4 727.9 L1830.4 981.6" stroke="#d4d7e0" stroke-width="1" fill="none"/>
<path d="M1817.5 727.9 L1830.4 727.9" stroke="#d4d7e0" stroke-width="1" fill="none"/>
<rect x="1818" y="735.4" width="12" height="1.8" stroke="none" stroke-width="0" fill="#9095a4"/>
<path d="M1817.5 735.1 L1830.4 735.1" stroke="#d4d7e0" stroke-width="0.8" fill="none"/>
<path d="M1817.5 737.5 L1830.4 737.5" stroke="#d4d7e0" stroke-width="0.8" fill="none"/>
<rect x="1818" y="745.5" width="12" height="1.8" stroke="none" stroke-width="0" fill="#9095a4"/>
<path d="M1817.5 745.2 L1830.4 745.2" stroke="#d4d7e0" stroke-width="0.8" fill="none"/>
<path d="M1817.5 747.6 L1830.4 747.6" stroke="#d4d7e0" stroke-width="0.8" fill="none"/>
<rect x="1818" y="755.6" width="12" height="1.8" stroke="none" stroke-width="0" fill="#9095a4"/>
<path d="M1817.5 755.3 L1830.4 755.3" stroke="#d4d7e0" stroke-width="0.8" fill="none"/>
<path d="M1817.5 757.7 L1830.4 757.7" stroke="#d4d7e0" stroke-width="0.8" fill="none"/>
<rect x="1818" y="765.6" width="12" height="1.8" stroke="none" stroke-width="0" fill="#9095a4"/>
<path d="M1817.5 765.3 L1830.4 765.3" stroke="#d4d7e0" stroke-width="0.8" fill="none"/>
<path d="M1817.5 767.8 L1830.4 767.8" stroke="#d4d7e0" stroke-width="0.8" fill="none"/>
<rect x="1818" y="775.7" width="12" height="1.8" stroke="none" stroke-width="0" fill="#9095a4"/>
<path d="M1817.5 775.4 L1830.4 775.4" stroke="#d4d7e0" stroke-width="0.8" fill="none"/>
<path d="M1817.5 777.8 L1830.4 777.8" stroke="#d4d7e0" stroke-width="0.8" fill="none"/>
<rect x="1818" y="785.8" width="12" height="1.8" stroke="none" stroke-width="0" fill="#9095a4"/>
<path d="M1817.5 785.5 L1830.4 785.5" stroke="#d4d7e0" stroke-width="0.8" fill="none"/>
<path d="M1817.5 787.9 L1830.4 787.9" stroke="#d4d7e0" stroke-width="0.8" fill="none"/>
<rect x="1818" y="795.9" width="12" height="1.8" stroke="none" stroke-width="0" fill="#9095a4"/>
<path d="M1817.5 795.6 L1830.4 795.6" stroke="#d4d7e0" stroke-width="0.8" fill="none"/>
<path d="M1817.5 798 L1830.4 798" stroke="#d4d7e0" stroke-width="0.8" fill="none"/>
<rect x="1818" y="805.9" width="12" height="1.8" stroke="none" stroke-width="0" fill="#9095a4"/>
<path d="M1817.5 805.6 L1830.4 805.6" stroke="#d4d7e0" stroke-width="0.8" fill="none"/>
<path d="M1817.5 808 L1830.4 808" stroke="#d4d7e0" stroke-width="0.8" fill="none"/>
<rect x="1818" y="816" width="12" height="1.8" stroke="none" stroke-width="0" fill="#9095a4"/>
<path d="M1817.5 815.7 L1830.4 815.7" stroke="#d4d7e0" stroke-width="0.8" fill="none"/>
<path d="M1817.5 818.1 L1830.4 818.1" stroke="#d4d7e0" stroke-width="0.8" fill="none"/>
<rect x="1818" y="826.1" width="12" height="1.8" stroke="none" stroke-width="0" fill="#9095a4"/>
<path d="M1817.5 825.8 L1830.4 825.8" stroke="#d4d7e0" stroke-width="0.8" fill="none"/>
<path d="M1817.5 828.2 L1830.4 828.2" stroke="#d4d7e0" stroke-width="0.8" fill="none"/>
<rect x="1818" y="836.1" width="12" height="1.8" stroke="none" stroke-width="0" fill="#9095a4"/>
<path d="M1817.5 835.8 L1830.4 835.8" stroke="#d4d7e0" stroke-width="0.8" fill="none"/>
<path d="M1817.5 838.3 L1830.4 838.3" stroke="#d4d7e0" stroke-width="0.8" fill="none"/>
<rect x="1818" y="846.2" width="12" height="1.8" stroke="none" stroke-width="0" fill="#9095a4"/>
<path d="M1817.5 845.9 L1830.4 845.9" stroke="#d4d7e0" stroke-width="0.8" fill="none"/>
<path d="M1817.5 848.3 L1830.4 848.3" stroke="#d4d7e0" stroke-width="0.8" fill="none"/>
<rect x="1818" y="856.3" width="12" height="1.8" stroke="none" stroke-width="0" fill="#9095a4"/>
<path d="M1817.5 856 L1830.4 856" stroke="#d4d7e0" stroke-width="0.8" fill="none"/>
<path d="M1817.5 858.4 L1830.4 858.4" stroke="#d4d7e0" stroke-width="0.8" fill="none"/>
<rect x="1818" y="866.4" width="12" height="1.8" stroke="none" stroke-width="0" fill="#9095a4"/>
<path d="M1817.5 866.1 L1830.4 866.1" stroke="#d4d7e0" stroke-width="0.8" fill="none"/>
<path d="M1817.5 868.5 L1830.4 868.5" stroke="#d4d7e0" stroke-width="0.8" fill="none"/>
<rect x="1818" y="876.4" width="12" height="1.8" stroke="none" stroke-width="0" fill="#9095a4"/>
<path d="M1817.5 876.1 L1830.4 876.1" stroke="#d4d7e0" stroke-width="0.8" fill="none"/>
<path d="M1817.5 878.6 L1830.4 878.6" stroke="#d4d7e0" stroke-width="0.8" fill="none"/>
<rect x="1818" y="886.5" width="12" height="1.8" stroke="none" stroke-width="0" fill="#9095a4"/>
<path d="M1817.5 886.2 L1830.4 886.2" stroke="#d4d7e0" stroke-width="0.8" fill="none"/>
<path d="M1817.5 888.6 L1830.4 888.6" stroke="#d4d7e0" stroke-width="0.8" fill="none"/>
<rect x="1818" y="896.6" width="12" height="1.8" stroke="none" stroke-width="0" fill="#9095a4"/>
<path d="M1817.5 896.3 L1830.4 896.3" stroke="#d4d7e0" stroke-width="0.8" fill="none"/>
<path d="M1817.5 898.7 L1830.4 898.7" stroke="#d4d7e0" stroke-width="0.8" fill="none"/>
<rect x="1818" y="906.7" width="12" height="1.8" stroke="none" stroke-width="0" fill="#9095a4"/>
<path d="M1817.5 906.4 L1830.4 906.4" stroke="#d4d7e0" stroke-width="0.8" fill="none"/>
<path d="M1817.5 908.8 L1830.4 908.8" stroke="#d4d7e0" stroke-width="0.8" fill="none"/>
<rect x="1818" y="916.7" width="12" height="1.8" stroke="none" stroke-width="0" fill="#9095a4"/>
<path d="M1817.5 916.4 L1830.4 916.4" stroke="#d4d7e0" stroke-width="0.8" fill="none"/>
<path d="M1817.5 918.8 L1830.4 918.8" stroke="#d4d7e0" stroke-width="0.8" fill="none"/>
<rect x="1818" y="926.8" width="12" height="1.8" stroke="none" stroke-width="0" fill="#9095a4"/>
<path d="M1817.5 926.5 L1830.4 926.5" stroke="#d4d7e0" stroke-width="0.8" fill="none"/>
<path d="M1817.5 928.9 L1830.4 928.9" stroke="#d4d7e0" stroke-width="0.8" fill="none"/>
<rect x="1818" y="936.9" width="12" height="1.8" stroke="none" stroke-width="0" fill="#9095a4"/>
<path d="M1817.5 936.6 L1830.4 936.6" stroke="#d4d7e0" stroke-width="0.8" fill="none"/>
<path d="M1817.5 939 L1830.4 939" stroke="#d4d7e0" stroke-width="0.8" fill="none"/>
<rect x="1818" y="946.9" width="12" height="1.8" stroke="none" stroke-width="0" fill="#9095a4"/>
<path d="M1817.5 946.6 L1830.4 946.6" stroke="#d4d7e0" stroke-width="0.8" fill="none"/>
<path d="M1817.5 949.1 L1830.4 949.1" stroke="#d4d7e0" stroke-width="0.8" fill="none"/>
<rect x="1818" y="957" width="12" height="1.8" stroke="none" stroke-width="0" fill="#9095a4"/>
<path d="M1817.5 956.7 L1830.4 956.7" stroke="#d4d7e0" stroke-width="0.8" fill="none"/>
<path d="M1817.5 959.1 L1830.4 959.1" stroke="#d4d7e0" stroke-width="0.8" fill="none"/>
<rect x="1818" y="967.1" width="12" height="1.8" stroke="none" stroke-width="0" fill="#9095a4"/>
<path d="M1817.5 966.8 L1830.4 966.8" stroke="#d4d7e0" stroke-width="0.8" fill="none"/>
<path d="M1817.5 969.2 L1830.4 969.2" stroke="#d4d7e0" stroke-width="0.8" fill="none"/>
<rect x="1818" y="977.2" width="12" height="1.8" stroke="none" stroke-width="0" fill="#9095a4"/>
<path d="M1817.5 976.9 L1830.4 976.9" stroke="#d4d7e0" stroke-width="0.8" fill="none"/>
<path d="M1817.5 979.3 L1830.4 979.3" stroke="#d4d7e0" stroke-width="0.8" fill="none"/>
<rect x="1698.2" y="850.5" width="115.2" height="3.5" fill="#9da1ae"/>
<path d="M1698.2 850.2 L1813.4 850.2" stroke="#d4d7e0" stroke-width="1" fill="none"/>
<path d="M1698.2 854.2 L1807.5 854.2" stroke="#d4d7e0" stroke-width="1" fill="none"/>
<rect x="1807.5" y="854.2" width="5.9" height="33.4" stroke="#d4d7e0" stroke-width="1" fill="none"/>
<path d="M1807.5 854.2 L1813.4 887.6" stroke="#d4d7e0" stroke-width="1" fill="none"/>
<path d="M1807.5 887.6 L1813.4 854.2" stroke="#d4d7e0" stroke-width="1" fill="none"/>
<path d="M1698.2 888.2 L1792.2 888.2" stroke="#d4d7e0" stroke-width="1.2" fill="none"/>
<rect x="1792.2" y="887.6" width="21.2" height="11.8" stroke="#d4d7e0" stroke-width="1" fill="none"/>
<path d="M1792.2 893.5 L1813.4 893.5" stroke="#d4d7e0" stroke-width="1" fill="none"/>
<path d="M1792.2 887.6 L1813.4 893.5" stroke="#d4d7e0" stroke-width="1" fill="none"/>
<path d="M1792.2 893.5 L1813.4 887.6" stroke="#d4d7e0" stroke-width="1" fill="none"/>
<path d="M1792.2 893.5 L1813.4 899.3" stroke="#d4d7e0" stroke-width="1" fill="none"/>
<path d="M1792.2 899.3 L1813.4 893.5" stroke="#d4d7e0" stroke-width="1" fill="none"/>
<path d="M1803.2 886.4 L1803.2 924 L1798.9 924 L1798.9 914.9" stroke="#c4c7d1" stroke-width="2.2" fill="none"/>
<circle cx="1803.2" cy="885.5" r="1.9" stroke="#d4d7e0" stroke-width="0" fill="#d6d8e0"/>
<path d="M1799.7 888.4 L1806.9 888.4" stroke="#d6d8e0" stroke-width="2" fill="none"/>
<rect x="1787.2" y="899.3" width="29.1" height="88.2" stroke="#d4d7e0" stroke-width="1.1" fill="none"/>
<rect x="1787.5" y="899.8" width="4.7" height="87.4" fill="url(#cmu)"/>
<rect x="1811.4" y="899.8" width="4.7" height="87.4" fill="url(#cmu)"/>
<path d="M1792.5 899.3 L1792.5 987.5" stroke="#d4d7e0" stroke-width="1" fill="none"/>
<path d="M1811.1 899.3 L1811.1 987.5" stroke="#d4d7e0" stroke-width="1" fill="none"/>
<path d="M1787.2 927 L1816.3 927" stroke="#d4d7e0" stroke-width="1" fill="none"/>
<path d="M1787.2 929.3 L1816.3 929.3" stroke="#d4d7e0" stroke-width="1" fill="none"/>
<path d="M1787.2 957.5 L1816.3 957.5" stroke="#d4d7e0" stroke-width="1" fill="none"/>
<path d="M1787.2 959.9 L1816.3 959.9" stroke="#d4d7e0" stroke-width="1" fill="none"/>
<path d="M1787.2 986.9 L1816.3 986.9" stroke="#d4d7e0" stroke-width="1" fill="none"/>
<path d="M1787.2 989.3 L1816.3 989.3" stroke="#d4d7e0" stroke-width="1" fill="none"/>
<path d="M1799.3 924 L1799.3 1036.2" stroke="#c4c7d1" stroke-width="1.8" fill="none"/>
<rect x="1787.2" y="989.3" width="43.3" height="28.6" stroke="#d4d7e0" stroke-width="1.1" fill="none"/>
<rect x="1787.5" y="989.6" width="4.5" height="28" fill="url(#cmu)"/>
<rect x="1826" y="989.6" width="4.5" height="28" fill="url(#cmu)"/>
<path d="M1792.5 989.3 L1792.5 1017.8" stroke="#d4d7e0" stroke-width="1" fill="none"/>
<path d="M1825.7 989.3 L1825.7 1017.8" stroke="#d4d7e0" stroke-width="1" fill="none"/>
<rect x="1763.6" y="1018.4" width="90.2" height="30.2" stroke="#d4d7e0" stroke-width="1.3" fill="none"/>
<g fill="#d4d7e0" opacity="0.9"><circle cx="1798.4" cy="1026.4" r="0.6"/><circle cx="1844.3" cy="1035.5" r="0.9"/><circle cx="1813.2" cy="1030.4" r="0.9"/><circle cx="1815.2" cy="1040.9" r="0.9"/><circle cx="1837.9" cy="1031.9" r="0.6"/><circle cx="1778.5" cy="1039.4" r="0.6"/><circle cx="1822" cy="1036.7" r="0.5"/><circle cx="1833.2" cy="1021.2" r="1"/><circle cx="1838" cy="1026" r="0.9"/><circle cx="1828.7" cy="1023.7" r="0.9"/><circle cx="1776.2" cy="1044.3" r="0.9"/><circle cx="1850" cy="1021.8" r="0.7"/><circle cx="1819" cy="1036.3" r="0.6"/><circle cx="1842.1" cy="1042.6" r="0.6"/><circle cx="1778.1" cy="1037.9" r="0.7"/><circle cx="1822.7" cy="1033.3" r="0.7"/><circle cx="1767.4" cy="1023.9" r="0.7"/><circle cx="1828.3" cy="1031.6" r="0.9"/><circle cx="1812.1" cy="1043.5" r="0.8"/><circle cx="1793.3" cy="1024" r="0.5"/><circle cx="1769" cy="1043" r="1"/><circle cx="1830.3" cy="1023.3" r="0.8"/></g>
<path d="M1775.5 1039.6 L1775 1036.2 L1845.3 1036.2 L1841.3 1040.7" stroke="#c4c7d1" stroke-width="2" fill="none"/>
<rect x="1801.5" y="1032.7" width="11.9" height="2.9" stroke="none" stroke-width="0" fill="#c4c7d1"/>
<rect x="1700.6" y="982" width="86.6" height="15.5" fill="url(#bw)"/>
<path d="M1700.6 981.6 L1787.2 981.6" stroke="#d4d7e0" stroke-width="1" fill="none"/>
<rect x="1830.4" y="982" width="89.9" height="15.5" fill="url(#bw)"/>
<path d="M1830.4 981.6 L1920.4 981.6" stroke="#d4d7e0" stroke-width="1" fill="none"/>
<text x="1607.3" y="740.4" font-size="8.4" fill="#eceef4" textLength="47.5" lengthAdjust="spacingAndGlyphs">WALL STUDS</text>
<path d="M1668.9 736.9 L1768.9 736.9 L1797 744.4" stroke="#d4d7e0" stroke-width="1" fill="none"/>
<path d="M1797 744.4 L1789.4 743.7 L1790 741.3 Z" fill="#d4d7e0" stroke="none"/>
<text x="1607.3" y="760.8" font-size="8.4" fill="#eceef4" textLength="98.1" lengthAdjust="spacingAndGlyphs">½" GYPSUM WALL BOARD</text>
<path d="M1726.4 757.6 L1761.7 757.6 L1797 788.1" stroke="#d4d7e0" stroke-width="1" fill="none"/>
<path d="M1797 788.1 L1790.5 784.2 L1792.1 782.3 Z" fill="#d4d7e0" stroke="none"/>
<text x="1607.3" y="796.1" font-size="8.4" fill="#eceef4" textLength="71.4" lengthAdjust="spacingAndGlyphs">FLOOR SHEATHING</text>
<path d="M1696.2 792.9 L1752.4 792.9 L1790.1 849.2" stroke="#d4d7e0" stroke-width="1" fill="none"/>
<path d="M1790.1 849.2 L1784.9 843.6 L1786.9 842.2 Z" fill="#d4d7e0" stroke="none"/>
<text x="1607.3" y="824" font-size="8.4" fill="#eceef4" textLength="131.8" lengthAdjust="spacingAndGlyphs">FLOOR SYSTEM WITH SOLID BAND</text>
<text x="1607.3" y="833.2" font-size="8.4" fill="#eceef4" textLength="38.2" lengthAdjust="spacingAndGlyphs">MATERIAL</text>
<path d="M1738.6 820.5 L1748.4 820.5 L1788.2 870.4" stroke="#d4d7e0" stroke-width="1" fill="none"/>
<path d="M1788.2 870.4 L1782.6 865.3 L1784.5 863.7 Z" fill="#d4d7e0" stroke="none"/>
<text x="1608.4" y="906.7" font-size="8.4" fill="#eceef4" textLength="87.5" lengthAdjust="spacingAndGlyphs">½" DIAMETER ANCHOR</text>
<text x="1608.4" y="915.8" font-size="8.4" fill="#eceef4" textLength="79" lengthAdjust="spacingAndGlyphs">BOLTS WITH 2"x2"x⅛"</text>
<text x="1608.4" y="924.9" font-size="8.4" fill="#eceef4" textLength="92.8" lengthAdjust="spacingAndGlyphs">WASHERS @ 18" OC PER</text>
<text x="1608.4" y="934" font-size="8.4" fill="#eceef4" textLength="59.2" lengthAdjust="spacingAndGlyphs">TABLE R4504.1</text>
<path d="M1713.2 902.2 L1763 902.2 L1801 910.7" stroke="#d4d7e0" stroke-width="1" fill="none"/>
<path d="M1801 910.7 L1793.4 910.3 L1793.9 907.8 Z" fill="#d4d7e0" stroke="none"/>
<text x="1897" y="720.5" font-size="8.4" fill="#eceef4" textLength="59.2" lengthAdjust="spacingAndGlyphs">BRICK VENEER</text>
<path d="M1893 717.9 L1869.7 717.9 L1831.5 753.1" stroke="#d4d7e0" stroke-width="1" fill="none"/>
<path d="M1831.5 753.1 L1836.1 747.1 L1837.8 749 Z" fill="#d4d7e0" stroke="none"/>
<text x="1897" y="760.3" font-size="8.4" fill="#eceef4" textLength="116.7" lengthAdjust="spacingAndGlyphs">⅜" WOOD STRUCTURAL PANEL</text>
<text x="1897" y="769.4" font-size="8.4" fill="#eceef4" textLength="133.4" lengthAdjust="spacingAndGlyphs">SHEATHING. FASTEN WITH 8d NAILS</text>
<text x="1897" y="778.6" font-size="8.4" fill="#eceef4" textLength="141.9" lengthAdjust="spacingAndGlyphs">AT 3" ALONG PANEL EDGES AND 6"</text>
<text x="1897" y="787.7" font-size="8.4" fill="#eceef4" textLength="114.1" lengthAdjust="spacingAndGlyphs">AT INTERMEDIATE SUPPORTS.</text>
<text x="1897" y="796.9" font-size="8.4" fill="#eceef4" textLength="106.9" lengthAdjust="spacingAndGlyphs">BLOCK ALL PANEL EDGES.</text>
<path d="M1893 757.1 L1865.1 757.1 L1816.9 789.5" stroke="#d4d7e0" stroke-width="1" fill="none"/>
<path d="M1816.9 789.5 L1822.4 784.3 L1823.8 786.3 Z" fill="#d4d7e0" stroke="none"/>
<text x="1897" y="851.3" font-size="8.4" fill="#eceef4" textLength="144" lengthAdjust="spacingAndGlyphs">(2)2x6 TREATED SILL PLATE WITH (2)</text>
<text x="1897" y="860.6" font-size="8.4" fill="#eceef4" textLength="111.4" lengthAdjust="spacingAndGlyphs">ROWS OF 8d NAILS AT 3" OC</text>
<text x="1897" y="869.8" font-size="8.4" fill="#eceef4" textLength="140.6" lengthAdjust="spacingAndGlyphs">(STAGGERED) PER FIGURE R4508.4.</text>
<path d="M1889.5 848.6 L1867.8 848.6 L1814.7 893.7" stroke="#d4d7e0" stroke-width="1" fill="none"/>
<path d="M1814.7 893.7 L1819.7 887.9 L1821.3 889.8 Z" fill="#d4d7e0" stroke="none"/>
<text x="1897" y="924.2" font-size="8.4" fill="#eceef4" textLength="134" lengthAdjust="spacingAndGlyphs">8"x8" BOND BEAM WITH (1) #5 BAR</text>
<text x="1897" y="933.5" font-size="8.4" fill="#eceef4" textLength="53.6" lengthAdjust="spacingAndGlyphs">PER R4504.1.2</text>
<path d="M1891.7 921.6 L1863.8 921.6 L1814.7 912.8" stroke="#d4d7e0" stroke-width="1" fill="none"/>
<path d="M1814.7 912.8 L1822.4 912.9 L1821.9 915.4 Z" fill="#d4d7e0" stroke="none"/>
<text x="1897" y="951.3" font-size="8.4" fill="#eceef4" textLength="103.4" lengthAdjust="spacingAndGlyphs">8" CMU FILLED SOLID AND</text>
<text x="1897" y="960.6" font-size="8.4" fill="#eceef4" textLength="143.2" lengthAdjust="spacingAndGlyphs">REINFORCED WITH #5 VERTICAL BAR</text>
<text x="1897" y="969.8" font-size="8.4" fill="#eceef4" textLength="134" lengthAdjust="spacingAndGlyphs">@ 8'-0" OC PER SECTION R4504.1.1</text>
<path d="M1893 957.4 L1862.5 957.4 L1802.3 942.5" stroke="#d4d7e0" stroke-width="1" fill="none"/>
<path d="M1802.3 942.5 L1809.9 943.1 L1809.3 945.5 Z" fill="#d4d7e0" stroke="none"/>
<text x="1897" y="1012.8" font-size="8.4" fill="#eceef4" textLength="27.1" lengthAdjust="spacingAndGlyphs">12" CMU</text>
<path d="M1893.8 1010.2 L1862.5 1010.2 L1832 1001.7" stroke="#d4d7e0" stroke-width="1" fill="none"/>
<path d="M1832 1001.7 L1839.5 1002.5 L1838.9 1004.9 Z" fill="#d4d7e0" stroke="none"/>
<text x="1897" y="1044.1" font-size="8.4" fill="#eceef4" textLength="141.9" lengthAdjust="spacingAndGlyphs">MIN. 24"x8" CONCRETE FOOTING WITH</text>
<text x="1897" y="1053.4" font-size="8.4" fill="#eceef4" textLength="144" lengthAdjust="spacingAndGlyphs">(3)#4 BAR OR (2)#5 BAR CONTINUOUS</text>
<text x="1897" y="1062.7" font-size="8.4" fill="#eceef4" textLength="137.9" lengthAdjust="spacingAndGlyphs">PER R4503.1. INSTALL #4 TIES @ 48"</text>
<text x="1897" y="1072" font-size="8.4" fill="#eceef4" textLength="13.3" lengthAdjust="spacingAndGlyphs">OC.</text>
<path d="M1894.3 1041.5 L1879.7 1041.5 L1855.1 1034.3" stroke="#d4d7e0" stroke-width="1" fill="none"/>
<path d="M1855.1 1034.3 L1862.6 1035.2 L1861.9 1037.6 Z" fill="#d4d7e0" stroke="none"/>
<circle cx="1694.6" cy="1103" r="9.8" stroke="#d4d7e0" stroke-width="1.2" fill="none"/>
<text x="1690.9" y="1106.7" font-size="12.5" fill="#eceef4" textLength="7.4" lengthAdjust="spacingAndGlyphs">E</text>
<text x="1709.4" y="1101.9" font-size="13.5" fill="#eceef4" textLength="190.2" lengthAdjust="spacingAndGlyphs" style="stroke:none">FOUNDATION WALL SECTION</text>
<path d="M1709.4 1104.1 L1900.4 1104.1" stroke="#d4d7e0" stroke-width="1.1" fill="none"/>
<text x="1709.4" y="1112.8" font-size="7.9" fill="#eceef4" textLength="82.8" lengthAdjust="spacingAndGlyphs">CRAWL WITH BRICK</text>
<rect x="160.4" y="1254.5" width="113" height="194.1" stroke="#d4d7e0" stroke-width="1.2" fill="none"/>
<path d="M183.5 1254.5 L183.5 1377.3" stroke="#d4d7e0" stroke-width="1" fill="none"/>
<path d="M201.3 1254.5 L201.3 1327.3" stroke="#d4d7e0" stroke-width="1" fill="none"/>
<rect x="183.5" y="1320.3" width="17.7" height="7" stroke="#d4d7e0" stroke-width="1" fill="none"/>
<path d="M183.5 1320.3 L201.3 1327.3" stroke="#d4d7e0" stroke-width="1" fill="none"/>
<path d="M183.5 1327.3 L201.3 1320.3" stroke="#d4d7e0" stroke-width="1" fill="none"/>
<rect x="184.2" y="1328.2" width="89.2" height="3.9" fill="#9da1ae"/>
<path d="M183.5 1327.9 L273.4 1327.9" stroke="#d4d7e0" stroke-width="1" fill="none"/>
<path d="M183.5 1332.3 L273.4 1332.3" stroke="#d4d7e0" stroke-width="1" fill="none"/>
<path d="M190.8 1332.3 L190.8 1377.3" stroke="#d4d7e0" stroke-width="1" fill="none"/>
<path d="M183.5 1332.3 L190.8 1355.1 L183.5 1377.3" stroke="#d4d7e0" stroke-width="1" fill="none"/>
<path d="M190.8 1332.3 L183.5 1355.1 L190.8 1377.3" stroke="#d4d7e0" stroke-width="1" fill="none"/>
<path d="M210.8 1377.9 L273.4 1377.9" stroke="#d4d7e0" stroke-width="1.2" fill="none"/>
<rect x="183.2" y="1377.3" width="27.6" height="7" stroke="#d4d7e0" stroke-width="1" fill="none"/>
<path d="M183.2 1377.3 L210.8 1384.2" stroke="#d4d7e0" stroke-width="1" fill="none"/>
<path d="M183.2 1384.2 L210.8 1377.3" stroke="#d4d7e0" stroke-width="1" fill="none"/>
<rect x="183.2" y="1384.2" width="27.6" height="7.6" stroke="#d4d7e0" stroke-width="1" fill="none"/>
<path d="M183.2 1384.2 L210.8 1391.8" stroke="#d4d7e0" stroke-width="1" fill="none"/>
<path d="M183.2 1391.8 L210.8 1384.2" stroke="#d4d7e0" stroke-width="1" fill="none"/>
<rect x="183.2" y="1391.8" width="37.7" height="38.6" stroke="#d4d7e0" stroke-width="1.1" fill="none"/>
<rect x="183.5" y="1392.2" width="6.3" height="37.8" fill="url(#xh)"/>
<rect x="214.6" y="1392.2" width="6.1" height="37.8" fill="url(#xh)"/>
<path d="M190.1 1391.8 L190.1 1430.4" stroke="#d4d7e0" stroke-width="1" fill="none"/>
<path d="M214.3 1391.8 L214.3 1430.4" stroke="#d4d7e0" stroke-width="1" fill="none"/>
<g fill="#d4d7e0" opacity="0.9"><circle cx="197.2" cy="1411.2" r="0.6"/><circle cx="208.5" cy="1402.2" r="0.8"/><circle cx="210.5" cy="1407.7" r="1"/><circle cx="206.7" cy="1412.7" r="0.8"/><circle cx="203.9" cy="1406.5" r="1"/><circle cx="200.3" cy="1427.3" r="1"/><circle cx="193.1" cy="1403.1" r="0.7"/><circle cx="208.3" cy="1400.4" r="0.8"/><circle cx="199.6" cy="1420.7" r="1"/><circle cx="207.3" cy="1400.9" r="0.9"/></g>
<path d="M196.8 1374.7 L196.8 1424.5 L204.7 1424.5" stroke="#c4c7d1" stroke-width="3.4" fill="none"/>
<rect x="193" y="1373.1" width="7.6" height="2.5" stroke="none" stroke-width="0" fill="#d6d8e0"/>
<rect x="460.7" y="1233.5" width="126.3" height="159.2" stroke="#d4d7e0" stroke-width="1.2" fill="none"/>
<path d="M518.6 1233.5 L518.6 1377.2" stroke="#d4d7e0" stroke-width="1" fill="none"/>
<path d="M526.3 1233.5 L526.3 1377.2" stroke="#d4d7e0" stroke-width="1" fill="none"/>
<rect x="460.7" y="1328.2" width="126.3" height="3.3" fill="#9da1ae"/>
<path d="M460.7 1327.9 L587 1327.9" stroke="#d4d7e0" stroke-width="1" fill="none"/>
<path d="M460.7 1331.8 L587 1331.8" stroke="#d4d7e0" stroke-width="1" fill="none"/>
<path d="M460.7 1378 L587 1378" stroke="#d4d7e0" stroke-width="1.2" fill="none"/>
<path d="M460.7 1385.3 L587 1385.3" stroke="#d4d7e0" stroke-width="1.2" fill="none"/>
<rect x="460.7" y="1393" width="126.3" height="37.1" fill="url(#xh)"/>
<rect x="460.7" y="1432.8" width="126.3" height="9.4" fill="url(#xh)"/>
<path d="M460.7 1392.6 L587 1392.6" stroke="#d4d7e0" stroke-width="1.2" fill="none"/>
<path d="M460.7 1430.6 L587 1430.6" stroke="#d4d7e0" stroke-width="1" fill="none"/>
<path d="M460.7 1432.5 L587 1432.5" stroke="#d4d7e0" stroke-width="1" fill="none"/>
<path d="M460.7 1392.6 L460.7 1432.5" stroke="#d4d7e0" stroke-width="1" fill="none"/>
<path d="M587 1392.6 L587 1432.5" stroke="#d4d7e0" stroke-width="1" fill="none"/>
<path d="M486.2 1393 L486.2 1430.1" stroke="#e0e2e8" stroke-width="1.2" fill="none"/>
<path d="M487.5 1393 L487.5 1430.1" stroke="#23283d" stroke-width="1.2" fill="none"/>
<path d="M564.7 1393 L564.7 1430.1" stroke="#e0e2e8" stroke-width="1.2" fill="none"/>
<path d="M566 1393 L566 1430.1" stroke="#23283d" stroke-width="1.2" fill="none"/>
<rect x="519.4" y="1267.6" width="6" height="123.4" rx="3" fill="#23283d" stroke="#d4d7e0" stroke-width="1.1"/>
<rect x="502.7" y="1359.3" width="7.3" height="32.6" rx="3" fill="#23283d" stroke="#d4d7e0" stroke-width="1.1"/>
<rect x="503.3" y="1378.8" width="6" height="13" fill="#b9bcc8"/>
<rect x="535.7" y="1359.3" width="7.3" height="32.6" rx="3" fill="#23283d" stroke="#d4d7e0" stroke-width="1.1"/>
<rect x="536.4" y="1378.8" width="6" height="13" fill="#b9bcc8"/>
<g fill="#e4e6ec"><circle cx="521.2" cy="1272.2" r="0.7"/><circle cx="523.5" cy="1277.2" r="0.7"/><circle cx="521.2" cy="1282.3" r="0.7"/><circle cx="523.5" cy="1287.3" r="0.7"/><circle cx="521.2" cy="1292.4" r="0.7"/><circle cx="523.5" cy="1297.4" r="0.7"/><circle cx="521.2" cy="1302.5" r="0.7"/><circle cx="523.5" cy="1307.5" r="0.7"/><circle cx="521.2" cy="1312.6" r="0.7"/><circle cx="523.5" cy="1317.6" r="0.7"/><circle cx="521.2" cy="1322.7" r="0.7"/><circle cx="523.5" cy="1327.7" r="0.7"/><circle cx="521.2" cy="1332.7" r="0.7"/><circle cx="523.5" cy="1337.8" r="0.7"/><circle cx="521.2" cy="1342.8" r="0.7"/><circle cx="523.5" cy="1347.9" r="0.7"/><circle cx="521.2" cy="1352.9" r="0.7"/><circle cx="523.5" cy="1358" r="0.7"/><circle cx="521.2" cy="1363" r="0.7"/><circle cx="523.5" cy="1368.1" r="0.7"/><circle cx="521.2" cy="1373.1" r="0.7"/><circle cx="523.5" cy="1378.2" r="0.7"/><circle cx="521.2" cy="1383.2" r="0.7"/><circle cx="523.5" cy="1388.2" r="0.7"/><circle cx="505.1" cy="1363.3" r="0.7"/><circle cx="507.4" cy="1367.3" r="0.7"/><circle cx="505.1" cy="1371.2" r="0.7"/><circle cx="507.4" cy="1375.1" r="0.7"/><circle cx="505.1" cy="1379" r="0.7"/><circle cx="538.1" cy="1363.3" r="0.7"/><circle cx="540.4" cy="1367.3" r="0.7"/><circle cx="538.1" cy="1371.2" r="0.7"/><circle cx="540.4" cy="1375.1" r="0.7"/><circle cx="538.1" cy="1379" r="0.7"/></g>
<path d="M515.7 1375.6 L515.7 1423.9 L523.8 1423.9" stroke="#c4c7d1" stroke-width="3.2" fill="none"/>
<rect x="512.4" y="1373.4" width="6.8" height="3.7" stroke="none" stroke-width="0" fill="#d6d8e0"/>
<path d="M502.7 1436.6 L502.7 1469.1" stroke="#d4d7e0" stroke-width="1" fill="none"/>
<path d="M544.7 1436.6 L544.7 1469.1" stroke="#d4d7e0" stroke-width="1" fill="none"/>
<path d="M523.5 1432.5 L523.5 1443.1" stroke="#d4d7e0" stroke-width="1" fill="none"/>
<path d="M499.4 1468.3 L507.1 1468.3" stroke="#d4d7e0" stroke-width="1" fill="none"/>
<path d="M537.7 1468.3 L547.7 1468.3" stroke="#d4d7e0" stroke-width="1" fill="none"/>
<path d="M500.1 1470.9 L505.2 1465.8" stroke="#d4d7e0" stroke-width="1" fill="none"/>
<path d="M542.1 1470.9 L547.2 1465.8" stroke="#d4d7e0" stroke-width="1" fill="none"/>
<text x="518.6" y="1460.7" font-size="8.4" fill="#eceef4" textLength="7.6" lengthAdjust="spacingAndGlyphs">12"</text>
<text x="510.3" y="1470.8" font-size="8.6" fill="#eceef4" textLength="23.8" lengthAdjust="spacingAndGlyphs">C/L OF</text>
<text x="510.8" y="1480" font-size="8.6" fill="#eceef4" textLength="23.3" lengthAdjust="spacingAndGlyphs">STRAP</text>
<text x="293" y="1237.2" font-size="9.5" fill="#eceef4" textLength="59.7" lengthAdjust="spacingAndGlyphs">HD LOCATION</text>
<text x="293" y="1247" font-size="9.5" fill="#eceef4" textLength="58.9" lengthAdjust="spacingAndGlyphs">(1) STUD (MIN)</text>
<path d="M289 1233.8 L274.5 1233.8 L202.3 1266.9" stroke="#d4d7e0" stroke-width="1" fill="none"/>
<path d="M202.3 1266.9 L208.6 1262.7 L209.6 1264.9 Z" fill="#d4d7e0" stroke="none"/>
<path d="M363.3 1233.8 L436.3 1233.8 L517.2 1248.4" stroke="#d4d7e0" stroke-width="1" fill="none"/>
<path d="M517.2 1248.4 L509.6 1248.3 L510 1245.8 Z" fill="#d4d7e0" stroke="none"/>
<text x="289" y="1279.4" font-size="9.5" fill="#eceef4" textLength="93.4" lengthAdjust="spacingAndGlyphs">SIMPSON CS16 STRAP</text>
<text x="289" y="1290" font-size="9.5" fill="#eceef4" textLength="130.8" lengthAdjust="spacingAndGlyphs">(EXTEND ACROSS SILL PLATE</text>
<text x="289" y="1300.6" font-size="9.5" fill="#eceef4" textLength="112.7" lengthAdjust="spacingAndGlyphs">AND EXTEND 12" UP STUD)</text>
<path d="M285.1 1276.2 L185.1 1276.2" stroke="#b9bcc8" stroke-width="1.6" fill="none"/>
<path d="M185.1 1276.2 L192.6 1275 L192.6 1277.5 Z" fill="#b9bcc8" stroke="none"/>
<path d="M394.4 1276.2 L517.2 1276.2" stroke="#b9bcc8" stroke-width="1.6" fill="none"/>
<path d="M517.2 1276.2 L509.7 1277.5 L509.7 1275 Z" fill="#b9bcc8" stroke="none"/>
<text x="289.8" y="1345.2" font-size="9.5" fill="#eceef4" textLength="96.8" lengthAdjust="spacingAndGlyphs">SIMPSON SSP IN EACH</text>
<text x="289.8" y="1355" font-size="9.5" fill="#eceef4" textLength="67.4" lengthAdjust="spacingAndGlyphs">SIDE OF STRAP</text>
<path d="M286.4 1341.7 L218.8 1341.7 L185.6 1356.6" stroke="#d4d7e0" stroke-width="1" fill="none"/>
<path d="M185.6 1356.6 L191.9 1352.4 L193 1354.7 Z" fill="#d4d7e0" stroke="none"/>
<path d="M392.5 1341.7 L457.5 1341.7 L501.2 1356.6" stroke="#d4d7e0" stroke-width="1" fill="none"/>
<path d="M501.2 1356.6 L493.7 1355.4 L494.5 1353 Z" fill="#d4d7e0" stroke="none"/>
<text x="290.4" y="1390.8" font-size="9.5" fill="#eceef4" textLength="100.8" lengthAdjust="spacingAndGlyphs">(2) 2x6 TRT SILL PLATE</text>
<path d="M286.4 1388.4 L213.4 1388.4" stroke="#b9bcc8" stroke-width="1.6" fill="none"/>
<path d="M213.4 1388.4 L220.9 1387.2 L220.9 1389.7 Z" fill="#b9bcc8" stroke="none"/>
<path d="M395.9 1388.4 L470.7 1388.4" stroke="#b9bcc8" stroke-width="1.6" fill="none"/>
<path d="M470.7 1388.4 L463.2 1389.7 L463.2 1387.2 Z" fill="#b9bcc8" stroke="none"/>
<text x="293" y="1429.5" font-size="9.5" fill="#eceef4" textLength="134" lengthAdjust="spacingAndGlyphs">LOCATE ½" DIAMETER ANCHOR</text>
<text x="293" y="1439.8" font-size="9.5" fill="#eceef4" textLength="130" lengthAdjust="spacingAndGlyphs">BOLT (OR ½" THREADED ROD</text>
<text x="293" y="1450" font-size="9.5" fill="#eceef4" textLength="115.9" lengthAdjust="spacingAndGlyphs">EMBEDDED 5" INTO SOLID</text>
<text x="293" y="1460.2" font-size="9.5" fill="#eceef4" textLength="141.9" lengthAdjust="spacingAndGlyphs">MASONRY WITH SIMPSON SET-XP</text>
<text x="293" y="1470.5" font-size="9.5" fill="#eceef4" textLength="143.2" lengthAdjust="spacingAndGlyphs">EPOXY (OR EQUAL) WITHIN 12" OF</text>
<text x="293" y="1480.7" font-size="9.5" fill="#eceef4" textLength="124.7" lengthAdjust="spacingAndGlyphs">CENTERLINE OF CS16 STRAP.</text>
<path d="M289 1449.9 L271.8 1449.9 L200.2 1399.5" stroke="#d4d7e0" stroke-width="1" fill="none"/>
<path d="M200.2 1399.5 L207 1402.8 L205.6 1404.9 Z" fill="#d4d7e0" stroke="none"/>
<path d="M419.8 1449.9 L446.9 1449.9 L513.2 1408.8" stroke="#d4d7e0" stroke-width="1" fill="none"/>
<path d="M513.2 1408.8 L507.5 1413.8 L506.2 1411.7 Z" fill="#d4d7e0" stroke="none"/>
<text x="175.8" y="1472.5" font-size="9" fill="#eceef4" textLength="35.8" lengthAdjust="spacingAndGlyphs">SECTION</text>
<path d="M175.3 1475.4 L212.1 1475.4" stroke="#d4d7e0" stroke-width="1.1" fill="none"/>
<text x="488" y="1503" font-size="9" fill="#eceef4" textLength="47.2" lengthAdjust="spacingAndGlyphs">ELEVATION</text>
<path d="M487.5 1505.9 L535.7 1505.9" stroke="#d4d7e0" stroke-width="1.1" fill="none"/>
<circle cx="260.7" cy="1535.4" r="13.8" stroke="#d4d7e0" stroke-width="1.2" fill="none"/>
<text x="256.2" y="1540.1" font-size="15" fill="#eceef4" textLength="9.5" lengthAdjust="spacingAndGlyphs" style="stroke:none">F</text>
<text x="290.4" y="1536.7" font-size="14.3" fill="#eceef4" textLength="161.8" lengthAdjust="spacingAndGlyphs" style="stroke:none">'HD' HOLD-DOWN DETAIL</text>
<path d="M289.8 1539.1 L453 1539.1" stroke="#d4d7e0" stroke-width="1.1" fill="none"/>
<text x="290.4" y="1550.7" font-size="10.4" fill="#eceef4" textLength="106.6" lengthAdjust="spacingAndGlyphs">(OVER WOOD FLOOR)</text>
<text x="245.8" y="1568.5" font-size="9.2" fill="#eceef4" textLength="274.8" lengthAdjust="spacingAndGlyphs">NOTE: ALTERNATE HD HOLD-DOWN DEVICES OR SYSTEMS MAY</text>
<text x="245.8" y="1578.9" font-size="9.2" fill="#eceef4" textLength="274" lengthAdjust="spacingAndGlyphs">BE USED TO MEET THE CODE REQUIRED 800 LB CAPACITY IN</text>
<text x="245.8" y="1589.2" font-size="9.2" fill="#eceef4" textLength="123.6" lengthAdjust="spacingAndGlyphs">LIEU OF THE ABOVE DETAIL.</text>
<path d="M859.4 1364.8 C859.2 1360.7 859.5 1356.6 861.5 1353.4 C863.6 1350.2 867.6 1347.7 871.7 1345.6 C875.7 1343.4 880.1 1341.8 885.6 1340.7 C891.2 1339.5 898 1338.9 904.9 1338.6 C911.7 1338.2 926.7 1338.6 926.7 1338.6 L926.7 1383.1 L923.2 1383.1 L923.2 1402.4 C923.2 1402.4 911.7 1404.4 904.9 1404.3 C898 1404.2 888.6 1403 882.2 1401.9 C875.7 1400.7 869.9 1399.2 866.4 1397.1 C863 1395 862.1 1392.5 861.5 1389.3 C860.9 1386.1 863.3 1382 862.9 1377.9 C862.6 1373.8 859.7 1368.9 859.4 1364.8Z" fill="#8c90a0"/>
<path d="M859.4 1364.8 C859.2 1360.7 859.5 1356.6 861.5 1353.4 C863.6 1350.2 867.6 1347.7 871.7 1345.6 C875.7 1343.4 880.1 1341.8 885.6 1340.7 C891.2 1339.5 898 1338.9 904.9 1338.6 C911.7 1338.2 926.7 1338.6 926.7 1338.6 L926.7 1383.1 L923.2 1383.1 L923.2 1402.4 C923.2 1402.4 911.7 1404.4 904.9 1404.3 C898 1404.2 888.6 1403 882.2 1401.9 C875.7 1400.7 869.9 1399.2 866.4 1397.1 C863 1395 862.1 1392.5 861.5 1389.3 C860.9 1386.1 863.3 1382 862.9 1377.9 C862.6 1373.8 859.7 1368.9 859.4 1364.8Z" fill="url(#earth)" stroke="#d4d7e0" stroke-width="1"/>
<path d="M967.5 1338.6 C967.5 1338.6 984.6 1337.9 992.3 1338.2 C999.9 1338.6 1007.3 1339.2 1013.2 1340.7 C1019.2 1342.2 1024.5 1344.5 1028.1 1347.3 C1031.7 1350.2 1033.7 1354.3 1034.7 1357.8 C1035.8 1361.3 1035.2 1364.9 1034.6 1368.3 C1034 1371.6 1031.6 1374.7 1031.1 1377.9 C1030.6 1381.1 1031.6 1384.5 1031.6 1387.5 C1031.6 1390.6 1033.6 1393.9 1031.1 1396.3 C1028.6 1398.6 1022.6 1400.2 1016.7 1401.5 C1010.9 1402.8 1003.4 1404.2 995.8 1404.3 C988.1 1404.4 970.9 1402.4 970.9 1402.4 L970.9 1383.1 L967.5 1383.1 L967.5 1338.6Z" fill="#8c90a0"/>
<path d="M967.5 1338.6 C967.5 1338.6 984.6 1337.9 992.3 1338.2 C999.9 1338.6 1007.3 1339.2 1013.2 1340.7 C1019.2 1342.2 1024.5 1344.5 1028.1 1347.3 C1031.7 1350.2 1033.7 1354.3 1034.7 1357.8 C1035.8 1361.3 1035.2 1364.9 1034.6 1368.3 C1034 1371.6 1031.6 1374.7 1031.1 1377.9 C1030.6 1381.1 1031.6 1384.5 1031.6 1387.5 C1031.6 1390.6 1033.6 1393.9 1031.1 1396.3 C1028.6 1398.6 1022.6 1400.2 1016.7 1401.5 C1010.9 1402.8 1003.4 1404.2 995.8 1404.3 C988.1 1404.4 970.9 1402.4 970.9 1402.4 L970.9 1383.1 L967.5 1383.1 L967.5 1338.6Z" fill="url(#earth)" stroke="#d4d7e0" stroke-width="1"/>
<path d="M911.9 1243 L996.6 1243" stroke="#d4d7e0" stroke-width="1.2" fill="none"/>
<path d="M911.9 1245.9 L996.6 1245.9" stroke="#d4d7e0" stroke-width="1" fill="none"/>
<path d="M901.4 1270.9 L986.2 1270.9" stroke="#d4d7e0" stroke-width="1.2" fill="none"/>
<path d="M912.7 1237.2 L904.9 1254.7 L900.5 1256.1 L909.8 1259.9 L904.5 1264.3 L897 1277.4" stroke="#d4d7e0" stroke-width="1" fill="none"/>
<path d="M997.5 1237.2 L989.7 1253.8 L984.4 1256.1 L993.7 1259.9 L988.4 1263.4 L981.8 1277.4" stroke="#d4d7e0" stroke-width="1" fill="none"/>
<path d="M939.3 1245.9 L939.3 1270.9" stroke="#d4d7e0" stroke-width="1" fill="none"/>
<path d="M954.3 1245.9 L954.3 1270.9" stroke="#d4d7e0" stroke-width="1" fill="none"/>
<path d="M941.2 1270.9 L941.2 1294.5" stroke="#d4d7e0" stroke-width="1" fill="none"/>
<path d="M943.7 1270.9 L943.7 1294.5" stroke="#d4d7e0" stroke-width="1" fill="none"/>
<path d="M946.1 1270.9 L946.1 1294.5" stroke="#d4d7e0" stroke-width="1" fill="none"/>
<path d="M948.6 1270.9 L948.6 1294.5" stroke="#d4d7e0" stroke-width="1" fill="none"/>
<path d="M951 1270.9 L951 1294.5" stroke="#d4d7e0" stroke-width="1" fill="none"/>
<path d="M953.1 1270.9 L953.1 1294.5" stroke="#d4d7e0" stroke-width="1" fill="none"/>
<rect x="940.7" y="1294.5" width="13.1" height="2.4" stroke="#d4d7e0" stroke-width="1" fill="none"/>
<rect x="926.7" y="1297.5" width="40.7" height="21" stroke="#d4d7e0" stroke-width="1.1" fill="none"/>
<rect x="927.3" y="1298.2" width="39.7" height="5.1" fill="url(#earth)" opacity="0.85"/>
<rect x="927.3" y="1312.7" width="39.7" height="5.1" fill="url(#earth)" opacity="0.85"/>
<path d="M926.7 1303.6 L967.5 1303.6" stroke="#d4d7e0" stroke-width="1" fill="none"/>
<path d="M926.7 1312 L967.5 1312" stroke="#d4d7e0" stroke-width="1" fill="none"/>
<rect x="927.9" y="1304.8" width="8.4" height="6.1" stroke="#d4d7e0" stroke-width="0.9" fill="none"/>
<rect x="929.7" y="1306.2" width="4.9" height="3.3" fill="#8c90a0"/>
<rect x="938.1" y="1304.8" width="8.4" height="6.1" stroke="#d4d7e0" stroke-width="0.9" fill="none"/>
<rect x="939.8" y="1306.2" width="4.9" height="3.3" fill="#8c90a0"/>
<rect x="948.6" y="1304.8" width="8.4" height="6.1" stroke="#d4d7e0" stroke-width="0.9" fill="none"/>
<rect x="950.3" y="1306.2" width="4.9" height="3.3" fill="#8c90a0"/>
<rect x="958.2" y="1304.8" width="8.4" height="6.1" stroke="#d4d7e0" stroke-width="0.9" fill="none"/>
<rect x="959.9" y="1306.2" width="4.9" height="3.3" fill="#8c90a0"/>
<path d="M947.2 1297.5 L947.2 1382.3" stroke="#d4d7e0" stroke-width="1" fill="none"/>
<rect x="926.7" y="1319" width="40.7" height="63.3" stroke="#d4d7e0" stroke-width="1.1" fill="none"/>
<path d="M926.7 1340 L967.5 1340" stroke="#d4d7e0" stroke-width="1" fill="none"/>
<path d="M926.7 1340.7 L967.5 1340.7" stroke="#d4d7e0" stroke-width="1" fill="none"/>
<path d="M926.7 1362.2 L967.5 1362.2" stroke="#d4d7e0" stroke-width="1" fill="none"/>
<path d="M926.7 1363 L967.5 1363" stroke="#d4d7e0" stroke-width="1" fill="none"/>
<path d="M931.1 1319 L931.1 1382.3" stroke="#d4d7e0" stroke-width="0.9" fill="none"/>
<path d="M963.4 1319 L963.4 1382.3" stroke="#d4d7e0" stroke-width="0.9" fill="none"/>
<path d="M943.7 1319 L943.7 1382.3" stroke="#d4d7e0" stroke-width="0.9" fill="none"/>
<path d="M950.7 1319 L950.7 1382.3" stroke="#d4d7e0" stroke-width="0.9" fill="none"/>
<g fill="#d4d7e0" opacity="0.9"><circle cx="947.1" cy="1354.1" r="0.9"/><circle cx="942.2" cy="1340.6" r="0.9"/><circle cx="946.9" cy="1342.8" r="0.7"/><circle cx="942.4" cy="1331.8" r="0.8"/><circle cx="958.4" cy="1361.6" r="0.8"/><circle cx="942.7" cy="1347" r="0.6"/><circle cx="953.7" cy="1339.2" r="0.6"/><circle cx="960.9" cy="1341.7" r="1"/><circle cx="950.6" cy="1365.7" r="0.8"/><circle cx="938.2" cy="1363" r="0.6"/><circle cx="944.6" cy="1329.7" r="0.5"/><circle cx="943.5" cy="1323" r="0.7"/><circle cx="957.2" cy="1379.3" r="0.7"/><circle cx="936.2" cy="1342" r="0.5"/><circle cx="939.3" cy="1357.7" r="0.8"/><circle cx="934" cy="1350.1" r="0.7"/><circle cx="944.4" cy="1329.9" r="0.7"/><circle cx="936" cy="1361.5" r="0.8"/></g>
<rect x="923.2" y="1383.1" width="47.7" height="19.2" stroke="#d4d7e0" stroke-width="1.2" fill="none"/>
<g fill="#d4d7e0" opacity="0.9"><circle cx="965.8" cy="1387.8" r="1"/><circle cx="935.6" cy="1392.2" r="1"/><circle cx="940.8" cy="1392.9" r="0.6"/><circle cx="967.3" cy="1400.2" r="0.6"/><circle cx="930.6" cy="1392.3" r="0.8"/><circle cx="959.1" cy="1390.4" r="0.8"/><circle cx="932.2" cy="1388.4" r="0.5"/><circle cx="949.1" cy="1393.7" r="0.8"/><circle cx="966.1" cy="1389.8" r="0.7"/><circle cx="945.5" cy="1399.6" r="0.7"/></g>
<path d="M913.6 1296.6 L913.6 1338.6" stroke="#d4d7e0" stroke-width="1" fill="none"/>
<path d="M909.2 1298.4 L920.6 1298.4" stroke="#d4d7e0" stroke-width="1" fill="none"/>
<path d="M904 1335.6 L916.2 1335.6" stroke="#d4d7e0" stroke-width="1" fill="none"/>
<path d="M910.9 1295.7 L916.3 1301.1" stroke="#d4d7e0" stroke-width="1" fill="none"/>
<path d="M910.9 1332.9 L916.3 1338.3" stroke="#d4d7e0" stroke-width="1" fill="none"/>
<text x="910.5" y="1335.1" font-size="8.6" fill="#eceef4" textLength="30.6" lengthAdjust="spacingAndGlyphs" transform="rotate(-90 910.5 1335.1)">12" MIN</text>
<path d="M1008.9 1266.9 L1008.9 1340.3" stroke="#d4d7e0" stroke-width="1" fill="none"/>
<path d="M992.3 1270.9 L1012.9 1270.9" stroke="#d4d7e0" stroke-width="1" fill="none"/>
<path d="M1005.9 1268 L1011.8 1273.9" stroke="#d4d7e0" stroke-width="1" fill="none"/>
<path d="M1005.9 1335.6 L1011.8 1341.5" stroke="#d4d7e0" stroke-width="1" fill="none"/>
<text x="1004.9" y="1317.6" font-size="8.6" fill="#eceef4" textLength="26.2" lengthAdjust="spacingAndGlyphs" transform="rotate(-90 1004.9 1317.6)">24" MIN</text>
<text x="828.8" y="1215.9" font-size="9.6" fill="#eceef4" textLength="46.7" lengthAdjust="spacingAndGlyphs">SUB FLOOR</text>
<path d="M879.5 1214.1 L911.9 1214.1 L931.4 1241.2" stroke="#d4d7e0" stroke-width="1" fill="none"/>
<path d="M931.4 1241.2 L926 1235.9 L928.1 1234.4 Z" fill="#d4d7e0" stroke="none"/>
<text x="822.7" y="1261.3" font-size="9.6" fill="#eceef4" textLength="52.4" lengthAdjust="spacingAndGlyphs">FLOOR JOIST</text>
<path d="M879.5 1258.5 L885.6 1258.5 L908.4 1265.2" stroke="#d4d7e0" stroke-width="1" fill="none"/>
<path d="M908.4 1265.2 L900.8 1264.3 L901.5 1261.9 Z" fill="#d4d7e0" stroke="none"/>
<text x="818.4" y="1280.9" font-size="9.6" fill="#eceef4" textLength="56.8" lengthAdjust="spacingAndGlyphs">TREATED SILL</text>
<path d="M879.5 1277.7 L901.4 1277.7 L939.8 1294" stroke="#d4d7e0" stroke-width="1" fill="none"/>
<path d="M939.8 1294 L932.4 1292.2 L933.4 1289.9 Z" fill="#d4d7e0" stroke="none"/>
<text x="838.8" y="1301.3" font-size="9.6" fill="#eceef4" textLength="36.7" lengthAdjust="spacingAndGlyphs">8" SOLID</text>
<text x="814" y="1308.9" font-size="9.6" fill="#eceef4" textLength="62.1" lengthAdjust="spacingAndGlyphs">MASONRY CAP</text>
<path d="M879.5 1297 L890.9 1297 L926.7 1306.8" stroke="#d4d7e0" stroke-width="1" fill="none"/>
<path d="M926.7 1306.8 L919.2 1306 L919.8 1303.6 Z" fill="#d4d7e0" stroke="none"/>
<text x="833.2" y="1349.4" font-size="9.6" fill="#eceef4" textLength="15.7" lengthAdjust="spacingAndGlyphs">CMU</text>
<path d="M853.3 1346.4 L869.9 1346.4 L943.3 1350.5" stroke="#d4d7e0" stroke-width="1" fill="none"/>
<path d="M943.3 1350.5 L935.8 1351.3 L935.9 1348.8 Z" fill="#d4d7e0" stroke="none"/>
<text x="1017.6" y="1216.6" font-size="9.6" fill="#eceef4" textLength="82.2" lengthAdjust="spacingAndGlyphs">OVERLAP JOISTS W/</text>
<text x="1017.6" y="1224.6" font-size="9.6" fill="#eceef4" textLength="93.5" lengthAdjust="spacingAndGlyphs">BLOCKING IN BETWEEN</text>
<path d="M1014.1 1214.5 L972.2 1214.5 L955.6 1247.7" stroke="#d4d7e0" stroke-width="1" fill="none"/>
<text x="1018.5" y="1283.5" font-size="9.6" fill="#eceef4" textLength="78.3" lengthAdjust="spacingAndGlyphs">DROPPED GIRDER</text>
<path d="M1015.9 1281.2 L954.7 1281.2" stroke="#d4d7e0" stroke-width="1" fill="none"/>
<path d="M954.7 1281.2 L962.2 1280 L962.2 1282.5 Z" fill="#d4d7e0" stroke="none"/>
<text x="1044.7" y="1343.8" font-size="9.6" fill="#eceef4" textLength="61.2" lengthAdjust="spacingAndGlyphs">SEE FND. PLAN</text>
<text x="1044.7" y="1351.7" font-size="9.6" fill="#eceef4" textLength="59.1" lengthAdjust="spacingAndGlyphs">FOR PIER SIZE</text>
<path d="M1042.1 1340.7 L1032.5 1342.1 L959.9 1370" stroke="#d4d7e0" stroke-width="1" fill="none"/>
<path d="M959.9 1370 L966.5 1366.2 L967.4 1368.5 Z" fill="#d4d7e0" stroke="none"/>
<text x="1044.7" y="1376.2" font-size="9.6" fill="#eceef4" textLength="81.3" lengthAdjust="spacingAndGlyphs">SEE FND. PLAN FOR</text>
<text x="1044.7" y="1384" font-size="9.6" fill="#eceef4" textLength="53.8" lengthAdjust="spacingAndGlyphs">FOOTING SIZE</text>
<path d="M1042.1 1373.5 L1035.1 1373.5 L965.2 1388.4" stroke="#d4d7e0" stroke-width="1" fill="none"/>
<path d="M965.2 1388.4 L972.3 1385.6 L972.8 1388.1 Z" fill="#d4d7e0" stroke="none"/>
<circle cx="860" cy="1433.3" r="11.4" stroke="#d4d7e0" stroke-width="1.2" fill="none"/>
<text x="855.6" y="1437.5" font-size="13.5" fill="#eceef4" textLength="9.4" lengthAdjust="spacingAndGlyphs" style="stroke:none">G</text>
<text x="875.5" y="1439.1" font-size="21" fill="#eceef4" textLength="186.7" lengthAdjust="spacingAndGlyphs" style="stroke:#23293c;stroke-width:0.4px">DROPPED GIRDER</text>
<path d="M874.3 1441.9 L1062.2 1441.9" stroke="#d4d7e0" stroke-width="1.2" fill="none"/>
<text x="1044.7" y="1449.6" font-size="7.6" fill="#eceef4" textLength="14" lengthAdjust="spacingAndGlyphs">NTS</text>
<path d="M862.2 1507.1 L907.9 1507.1" stroke="#d4d7e0" stroke-width="1.2" fill="none"/>
<path d="M862.7 1507.1 L862.7 1626.9" stroke="#d4d7e0" stroke-width="1" fill="none"/>
<path d="M870.4 1507.1 L870.4 1626.9" stroke="#d4d7e0" stroke-width="1" fill="none"/>
<path d="M900.2 1507.1 L900.2 1626.9" stroke="#d4d7e0" stroke-width="1" fill="none"/>
<path d="M907.9 1507.1 L907.9 1626.9" stroke="#d4d7e0" stroke-width="1" fill="none"/>
<path d="M863.9 1507.1 L863.9 1626.9" stroke="#d4d7e0" stroke-width="0.8" fill="none"/>
<path d="M878.2 1567.6 L878.2 1626.9" stroke="#d4d7e0" stroke-width="1" fill="none"/>
<path d="M892.8 1567.6 L892.8 1626.9" stroke="#d4d7e0" stroke-width="1" fill="none"/>
<path d="M885.4 1567.6 L885.4 1626.9" stroke="#d4d7e0" stroke-width="1" fill="none"/>
<path d="M872.2 1508.5 L898.8 1508.5" stroke="#aeb2be" stroke-width="2.2" fill="none"/>
<path d="M884.7 1509.5 L884.7 1564.5" stroke="#d4d7e0" stroke-width="0.9" fill="none"/>
<path d="M886.2 1509.5 L886.2 1564.5" stroke="#d4d7e0" stroke-width="0.9" fill="none"/>
<path d="M871.3 1566.4 L900 1566.4" stroke="#d0d3dc" stroke-width="2.6" fill="none"/>
<path d="M879.9 1567.6 L879.9 1584.8" stroke="#c4c7d1" stroke-width="2.2" fill="none"/>
<path d="M875.8 1565.4 Q879.9 1560.7 884 1565.4 Z" fill="#d6d8e0"/>
<path d="M890.2 1567.6 L890.2 1584.8" stroke="#c4c7d1" stroke-width="2.2" fill="none"/>
<path d="M886.1 1565.4 Q890.2 1560.7 894.3 1565.4 Z" fill="#d6d8e0"/>
<text x="944" y="1529" font-size="9.2" fill="#eceef4" textLength="133" lengthAdjust="spacingAndGlyphs">MAIN GARAGE BEAM AS SPEC'D</text>
<text x="944" y="1538.1" font-size="9.2" fill="#eceef4" textLength="124" lengthAdjust="spacingAndGlyphs">STEEL OR LVL (STEEL SHOWN)</text>
<path d="M941.2 1525.9 L892.8 1525.9" stroke="#d4d7e0" stroke-width="1" fill="none"/>
<path d="M892.8 1525.9 L900.3 1524.6 L900.3 1527.1 Z" fill="#d4d7e0" stroke="none"/>
<text x="944" y="1552.2" font-size="9.2" fill="#eceef4" textLength="114.6" lengthAdjust="spacingAndGlyphs">BEAM SHALL BEAR ON END</text>
<text x="944" y="1561.1" font-size="9.2" fill="#eceef4" textLength="39" lengthAdjust="spacingAndGlyphs">OF STUDS</text>
<path d="M941.2 1548.7 L927.1 1548.7 L901.4 1565.9" stroke="#d4d7e0" stroke-width="1" fill="none"/>
<path d="M901.4 1565.9 L906.9 1560.7 L908.3 1562.8 Z" fill="#d4d7e0" stroke="none"/>
<text x="944" y="1574.1" font-size="9.2" fill="#eceef4" textLength="134.3" lengthAdjust="spacingAndGlyphs">ATTACH STEEL BEAMS TO STUDS</text>
<text x="944" y="1583.2" font-size="9.2" fill="#eceef4" textLength="110.3" lengthAdjust="spacingAndGlyphs">WITH (2) 1/2" DIA. x 4" LONG</text>
<text x="944" y="1592.4" font-size="9.2" fill="#eceef4" textLength="52.7" lengthAdjust="spacingAndGlyphs">LAG SCREWS</text>
<path d="M941.2 1570.5 L926.3 1570.5 L893.6 1577.1" stroke="#d4d7e0" stroke-width="1" fill="none"/>
<path d="M893.6 1577.1 L900.7 1574.4 L901.2 1576.8 Z" fill="#d4d7e0" stroke="none"/>
<text x="944" y="1610" font-size="9.2" fill="#eceef4" textLength="108.9" lengthAdjust="spacingAndGlyphs">NUMBER OF STUDS SPEC'D</text>
<text x="944" y="1619.5" font-size="9.2" fill="#eceef4" textLength="113.7" lengthAdjust="spacingAndGlyphs">(SEE PLANS) INCLUDES ALL</text>
<text x="944" y="1628.9" font-size="9.2" fill="#eceef4" textLength="122" lengthAdjust="spacingAndGlyphs">JACK STUDS AND KING STUDS</text>
<path d="M941.2 1607.1 L891 1607.1" stroke="#d4d7e0" stroke-width="1" fill="none"/>
<path d="M891 1607.1 L898.5 1605.9 L898.5 1608.4 Z" fill="#d4d7e0" stroke="none"/>
<circle cx="845.5" cy="1654.9" r="11.2" stroke="#d4d7e0" stroke-width="1.2" fill="none"/>
<text x="840.9" y="1659" font-size="13.5" fill="#eceef4" textLength="9.3" lengthAdjust="spacingAndGlyphs" style="stroke:none">H</text>
<text x="859.3" y="1660.4" font-size="18" fill="#eceef4" textLength="243.9" lengthAdjust="spacingAndGlyphs" style="stroke:#23293c;stroke-width:0.2px">TYP. GARAGE BEAM BEARING</text>
<path d="M858.4 1662.8 L1103.7 1662.8" stroke="#d4d7e0" stroke-width="1.2" fill="none"/>
<text x="1087.8" y="1670.7" font-size="7.6" fill="#eceef4" textLength="14.6" lengthAdjust="spacingAndGlyphs">NTS</text>
<path d="M1363.9 1205.1 L1410.3 1205.1" stroke="#d4d7e0" stroke-width="1.2" fill="none"/>
<path d="M1436.8 1205.1 L1486.8 1205.1" stroke="#d4d7e0" stroke-width="1.2" fill="none"/>
<path d="M1363.9 1216.2 L1410.3 1216.2" stroke="#d4d7e0" stroke-width="1.2" fill="none"/>
<path d="M1436.8 1216.2 L1486.8 1216.2" stroke="#d4d7e0" stroke-width="1.2" fill="none"/>
<path d="M1363.9 1227.2 L1410.3 1227.2" stroke="#d4d7e0" stroke-width="1.2" fill="none"/>
<path d="M1436.8 1227.2 L1486.8 1227.2" stroke="#d4d7e0" stroke-width="1.2" fill="none"/>
<rect x="1410.3" y="1205.1" width="26.5" height="22.1" stroke="#d4d7e0" stroke-width="1.2" fill="none"/>
<path d="M1412.9 1210H1415.9M1414.4 1208.5V1211.4M1421.4 1210H1424.3M1422.9 1208.5V1211.4M1430 1210H1432.9M1431.5 1208.5V1211.4M1412.9 1221H1415.9M1414.4 1219.6V1222.5M1421.4 1221H1424.3M1422.9 1219.6V1222.5M1430 1221H1432.9M1431.5 1219.6V1222.5" stroke="#dfe1e8" stroke-width="0.9" fill="none"/>
<path d="M1417.6 1227.2 L1417.6 1242.2 L1429 1242.2 L1429 1227.2" stroke="#d4d7e0" stroke-width="1" fill="none"/>
<path d="M1414.7 1227.6 L1418 1227.6 L1418 1237.6 Z" fill="#b9bcc8"/>
<path d="M1432 1227.6 L1428.7 1227.6 L1428.7 1237.6 Z" fill="#b9bcc8"/>
<path d="M1419.6 1230H1422.2M1420.9 1228.7V1231.3M1424.5 1234.1H1427.1M1425.8 1232.8V1235.4M1419.6 1238.1H1422.2M1420.9 1236.8V1239.4" stroke="#dfe1e8" stroke-width="0.9" fill="none"/>
<path d="M1417.6 1242.2 L1417.6 1300" stroke="#d4d7e0" stroke-width="1" fill="none"/>
<path d="M1429 1242.2 L1429 1300" stroke="#d4d7e0" stroke-width="1" fill="none"/>
<path d="M1418.5 1315.4 L1418.5 1300 L1429 1300 L1429 1315.4" stroke="#d4d7e0" stroke-width="1" fill="none"/>
<path d="M1414.7 1315.1 L1418.6 1315.1 L1418.6 1305 Z" fill="#b9bcc8"/>
<path d="M1432.3 1315.1 L1428.7 1315.1 L1428.7 1305 Z" fill="#b9bcc8"/>
<path d="M1420.4 1303.2H1423M1421.7 1301.9V1304.5M1424.5 1307.3H1427.1M1425.8 1306V1308.6M1420.4 1311.9H1423M1421.7 1310.6V1313.2" stroke="#dfe1e8" stroke-width="0.9" fill="none"/>
<rect x="1410.3" y="1315.4" width="26.5" height="26" stroke="#d4d7e0" stroke-width="1.2" fill="none"/>
<path d="M1412.9 1323.6H1415.9M1414.4 1322.1V1325M1421.4 1323.6H1424.3M1422.9 1322.1V1325M1430 1323.6H1432.9M1431.5 1322.1V1325M1412.9 1334.2H1415.9M1414.4 1332.7V1335.6M1421.4 1334.2H1424.3M1422.9 1332.7V1335.6M1430 1334.2H1432.9M1431.5 1332.7V1335.6" stroke="#dfe1e8" stroke-width="0.9" fill="none"/>
<path d="M1267.1 1315.1 L1411.1 1315.1" stroke="#d4d7e0" stroke-width="1.2" fill="none"/>
<path d="M1436.4 1315.1 L1460.3 1315.1" stroke="#d4d7e0" stroke-width="1.2" fill="none"/>
<path d="M1490.9 1315.1 L1532.4 1315.1" stroke="#d4d7e0" stroke-width="1.2" fill="none"/>
<path d="M1454.3 1292.7 L1532.9 1292.7" stroke="#d4d7e0" stroke-width="1.2" fill="none"/>
<path d="M1454.3 1303.7 L1532.9 1303.7" stroke="#d4d7e0" stroke-width="1.2" fill="none"/>
<rect x="1460.4" y="1304" width="30.4" height="22" stroke="#d4d7e0" stroke-width="1.2" fill="none"/>
<path d="M1463.2 1307.3H1465.8M1464.5 1306V1308.6M1472.5 1307.3H1475.1M1473.8 1306V1308.6M1481.8 1307.3H1484.4M1483.1 1306V1308.6M1467.6 1311.9H1470.2M1468.9 1310.6V1313.2M1476.9 1311.9H1479.5M1478.2 1310.6V1313.2M1486 1311.9H1488.6M1487.3 1310.6V1313.2M1463.2 1318.4H1465.8M1464.5 1317.1V1319.7M1472.5 1318.4H1475.1M1473.8 1317.1V1319.7M1481.8 1318.4H1484.4M1483.1 1317.1V1319.7M1467.6 1323.3H1470.2M1468.9 1322V1324.6M1476.9 1323.3H1479.5M1478.2 1322V1324.6M1486 1323.3H1488.6M1487.3 1322V1324.6" stroke="#dfe1e8" stroke-width="0.9" fill="none"/>
<path d="M1266.3 1384.1 L1302.1 1384.1" stroke="#d4d7e0" stroke-width="1.2" fill="none"/>
<path d="M1313.2 1384.1 L1510.4 1384.1" stroke="#d4d7e0" stroke-width="1.2" fill="none"/>
<path d="M1521.5 1384.1 L1554.4 1384.1" stroke="#d4d7e0" stroke-width="1.2" fill="none"/>
<rect x="1302.4" y="1325.2" width="10.3" height="118.8" stroke="#d4d7e0" stroke-width="1.1" fill="none"/>
<path d="M1301.8 1384.1 L1301.8 1562.7" stroke="#d4d7e0" stroke-width="1" fill="none"/>
<path d="M1313.2 1384.1 L1313.2 1562.7" stroke="#d4d7e0" stroke-width="1" fill="none"/>
<path d="M1304.2 1330.9H1306.5M1305.3 1329.8V1332M1308.8 1336.4H1311M1309.9 1335.3V1337.6M1304.2 1342H1306.5M1305.3 1340.8V1343.1M1308.8 1347.5H1311M1309.9 1346.4V1348.6M1304.2 1353H1306.5M1305.3 1351.9V1354.2M1308.8 1358.6H1311M1309.9 1357.4V1359.7M1304.2 1364.1H1306.5M1305.3 1363V1365.2M1308.8 1369.6H1311M1309.9 1368.5V1370.8" stroke="#dfe1e8" stroke-width="0.9" fill="none"/>
<path d="M1304.2 1405.8H1306.5M1305.3 1404.6V1406.9M1308.8 1411H1311M1309.9 1409.8V1412.1M1304.2 1416.2H1306.5M1305.3 1415.1V1417.3M1308.8 1421.4H1311M1309.9 1420.3V1422.5M1304.2 1426.6H1306.5M1305.3 1425.5V1427.7M1308.8 1431.8H1311M1309.9 1430.7V1433M1304.2 1437H1306.5M1305.3 1435.9V1438.2M1308.8 1442.2H1311M1309.9 1441.1V1443.4" stroke="#dfe1e8" stroke-width="0.9" fill="none"/>
<path d="M1510.1 1325.2 L1510.1 1562.7" stroke="#d4d7e0" stroke-width="1" fill="none"/>
<path d="M1521.5 1315.4 L1521.5 1562.7" stroke="#d4d7e0" stroke-width="1" fill="none"/>
<path d="M1532.4 1315.4 L1532.4 1562.7" stroke="#d4d7e0" stroke-width="1" fill="none"/>
<rect x="1510.9" y="1325.2" width="9.3" height="118.8" stroke="#d4d7e0" stroke-width="1" fill="none"/>
<path d="M1512.5 1330.9H1514.8M1513.7 1329.8V1332M1516.8 1336.4H1519M1517.9 1335.3V1337.6M1512.5 1342H1514.8M1513.7 1340.8V1343.1M1516.8 1347.5H1519M1517.9 1346.4V1348.6M1512.5 1353H1514.8M1513.7 1351.9V1354.2M1516.8 1358.6H1519M1517.9 1357.4V1359.7M1512.5 1364.1H1514.8M1513.7 1363V1365.2M1516.8 1369.6H1519M1517.9 1368.5V1370.8" stroke="#dfe1e8" stroke-width="0.9" fill="none"/>
<path d="M1512.5 1405.8H1514.8M1513.7 1404.6V1406.9M1516.8 1411H1519M1517.9 1409.8V1412.1M1512.5 1416.2H1514.8M1513.7 1415.1V1417.3M1516.8 1421.4H1519M1517.9 1420.3V1422.5M1512.5 1426.6H1514.8M1513.7 1425.5V1427.7M1516.8 1431.8H1519M1517.9 1430.7V1433M1512.5 1437H1514.8M1513.7 1435.9V1438.2M1516.8 1442.2H1519M1517.9 1441.1V1443.4" stroke="#dfe1e8" stroke-width="0.9" fill="none"/>
<path d="M1510.1 1453.8 L1532.4 1453.8" stroke="#d4d7e0" stroke-width="1" fill="none"/>
<path d="M1510.2 1451.4 L1532.7 1451.4" stroke="#d4d7e0" stroke-width="1" fill="none"/>
<path d="M1510.2 1496.6 L1532.7 1496.6" stroke="#d4d7e0" stroke-width="1" fill="none"/>
<path d="M1510.2 1541.4 L1532.7 1541.4" stroke="#d4d7e0" stroke-width="1" fill="none"/>
<path d="M1556 1321.1 L1556 1446.5" stroke="#d4d7e0" stroke-width="1" fill="none"/>
<path d="M1577.5 1321.1 L1577.5 1446.5" stroke="#d4d7e0" stroke-width="1" fill="none"/>
<path d="M1536.5 1324.4 L1558.8 1324.4" stroke="#d4d7e0" stroke-width="1" fill="none"/>
<path d="M1563.3 1324.4 L1580.4 1324.4" stroke="#d4d7e0" stroke-width="1" fill="none"/>
<path d="M1553.5 1321.9 L1558.5 1326.9" stroke="#d4d7e0" stroke-width="1" fill="none"/>
<path d="M1574.9 1321.9 L1580 1326.9" stroke="#d4d7e0" stroke-width="1" fill="none"/>
<path d="M1536.5 1443.5 L1558.8 1443.5" stroke="#d4d7e0" stroke-width="1" fill="none"/>
<path d="M1563.3 1443.5 L1580.4 1443.5" stroke="#d4d7e0" stroke-width="1" fill="none"/>
<path d="M1553.5 1441 L1558.5 1446.1" stroke="#d4d7e0" stroke-width="1" fill="none"/>
<path d="M1574.9 1441 L1580 1446.1" stroke="#d4d7e0" stroke-width="1" fill="none"/>
<path d="M1553.5 1381.6 L1558.5 1386.7" stroke="#d4d7e0" stroke-width="1" fill="none"/>
<text x="1542.2" y="1356.1" font-size="8.6" fill="#eceef4" textLength="11.4" lengthAdjust="spacingAndGlyphs">7.5"</text>
<text x="1542.2" y="1416.4" font-size="8.6" fill="#eceef4" textLength="11.4" lengthAdjust="spacingAndGlyphs">7.5"</text>
<text x="1566.6" y="1386.7" font-size="8.6" fill="#eceef4" textLength="9.8" lengthAdjust="spacingAndGlyphs">15"</text>
<text x="1344.1" y="1244.6" font-size="9.6" fill="#eceef4" textLength="30.4" lengthAdjust="spacingAndGlyphs">6-10d</text>
<text x="1344.1" y="1255.1" font-size="9.6" fill="#eceef4" textLength="54.9" lengthAdjust="spacingAndGlyphs">NAILS PER</text>
<text x="1344.1" y="1265.6" font-size="9.6" fill="#eceef4" textLength="49.2" lengthAdjust="spacingAndGlyphs">CONNECT.</text>
<text x="1344.1" y="1276.1" font-size="9.6" fill="#eceef4" textLength="28.8" lengthAdjust="spacingAndGlyphs">(TYP)</text>
<path d="M1376.1 1242.5 L1385.9 1242.5 L1409.5 1222.3" stroke="#d4d7e0" stroke-width="1" fill="none"/>
<path d="M1409.5 1222.3 L1404.6 1228.2 L1403 1226.3 Z" fill="#d4d7e0" stroke="none"/>
<path d="M1456.7 1259.3 L1448.6 1259.3" stroke="#d4d7e0" stroke-width="1" fill="none"/>
<path d="M1448.6 1259.3 L1433.9 1229.2" stroke="#d4d7e0" stroke-width="1" fill="none"/>
<path d="M1433.9 1229.2 L1438.3 1235.4 L1436.1 1236.5 Z" fill="#d4d7e0" stroke="none"/>
<path d="M1448.6 1259.3 L1429.9 1300.8" stroke="#d4d7e0" stroke-width="1" fill="none"/>
<path d="M1429.9 1300.8 L1431.8 1293.4 L1434.1 1294.5 Z" fill="#d4d7e0" stroke="none"/>
<text x="1350.9" y="1356.1" font-size="9.6" fill="#eceef4" textLength="60.2" lengthAdjust="spacingAndGlyphs">HEADER AS</text>
<text x="1350.9" y="1366.7" font-size="9.6" fill="#eceef4" textLength="37.4" lengthAdjust="spacingAndGlyphs">SPEC'D</text>
<text x="1352.9" y="1401.7" font-size="9.6" fill="#eceef4" textLength="44.1" lengthAdjust="spacingAndGlyphs">SIMPSON</text>
<text x="1352.9" y="1412.1" font-size="9.6" fill="#eceef4" textLength="41.2" lengthAdjust="spacingAndGlyphs">"LSTA15"</text>
<text x="1352.9" y="1422.5" font-size="9.6" fill="#eceef4" textLength="33.5" lengthAdjust="spacingAndGlyphs">STRAP</text>
<path d="M1403 1399.3 L1512.4 1399.3" stroke="#d4d7e0" stroke-width="1" fill="none"/>
<path d="M1512.4 1399.3 L1504.9 1400.5 L1504.9 1398 Z" fill="#d4d7e0" stroke="none"/>
<text x="1352.9" y="1435.4" font-size="9.6" fill="#eceef4" textLength="63.2" lengthAdjust="spacingAndGlyphs">6-10d NAILS</text>
<text x="1352.9" y="1446" font-size="9.6" fill="#eceef4" textLength="52.6" lengthAdjust="spacingAndGlyphs">EACH END</text>
<path d="M1421.7 1432.3 L1517.3 1432.3" stroke="#d4d7e0" stroke-width="1" fill="none"/>
<path d="M1517.3 1432.3 L1509.8 1433.6 L1509.8 1431.1 Z" fill="#d4d7e0" stroke="none"/>
<path d="M1590.2 1310.2 L1492.2 1310.2" stroke="#d4d7e0" stroke-width="1" fill="none"/>
<path d="M1492.2 1310.2 L1499.7 1309 L1499.7 1311.5 Z" fill="#d4d7e0" stroke="none"/>
<text x="1458.5" y="1244" font-size="9.6" fill="#eceef4" textLength="178.7" lengthAdjust="spacingAndGlyphs">NOTE: IF HEADER IS NOT LOCATED</text>
<text x="1458.5" y="1254.4" font-size="9.6" fill="#eceef4" textLength="181.6" lengthAdjust="spacingAndGlyphs">DIRECTLY UNDER DBL. TOP PLATE,</text>
<text x="1458.5" y="1264.7" font-size="9.6" fill="#eceef4" textLength="189.3" lengthAdjust="spacingAndGlyphs">ATTACH CRIPPLE STUDS AT HEADER</text>
<text x="1458.5" y="1275.1" font-size="9.6" fill="#eceef4" textLength="188.4" lengthAdjust="spacingAndGlyphs">AND TOP PLATE WITH SIMPSON "SP2"</text>
<text x="1458.5" y="1285.4" font-size="9.6" fill="#eceef4" textLength="71.2" lengthAdjust="spacingAndGlyphs">CONNECTORS.</text>
<text x="1594.4" y="1312.6" font-size="9.6" fill="#eceef4" textLength="83" lengthAdjust="spacingAndGlyphs">NOTE: IF HDR. IS</text>
<text x="1594.4" y="1323" font-size="9.6" fill="#eceef4" textLength="104.3" lengthAdjust="spacingAndGlyphs">LOCATED DIRECTLY</text>
<text x="1594.4" y="1333.4" font-size="9.6" fill="#eceef4" textLength="97.8" lengthAdjust="spacingAndGlyphs">UNDER TOP PLATE,</text>
<text x="1594.4" y="1343.8" font-size="9.6" fill="#eceef4" textLength="104.3" lengthAdjust="spacingAndGlyphs">USE SIMPSON "LTP4"</text>
<text x="1594.4" y="1354.3" font-size="9.6" fill="#eceef4" textLength="85.1" lengthAdjust="spacingAndGlyphs">CONNECTORS AT</text>
<text x="1594.4" y="1364.7" font-size="9.6" fill="#eceef4" textLength="96" lengthAdjust="spacingAndGlyphs">16" O.C.  USE 6-8d</text>
<text x="1594.4" y="1375.1" font-size="9.6" fill="#eceef4" textLength="108.7" lengthAdjust="spacingAndGlyphs">NAILS PER CONNECT.</text>
<text x="1594.4" y="1385.5" font-size="9.6" fill="#eceef4" textLength="28.9" lengthAdjust="spacingAndGlyphs">(TYP)</text>
<text x="1350.7" y="1472" font-size="9.6" fill="#eceef4" textLength="62" lengthAdjust="spacingAndGlyphs">MIN. (1) 2"x4"</text>
<text x="1350.7" y="1482.4" font-size="9.6" fill="#eceef4" textLength="75.3" lengthAdjust="spacingAndGlyphs">BEARING STUD</text>
<path d="M1421.6 1470 L1508.7 1470" stroke="#d4d7e0" stroke-width="1" fill="none"/>
<path d="M1508.7 1470 L1501.2 1471.2 L1501.2 1468.7 Z" fill="#d4d7e0" stroke="none"/>
<text x="1350.2" y="1506.9" font-size="9.6" fill="#eceef4" textLength="89.2" lengthAdjust="spacingAndGlyphs">ATTACH BEARING</text>
<text x="1350.2" y="1517.2" font-size="9.6" fill="#eceef4" textLength="98.9" lengthAdjust="spacingAndGlyphs">STUD TO KING STUD</text>
<text x="1350.2" y="1527.6" font-size="9.6" fill="#eceef4" textLength="93.9" lengthAdjust="spacingAndGlyphs">WITH TWO ROWS OF</text>
<text x="1350.2" y="1537.9" font-size="9.6" fill="#eceef4" textLength="106.9" lengthAdjust="spacingAndGlyphs">10d NAILS AT 12" O.C.</text>
<path d="M1446.1 1505.4 L1468.3 1505.4 L1509.6 1540.9" stroke="#d4d7e0" stroke-width="1" fill="none"/>
<text x="1351.6" y="1555.3" font-size="9.6" fill="#eceef4" textLength="44.3" lengthAdjust="spacingAndGlyphs">SIMPSON</text>
<text x="1351.6" y="1565.3" font-size="9.6" fill="#eceef4" textLength="79.7" lengthAdjust="spacingAndGlyphs">"LSTA15" STRAP</text>
<text x="1351.6" y="1575.2" font-size="9.6" fill="#eceef4" textLength="87.7" lengthAdjust="spacingAndGlyphs">@ STUD POCKETS</text>
<text x="1351.6" y="1585.2" font-size="9.6" fill="#eceef4" textLength="120.2" lengthAdjust="spacingAndGlyphs">(6- 10d NAILS EA END)</text>
<path d="M1347.2 1551.8 L1344.2 1551.8 L1313.8 1426.3" stroke="#d4d7e0" stroke-width="1" fill="none"/>
<path d="M1313.8 1426.3 L1316.8 1433.3 L1314.4 1433.9 Z" fill="#d4d7e0" stroke="none"/>
<text x="1194.5" y="1486.2" font-size="9.6" fill="#eceef4" textLength="43.4" lengthAdjust="spacingAndGlyphs">SIMPSON</text>
<text x="1194.5" y="1496.6" font-size="9.6" fill="#eceef4" textLength="79.7" lengthAdjust="spacingAndGlyphs">"LSTA15" STRAP</text>
<text x="1194.5" y="1506.9" font-size="9.6" fill="#eceef4" textLength="46.4" lengthAdjust="spacingAndGlyphs">TO BAND</text>
<path d="M1249.7 1483 L1283.7 1483 L1297.6 1545.9" stroke="#d4d7e0" stroke-width="1" fill="none"/>
<path d="M1297.6 1545.9 L1294.7 1538.8 L1297.2 1538.3 Z" fill="#d4d7e0" stroke="none"/>
<text x="1603.3" y="1486.2" font-size="9.6" fill="#eceef4" textLength="43.7" lengthAdjust="spacingAndGlyphs">SIMPSON</text>
<text x="1603.3" y="1496.6" font-size="9.6" fill="#eceef4" textLength="80" lengthAdjust="spacingAndGlyphs">"LSTA15" STRAP</text>
<text x="1603.3" y="1506.9" font-size="9.6" fill="#eceef4" textLength="46.7" lengthAdjust="spacingAndGlyphs">TO BAND</text>
<path d="M1599.7 1492.1 L1577.6 1492.1 L1539.2 1568" stroke="#d4d7e0" stroke-width="1" fill="none"/>
<path d="M1539.2 1568 L1541.4 1560.8 L1543.7 1561.9 Z" fill="#d4d7e0" stroke="none"/>
<circle cx="1328.3" cy="1614.4" r="11.2" stroke="#d4d7e0" stroke-width="1.2" fill="none"/>
<text x="1326.5" y="1618.8" font-size="14" fill="#eceef4" textLength="3.5" lengthAdjust="spacingAndGlyphs" style="stroke:none">I</text>
<text x="1346.3" y="1619.7" font-size="20.6" fill="#eceef4" textLength="274.1" lengthAdjust="spacingAndGlyphs" style="stroke:#23293c;stroke-width:0.4px">HEADER STRAP-ELEV.</text>
<path d="M1344.2 1623.5 L1620.4 1623.5" stroke="#d4d7e0" stroke-width="1.2" fill="none"/>
<text x="1588.8" y="1633" font-size="7.6" fill="#eceef4" textLength="17.7" lengthAdjust="spacingAndGlyphs">NTS</text>
<path d="M1940.3 1453.2 L2122.2 1317.5" stroke="#d4d7e0" stroke-width="1" fill="none"/>
<path d="M1955.7 1473.6 L2137.6 1337.5" stroke="#d4d7e0" stroke-width="1" fill="none"/>
<path d="M1940.3 1453.2 L1943.5 1458.9 L1954 1456.7 L1943.5 1469.4 L1950.9 1468.4 L1955.7 1474.3" stroke="#d4d7e0" stroke-width="1" fill="none"/>
<path d="M2122.2 1316.4 L2126 1322.8 L2136.6 1320.2 L2126.7 1332.9 L2134.5 1332.2 L2138.3 1337.9" stroke="#d4d7e0" stroke-width="1" fill="none"/>
<path d="M2019.5 1397.2 L2033.2 1415.6" stroke="#d4d7e0" stroke-width="1" fill="none"/>
<path d="M2045.8 1377.2 L2059.5 1394.5" stroke="#d4d7e0" stroke-width="1" fill="none"/>
<circle cx="2022.6" cy="1397.7" r="1.1" stroke="#d4d7e0" stroke-width="0.8" fill="#8c90a0"/>
<circle cx="2027.5" cy="1402.9" r="1.1" stroke="#d4d7e0" stroke-width="0.8" fill="#8c90a0"/>
<circle cx="2032.1" cy="1409.3" r="1.1" stroke="#d4d7e0" stroke-width="0.8" fill="#8c90a0"/>
<circle cx="2046.5" cy="1380.1" r="1.1" stroke="#d4d7e0" stroke-width="0.8" fill="#8c90a0"/>
<circle cx="2051.1" cy="1385.6" r="1.1" stroke="#d4d7e0" stroke-width="0.8" fill="#8c90a0"/>
<circle cx="2055.8" cy="1392" r="1.1" stroke="#d4d7e0" stroke-width="0.8" fill="#8c90a0"/>
<path d="M2035.9 1403.4 L2035.9 1508.4" stroke="#d4d7e0" stroke-width="1" fill="none"/>
<path d="M2048.6 1403.4 L2048.6 1508.4" stroke="#d4d7e0" stroke-width="1" fill="none"/>
<path d="M2035.9 1508.4 L2040.6 1507.4 L2042.7 1515.8 L2044.4 1503.2 L2048.6 1510.1" stroke="#d4d7e0" stroke-width="1" fill="none"/>
<rect x="2035.9" y="1403.4" width="12" height="5.9" stroke="#d4d7e0" stroke-width="1" fill="none"/>
<path d="M2035.9 1403.4 L2047.9 1409.3" stroke="#d4d7e0" stroke-width="1" fill="none"/>
<path d="M2035.9 1409.3 L2047.9 1403.4" stroke="#d4d7e0" stroke-width="1" fill="none"/>
<rect x="2035.9" y="1409.3" width="12" height="5.9" stroke="#d4d7e0" stroke-width="1" fill="none"/>
<path d="M2035.9 1409.3 L2047.9 1415.2" stroke="#d4d7e0" stroke-width="1" fill="none"/>
<path d="M2035.9 1415.2 L2047.9 1409.3" stroke="#d4d7e0" stroke-width="1" fill="none"/>
<rect x="2042.7" y="1394.1" width="5.3" height="7.8" fill="#9a9eac"/>
<rect x="2048.6" y="1465.8" width="4.6" height="17.7" stroke="#d4d7e0" stroke-width="1" fill="none"/>
<path d="M2048.6 1465.8 L2053.2 1483.5" stroke="#d4d7e0" stroke-width="1" fill="none"/>
<path d="M2048.6 1483.5 L2053.2 1465.8" stroke="#d4d7e0" stroke-width="1" fill="none"/>
<text x="1953" y="1312.8" font-size="10.6" fill="#eceef4" textLength="45.8" lengthAdjust="spacingAndGlyphs">RAFTER</text>
<path d="M2003 1309 L2026.8 1309 L2094.4 1337.1" stroke="#d4d7e0" stroke-width="1" fill="none"/>
<path d="M2094.4 1337.1 L2087 1335.4 L2087.9 1333.1 Z" fill="#d4d7e0" stroke="none"/>
<text x="1922" y="1340.1" font-size="10.6" fill="#eceef4" textLength="76.8" lengthAdjust="spacingAndGlyphs">1'-0" MINIMUM</text>
<text x="1940.3" y="1350.8" font-size="10.6" fill="#eceef4" textLength="58.5" lengthAdjust="spacingAndGlyphs">OVERLAP</text>
<path d="M2003 1336.5 L2011 1336.5 L2039.5 1377.6" stroke="#d4d7e0" stroke-width="1" fill="none"/>
<path d="M2039.5 1377.6 L2034.2 1372.2 L2036.3 1370.7 Z" fill="#d4d7e0" stroke="none"/>
<text x="1852.8" y="1379.7" font-size="10.6" fill="#eceef4" textLength="146" lengthAdjust="spacingAndGlyphs">HURRICANE CONNECTOR</text>
<text x="1843.9" y="1390.7" font-size="10.6" fill="#eceef4" textLength="154.9" lengthAdjust="spacingAndGlyphs">SIMPSON H2.5A OR EQUAL</text>
<path d="M2003 1376.6 L2012.1 1376.6 L2042.7 1394.5" stroke="#d4d7e0" stroke-width="1" fill="none"/>
<path d="M2042.7 1394.5 L2035.6 1391.8 L2036.8 1389.6 Z" fill="#d4d7e0" stroke="none"/>
<text x="2108.5" y="1373.8" font-size="10.6" fill="#eceef4" textLength="82.3" lengthAdjust="spacingAndGlyphs">(6) 10d NAILS</text>
<text x="2108.5" y="1385" font-size="10.6" fill="#eceef4" textLength="61.8" lengthAdjust="spacingAndGlyphs">AT SPLICE</text>
<path d="M2104.9 1370.9 L2080.6 1370.9 L2053.2 1385" stroke="#d4d7e0" stroke-width="1" fill="none"/>
<path d="M2053.2 1385 L2059.3 1380.5 L2060.5 1382.7 Z" fill="#d4d7e0" stroke="none"/>
<text x="2104.3" y="1423" font-size="10.6" fill="#eceef4" textLength="61.2" lengthAdjust="spacingAndGlyphs">2x4 STUDS</text>
<text x="2104.3" y="1434.2" font-size="10.6" fill="#eceef4" textLength="56.6" lengthAdjust="spacingAndGlyphs">@ 16" O.C.</text>
<path d="M2100.7 1418.8 L2088 1418.8 L2049.6 1437.8" stroke="#d4d7e0" stroke-width="1" fill="none"/>
<path d="M2049.6 1437.8 L2055.8 1433.3 L2056.9 1435.6 Z" fill="#d4d7e0" stroke="none"/>
<text x="2104.3" y="1473.6" font-size="10.6" fill="#eceef4" textLength="88.6" lengthAdjust="spacingAndGlyphs">2x6 BRACE AT</text>
<text x="2104.3" y="1483.9" font-size="10.6" fill="#eceef4" textLength="103.4" lengthAdjust="spacingAndGlyphs">MID WALL HEIGHT</text>
<text x="2104.3" y="1494.1" font-size="10.6" fill="#eceef4" textLength="99.8" lengthAdjust="spacingAndGlyphs">(EITHER SIDE OF</text>
<text x="2104.3" y="1504.3" font-size="10.6" fill="#eceef4" textLength="35.5" lengthAdjust="spacingAndGlyphs">WALL)</text>
<path d="M2100.7 1470.5 L2054.3 1470.5" stroke="#d4d7e0" stroke-width="1" fill="none"/>
<path d="M2054.3 1470.5 L2061.8 1469.2 L2061.8 1471.7 Z" fill="#d4d7e0" stroke="none"/>
<circle cx="1892.8" cy="1549.6" r="13.7" stroke="#d4d7e0" stroke-width="1.2" fill="none"/>
<text x="1888.6" y="1554.9" font-size="15" fill="#eceef4" textLength="8.9" lengthAdjust="spacingAndGlyphs" style="stroke:none">J</text>
<text x="1909.7" y="1556.6" font-size="25" fill="#eceef4" textLength="288" lengthAdjust="spacingAndGlyphs" style="stroke:#23293c;stroke-width:0.8px">TYPICAL RAFTER SPLICE</text>
<path d="M1908 1559.7 L2207.7 1559.7" stroke="#d4d7e0" stroke-width="1.2" fill="none"/>
<text x="1909.7" y="1579.1" font-size="25" fill="#eceef4" textLength="231.7" lengthAdjust="spacingAndGlyphs" style="stroke:#23293c;stroke-width:0.8px">ON ATTIC KNEEWALL</text>
<path d="M1908 1582.3 L2142.3 1582.3" stroke="#d4d7e0" stroke-width="1.2" fill="none"/>
<text x="2114.8" y="1593.3" font-size="9" fill="#eceef4" textLength="20.7" lengthAdjust="spacingAndGlyphs">NTS</text>
</g>
</svg>
</body></html>
